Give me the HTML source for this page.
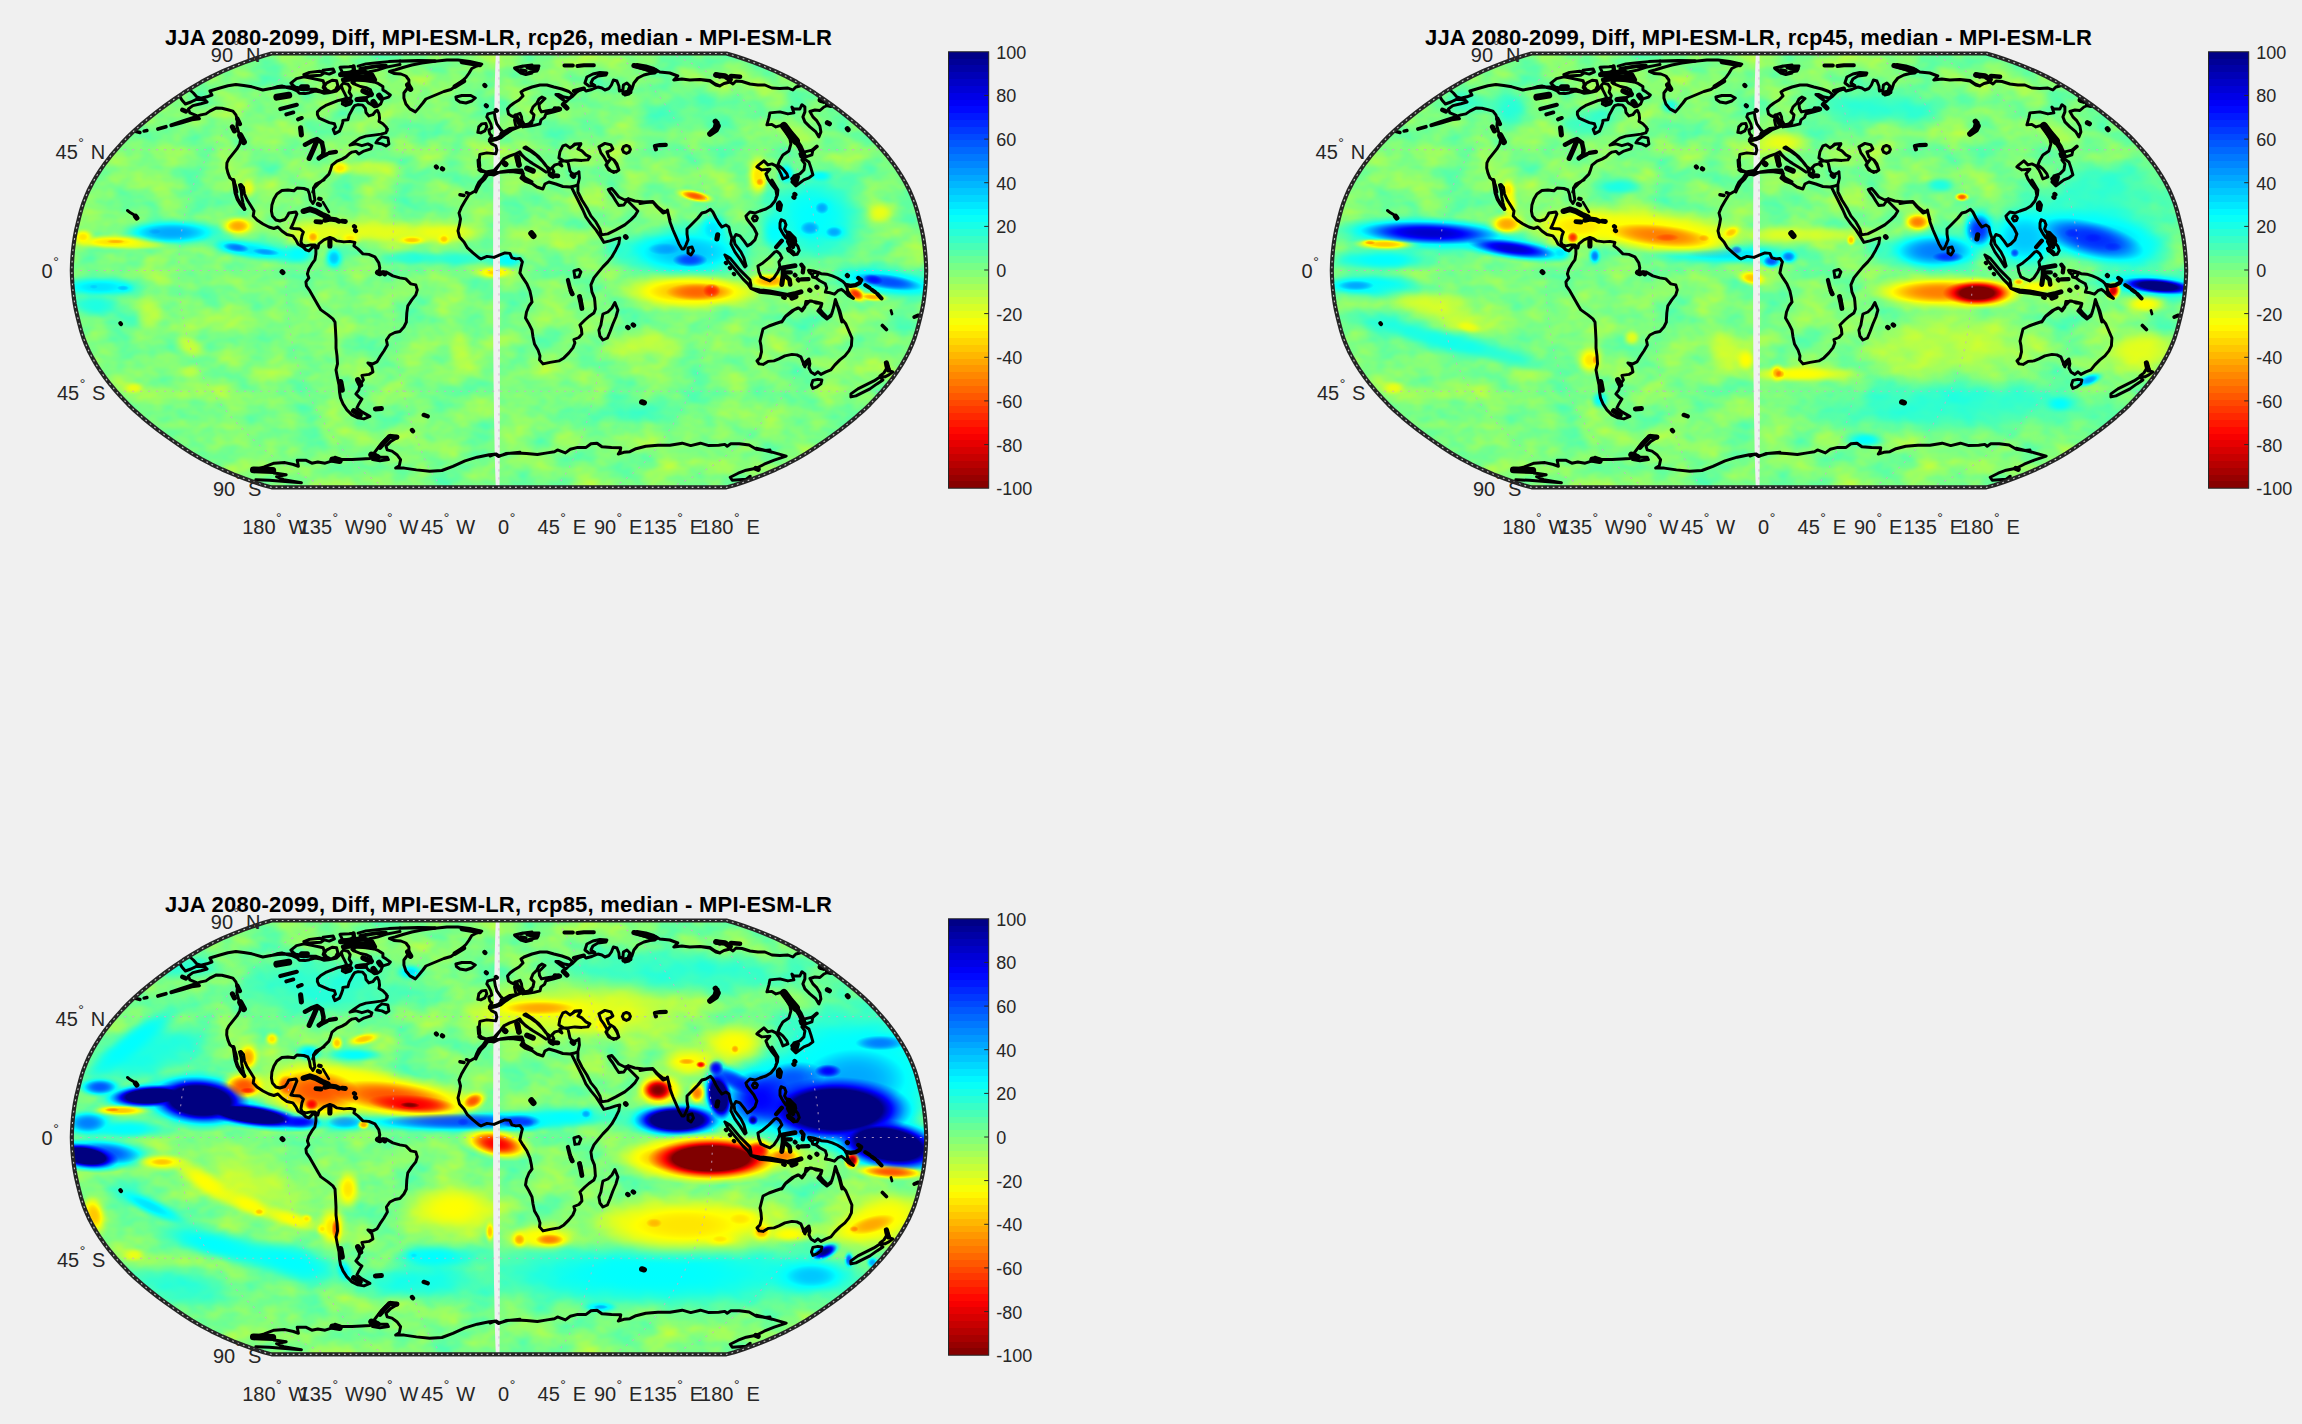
<!DOCTYPE html><html><head><meta charset="utf-8"><title>JJA 2080-2099 Diff MPI-ESM-LR</title>
<style>html,body{margin:0;padding:0;background:#f0f0f0;}body{width:2302px;height:1424px;overflow:hidden;}svg{display:block;font-family:"Liberation Sans",Arial,Helvetica,sans-serif;}.t{font-weight:bold;font-size:22px;fill:#000}.l{font-size:20px;fill:#262626}</style></head><body>
<svg width="2302" height="1424" viewBox="0 0 2302 1424">
<defs>
<clipPath id="rob"><path d="M271.6,487.4 L263.7,485.2 L254.6,482.2 L244.4,478.5 L233.6,474.3 L222.3,469.5 L211.4,464.3 L201.4,459 L192,453.4 L183.1,447.8 L174.5,441.9 L166,435.9 L157.8,429.8 L149.9,423.6 L142.3,417.3 L135,410.9 L128.2,404.4 L122,397.9 L116.1,391.3 L110.5,384.7 L105.3,378 L100.6,371.3 L96.3,364.6 L92.4,357.9 L88.9,351.2 L85.9,344.4 L83.3,337.7 L81.2,331 L79.4,324.3 L77.7,317.5 L76.1,310.8 L74.8,304.1 L73.8,297.4 L73,290.6 L72.4,283.9 L72,277.2 L71.8,270.4 L72,263.7 L72.4,257 L73,250.3 L73.8,243.5 L74.8,236.8 L76.1,230.1 L77.7,223.4 L79.4,216.6 L81.2,209.9 L83.3,203.2 L85.9,196.5 L88.9,189.7 L92.4,183 L96.3,176.3 L100.6,169.6 L105.3,162.9 L110.5,156.2 L116.1,149.6 L122,143 L128.2,136.5 L135,130 L142.3,123.6 L149.9,117.3 L157.8,111.1 L166,105 L174.5,99 L183.1,93.1 L192,87.5 L201.4,81.9 L211.4,76.6 L222.3,71.4 L233.6,66.6 L244.4,62.4 L254.6,58.7 L263.7,55.7 L271.6,53.5 L726.4,53.5 L734.3,55.7 L743.4,58.7 L753.6,62.4 L764.4,66.6 L775.7,71.4 L786.6,76.6 L796.6,81.9 L806,87.5 L814.9,93.1 L823.5,99 L832,105 L840.2,111.1 L848.1,117.3 L855.7,123.6 L863,130 L869.8,136.5 L876,143 L881.9,149.6 L887.5,156.2 L892.7,162.9 L897.4,169.6 L901.7,176.3 L905.6,183 L909.1,189.7 L912.1,196.5 L914.7,203.2 L916.8,209.9 L918.6,216.6 L920.3,223.4 L921.9,230.1 L923.2,236.8 L924.2,243.5 L925,250.3 L925.6,257 L926,263.7 L926.2,270.4 L926,277.2 L925.6,283.9 L925,290.6 L924.2,297.4 L923.2,304.1 L921.9,310.8 L920.3,317.5 L918.6,324.3 L916.8,331 L914.7,337.7 L912.1,344.4 L909.1,351.2 L905.6,357.9 L901.7,364.6 L897.4,371.3 L892.7,378 L887.5,384.7 L881.9,391.3 L876,397.9 L869.8,404.4 L863,410.9 L855.7,417.3 L848.1,423.6 L840.2,429.8 L832,435.9 L823.5,441.9 L814.9,447.8 L806,453.4 L796.6,459 L786.6,464.3 L775.7,469.5 L764.4,474.3 L753.6,478.5 L743.4,482.2 L734.3,485.2 L726.4,487.4Z"/></clipPath>
<filter id="b2" x="-50%" y="-50%" width="200%" height="200%"><feGaussianBlur stdDeviation="2"/></filter>
<filter id="b3" x="-50%" y="-50%" width="200%" height="200%"><feGaussianBlur stdDeviation="3"/></filter>
<filter id="b4" x="-50%" y="-50%" width="200%" height="200%"><feGaussianBlur stdDeviation="4"/></filter>
<filter id="b6" x="-50%" y="-50%" width="200%" height="200%"><feGaussianBlur stdDeviation="6"/></filter>
<filter id="b9" x="-50%" y="-50%" width="200%" height="200%"><feGaussianBlur stdDeviation="9"/></filter>
<filter id="b14" x="-50%" y="-50%" width="200%" height="200%"><feGaussianBlur stdDeviation="14"/></filter>
<linearGradient id="jet" x1="0" y1="0" x2="0" y2="1"><stop offset="0.000%" stop-color="#000087"/><stop offset="1.562%" stop-color="#000087"/><stop offset="1.562%" stop-color="#000097"/><stop offset="3.125%" stop-color="#000097"/><stop offset="3.125%" stop-color="#0000a7"/><stop offset="4.688%" stop-color="#0000a7"/><stop offset="4.688%" stop-color="#0000b7"/><stop offset="6.250%" stop-color="#0000b7"/><stop offset="6.250%" stop-color="#0000c7"/><stop offset="7.812%" stop-color="#0000c7"/><stop offset="7.812%" stop-color="#0000d7"/><stop offset="9.375%" stop-color="#0000d7"/><stop offset="9.375%" stop-color="#0000e7"/><stop offset="10.938%" stop-color="#0000e7"/><stop offset="10.938%" stop-color="#0000f7"/><stop offset="12.500%" stop-color="#0000f7"/><stop offset="12.500%" stop-color="#0008ff"/><stop offset="14.062%" stop-color="#0008ff"/><stop offset="14.062%" stop-color="#0018ff"/><stop offset="15.625%" stop-color="#0018ff"/><stop offset="15.625%" stop-color="#0028ff"/><stop offset="17.188%" stop-color="#0028ff"/><stop offset="17.188%" stop-color="#0038ff"/><stop offset="18.750%" stop-color="#0038ff"/><stop offset="18.750%" stop-color="#0048ff"/><stop offset="20.312%" stop-color="#0048ff"/><stop offset="20.312%" stop-color="#0058ff"/><stop offset="21.875%" stop-color="#0058ff"/><stop offset="21.875%" stop-color="#0068ff"/><stop offset="23.438%" stop-color="#0068ff"/><stop offset="23.438%" stop-color="#0078ff"/><stop offset="25.000%" stop-color="#0078ff"/><stop offset="25.000%" stop-color="#0087ff"/><stop offset="26.562%" stop-color="#0087ff"/><stop offset="26.562%" stop-color="#0097ff"/><stop offset="28.125%" stop-color="#0097ff"/><stop offset="28.125%" stop-color="#00a7ff"/><stop offset="29.688%" stop-color="#00a7ff"/><stop offset="29.688%" stop-color="#00b7ff"/><stop offset="31.250%" stop-color="#00b7ff"/><stop offset="31.250%" stop-color="#00c7ff"/><stop offset="32.812%" stop-color="#00c7ff"/><stop offset="32.812%" stop-color="#00d7ff"/><stop offset="34.375%" stop-color="#00d7ff"/><stop offset="34.375%" stop-color="#00e7ff"/><stop offset="35.938%" stop-color="#00e7ff"/><stop offset="35.938%" stop-color="#00f7ff"/><stop offset="37.500%" stop-color="#00f7ff"/><stop offset="37.500%" stop-color="#08fff7"/><stop offset="39.062%" stop-color="#08fff7"/><stop offset="39.062%" stop-color="#18ffe7"/><stop offset="40.625%" stop-color="#18ffe7"/><stop offset="40.625%" stop-color="#28ffd7"/><stop offset="42.188%" stop-color="#28ffd7"/><stop offset="42.188%" stop-color="#38ffc7"/><stop offset="43.750%" stop-color="#38ffc7"/><stop offset="43.750%" stop-color="#48ffb7"/><stop offset="45.312%" stop-color="#48ffb7"/><stop offset="45.312%" stop-color="#58ffa7"/><stop offset="46.875%" stop-color="#58ffa7"/><stop offset="46.875%" stop-color="#68ff97"/><stop offset="48.438%" stop-color="#68ff97"/><stop offset="48.438%" stop-color="#78ff87"/><stop offset="50.000%" stop-color="#78ff87"/><stop offset="50.000%" stop-color="#87ff78"/><stop offset="51.562%" stop-color="#87ff78"/><stop offset="51.562%" stop-color="#97ff68"/><stop offset="53.125%" stop-color="#97ff68"/><stop offset="53.125%" stop-color="#a7ff58"/><stop offset="54.688%" stop-color="#a7ff58"/><stop offset="54.688%" stop-color="#b7ff48"/><stop offset="56.250%" stop-color="#b7ff48"/><stop offset="56.250%" stop-color="#c7ff38"/><stop offset="57.812%" stop-color="#c7ff38"/><stop offset="57.812%" stop-color="#d7ff28"/><stop offset="59.375%" stop-color="#d7ff28"/><stop offset="59.375%" stop-color="#e7ff18"/><stop offset="60.938%" stop-color="#e7ff18"/><stop offset="60.938%" stop-color="#f7ff08"/><stop offset="62.500%" stop-color="#f7ff08"/><stop offset="62.500%" stop-color="#fff700"/><stop offset="64.062%" stop-color="#fff700"/><stop offset="64.062%" stop-color="#ffe700"/><stop offset="65.625%" stop-color="#ffe700"/><stop offset="65.625%" stop-color="#ffd700"/><stop offset="67.188%" stop-color="#ffd700"/><stop offset="67.188%" stop-color="#ffc700"/><stop offset="68.750%" stop-color="#ffc700"/><stop offset="68.750%" stop-color="#ffb700"/><stop offset="70.312%" stop-color="#ffb700"/><stop offset="70.312%" stop-color="#ffa700"/><stop offset="71.875%" stop-color="#ffa700"/><stop offset="71.875%" stop-color="#ff9700"/><stop offset="73.438%" stop-color="#ff9700"/><stop offset="73.438%" stop-color="#ff8700"/><stop offset="75.000%" stop-color="#ff8700"/><stop offset="75.000%" stop-color="#ff7800"/><stop offset="76.562%" stop-color="#ff7800"/><stop offset="76.562%" stop-color="#ff6800"/><stop offset="78.125%" stop-color="#ff6800"/><stop offset="78.125%" stop-color="#ff5800"/><stop offset="79.688%" stop-color="#ff5800"/><stop offset="79.688%" stop-color="#ff4800"/><stop offset="81.250%" stop-color="#ff4800"/><stop offset="81.250%" stop-color="#ff3800"/><stop offset="82.812%" stop-color="#ff3800"/><stop offset="82.812%" stop-color="#ff2800"/><stop offset="84.375%" stop-color="#ff2800"/><stop offset="84.375%" stop-color="#ff1800"/><stop offset="85.938%" stop-color="#ff1800"/><stop offset="85.938%" stop-color="#ff0800"/><stop offset="87.500%" stop-color="#ff0800"/><stop offset="87.500%" stop-color="#f70000"/><stop offset="89.062%" stop-color="#f70000"/><stop offset="89.062%" stop-color="#e70000"/><stop offset="90.625%" stop-color="#e70000"/><stop offset="90.625%" stop-color="#d70000"/><stop offset="92.188%" stop-color="#d70000"/><stop offset="92.188%" stop-color="#c70000"/><stop offset="93.750%" stop-color="#c70000"/><stop offset="93.750%" stop-color="#b70000"/><stop offset="95.312%" stop-color="#b70000"/><stop offset="95.312%" stop-color="#a70000"/><stop offset="96.875%" stop-color="#a70000"/><stop offset="96.875%" stop-color="#970000"/><stop offset="98.438%" stop-color="#970000"/><stop offset="98.438%" stop-color="#870000"/><stop offset="100.000%" stop-color="#870000"/></linearGradient>
<radialGradient id="n8_1"><stop offset="0" stop-color="#ffff00" stop-opacity="0.320"/><stop offset="0.12" stop-color="#ffff00" stop-opacity="0.318"/><stop offset="0.2" stop-color="#ffff00" stop-opacity="0.309"/><stop offset="0.28" stop-color="#ffff00" stop-opacity="0.292"/><stop offset="0.36" stop-color="#ffff00" stop-opacity="0.263"/><stop offset="0.44" stop-color="#ffff00" stop-opacity="0.224"/><stop offset="0.52" stop-color="#ffff00" stop-opacity="0.177"/><stop offset="0.6" stop-color="#ffff00" stop-opacity="0.129"/><stop offset="0.68" stop-color="#ffff00" stop-opacity="0.086"/><stop offset="0.76" stop-color="#ffff00" stop-opacity="0.051"/><stop offset="0.84" stop-color="#ffff00" stop-opacity="0.027"/><stop offset="0.92" stop-color="#ffff00" stop-opacity="0.012"/><stop offset="1" stop-color="#ffff00" stop-opacity="0.000"/></radialGradient>
<radialGradient id="p8_1"><stop offset="0" stop-color="#00ffff" stop-opacity="0.320"/><stop offset="0.12" stop-color="#00ffff" stop-opacity="0.318"/><stop offset="0.2" stop-color="#00ffff" stop-opacity="0.309"/><stop offset="0.28" stop-color="#00ffff" stop-opacity="0.292"/><stop offset="0.36" stop-color="#00ffff" stop-opacity="0.263"/><stop offset="0.44" stop-color="#00ffff" stop-opacity="0.224"/><stop offset="0.52" stop-color="#00ffff" stop-opacity="0.177"/><stop offset="0.6" stop-color="#00ffff" stop-opacity="0.129"/><stop offset="0.68" stop-color="#00ffff" stop-opacity="0.086"/><stop offset="0.76" stop-color="#00ffff" stop-opacity="0.051"/><stop offset="0.84" stop-color="#00ffff" stop-opacity="0.027"/><stop offset="0.92" stop-color="#00ffff" stop-opacity="0.012"/><stop offset="1" stop-color="#00ffff" stop-opacity="0.000"/></radialGradient>
<radialGradient id="n12_1"><stop offset="0" stop-color="#ffff00" stop-opacity="0.480"/><stop offset="0.12" stop-color="#ffff00" stop-opacity="0.477"/><stop offset="0.2" stop-color="#ffff00" stop-opacity="0.464"/><stop offset="0.28" stop-color="#ffff00" stop-opacity="0.438"/><stop offset="0.36" stop-color="#ffff00" stop-opacity="0.395"/><stop offset="0.44" stop-color="#ffff00" stop-opacity="0.336"/><stop offset="0.52" stop-color="#ffff00" stop-opacity="0.266"/><stop offset="0.6" stop-color="#ffff00" stop-opacity="0.194"/><stop offset="0.68" stop-color="#ffff00" stop-opacity="0.128"/><stop offset="0.76" stop-color="#ffff00" stop-opacity="0.076"/><stop offset="0.84" stop-color="#ffff00" stop-opacity="0.040"/><stop offset="0.92" stop-color="#ffff00" stop-opacity="0.018"/><stop offset="1" stop-color="#ffff00" stop-opacity="0.000"/></radialGradient>
<radialGradient id="p12_1"><stop offset="0" stop-color="#00ffff" stop-opacity="0.480"/><stop offset="0.12" stop-color="#00ffff" stop-opacity="0.477"/><stop offset="0.2" stop-color="#00ffff" stop-opacity="0.464"/><stop offset="0.28" stop-color="#00ffff" stop-opacity="0.438"/><stop offset="0.36" stop-color="#00ffff" stop-opacity="0.395"/><stop offset="0.44" stop-color="#00ffff" stop-opacity="0.336"/><stop offset="0.52" stop-color="#00ffff" stop-opacity="0.266"/><stop offset="0.6" stop-color="#00ffff" stop-opacity="0.194"/><stop offset="0.68" stop-color="#00ffff" stop-opacity="0.128"/><stop offset="0.76" stop-color="#00ffff" stop-opacity="0.076"/><stop offset="0.84" stop-color="#00ffff" stop-opacity="0.040"/><stop offset="0.92" stop-color="#00ffff" stop-opacity="0.018"/><stop offset="1" stop-color="#00ffff" stop-opacity="0.000"/></radialGradient>
<radialGradient id="n16_1"><stop offset="0" stop-color="#ffff00" stop-opacity="0.640"/><stop offset="0.12" stop-color="#ffff00" stop-opacity="0.635"/><stop offset="0.2" stop-color="#ffff00" stop-opacity="0.619"/><stop offset="0.28" stop-color="#ffff00" stop-opacity="0.584"/><stop offset="0.36" stop-color="#ffff00" stop-opacity="0.526"/><stop offset="0.44" stop-color="#ffff00" stop-opacity="0.448"/><stop offset="0.52" stop-color="#ffff00" stop-opacity="0.355"/><stop offset="0.6" stop-color="#ffff00" stop-opacity="0.259"/><stop offset="0.68" stop-color="#ffff00" stop-opacity="0.171"/><stop offset="0.76" stop-color="#ffff00" stop-opacity="0.101"/><stop offset="0.84" stop-color="#ffff00" stop-opacity="0.053"/><stop offset="0.92" stop-color="#ffff00" stop-opacity="0.024"/><stop offset="1" stop-color="#ffff00" stop-opacity="0.000"/></radialGradient>
<radialGradient id="p16_1"><stop offset="0" stop-color="#00ffff" stop-opacity="0.640"/><stop offset="0.12" stop-color="#00ffff" stop-opacity="0.635"/><stop offset="0.2" stop-color="#00ffff" stop-opacity="0.619"/><stop offset="0.28" stop-color="#00ffff" stop-opacity="0.584"/><stop offset="0.36" stop-color="#00ffff" stop-opacity="0.526"/><stop offset="0.44" stop-color="#00ffff" stop-opacity="0.448"/><stop offset="0.52" stop-color="#00ffff" stop-opacity="0.355"/><stop offset="0.6" stop-color="#00ffff" stop-opacity="0.259"/><stop offset="0.68" stop-color="#00ffff" stop-opacity="0.171"/><stop offset="0.76" stop-color="#00ffff" stop-opacity="0.101"/><stop offset="0.84" stop-color="#00ffff" stop-opacity="0.053"/><stop offset="0.92" stop-color="#00ffff" stop-opacity="0.024"/><stop offset="1" stop-color="#00ffff" stop-opacity="0.000"/></radialGradient>
<radialGradient id="n20_1"><stop offset="0" stop-color="#ffff00" stop-opacity="0.800"/><stop offset="0.12" stop-color="#ffff00" stop-opacity="0.794"/><stop offset="0.2" stop-color="#ffff00" stop-opacity="0.774"/><stop offset="0.28" stop-color="#ffff00" stop-opacity="0.730"/><stop offset="0.36" stop-color="#ffff00" stop-opacity="0.658"/><stop offset="0.44" stop-color="#ffff00" stop-opacity="0.560"/><stop offset="0.52" stop-color="#ffff00" stop-opacity="0.443"/><stop offset="0.6" stop-color="#ffff00" stop-opacity="0.323"/><stop offset="0.68" stop-color="#ffff00" stop-opacity="0.214"/><stop offset="0.76" stop-color="#ffff00" stop-opacity="0.127"/><stop offset="0.84" stop-color="#ffff00" stop-opacity="0.067"/><stop offset="0.92" stop-color="#ffff00" stop-opacity="0.030"/><stop offset="1" stop-color="#ffff00" stop-opacity="0.000"/></radialGradient>
<radialGradient id="p20_1"><stop offset="0" stop-color="#00ffff" stop-opacity="0.800"/><stop offset="0.12" stop-color="#00ffff" stop-opacity="0.794"/><stop offset="0.2" stop-color="#00ffff" stop-opacity="0.774"/><stop offset="0.28" stop-color="#00ffff" stop-opacity="0.730"/><stop offset="0.36" stop-color="#00ffff" stop-opacity="0.658"/><stop offset="0.44" stop-color="#00ffff" stop-opacity="0.560"/><stop offset="0.52" stop-color="#00ffff" stop-opacity="0.443"/><stop offset="0.6" stop-color="#00ffff" stop-opacity="0.323"/><stop offset="0.68" stop-color="#00ffff" stop-opacity="0.214"/><stop offset="0.76" stop-color="#00ffff" stop-opacity="0.127"/><stop offset="0.84" stop-color="#00ffff" stop-opacity="0.067"/><stop offset="0.92" stop-color="#00ffff" stop-opacity="0.030"/><stop offset="1" stop-color="#00ffff" stop-opacity="0.000"/></radialGradient>
<radialGradient id="n25_1"><stop offset="0" stop-color="#ffff00" stop-opacity="1.000"/><stop offset="0.12" stop-color="#ffff00" stop-opacity="0.993"/><stop offset="0.2" stop-color="#ffff00" stop-opacity="0.967"/><stop offset="0.28" stop-color="#ffff00" stop-opacity="0.912"/><stop offset="0.36" stop-color="#ffff00" stop-opacity="0.822"/><stop offset="0.44" stop-color="#ffff00" stop-opacity="0.699"/><stop offset="0.52" stop-color="#ffff00" stop-opacity="0.554"/><stop offset="0.6" stop-color="#ffff00" stop-opacity="0.404"/><stop offset="0.68" stop-color="#ffff00" stop-opacity="0.267"/><stop offset="0.76" stop-color="#ffff00" stop-opacity="0.159"/><stop offset="0.84" stop-color="#ffff00" stop-opacity="0.083"/><stop offset="0.92" stop-color="#ffff00" stop-opacity="0.038"/><stop offset="1" stop-color="#ffff00" stop-opacity="0.000"/></radialGradient>
<radialGradient id="p25_1"><stop offset="0" stop-color="#00ffff" stop-opacity="1.000"/><stop offset="0.12" stop-color="#00ffff" stop-opacity="0.993"/><stop offset="0.2" stop-color="#00ffff" stop-opacity="0.967"/><stop offset="0.28" stop-color="#00ffff" stop-opacity="0.912"/><stop offset="0.36" stop-color="#00ffff" stop-opacity="0.822"/><stop offset="0.44" stop-color="#00ffff" stop-opacity="0.699"/><stop offset="0.52" stop-color="#00ffff" stop-opacity="0.554"/><stop offset="0.6" stop-color="#00ffff" stop-opacity="0.404"/><stop offset="0.68" stop-color="#00ffff" stop-opacity="0.267"/><stop offset="0.76" stop-color="#00ffff" stop-opacity="0.159"/><stop offset="0.84" stop-color="#00ffff" stop-opacity="0.083"/><stop offset="0.92" stop-color="#00ffff" stop-opacity="0.038"/><stop offset="1" stop-color="#00ffff" stop-opacity="0.000"/></radialGradient>
<radialGradient id="n30_1"><stop offset="0" stop-color="#ffff00" stop-opacity="1.000"/><stop offset="0.12" stop-color="#ffff00" stop-opacity="1.000"/><stop offset="0.2" stop-color="#ffff00" stop-opacity="1.000"/><stop offset="0.28" stop-color="#ffff00" stop-opacity="1.000"/><stop offset="0.352" stop-color="#ffff00" stop-opacity="0.999"/><stop offset="0.36" stop-color="#ffff00" stop-opacity="0.987"/><stop offset="0.44" stop-color="#ffff00" stop-opacity="0.839"/><stop offset="0.52" stop-color="#ffff00" stop-opacity="0.665"/><stop offset="0.6" stop-color="#ffff00" stop-opacity="0.485"/><stop offset="0.68" stop-color="#ffff00" stop-opacity="0.321"/><stop offset="0.76" stop-color="#ffff00" stop-opacity="0.190"/><stop offset="0.84" stop-color="#ffff00" stop-opacity="0.100"/><stop offset="0.92" stop-color="#ffff00" stop-opacity="0.046"/><stop offset="1" stop-color="#ffff00" stop-opacity="0.000"/></radialGradient>
<radialGradient id="n30_2"><stop offset="0" stop-color="#ff0000" stop-opacity="0.100"/><stop offset="0.12" stop-color="#ff0000" stop-opacity="0.096"/><stop offset="0.2" stop-color="#ff0000" stop-opacity="0.080"/><stop offset="0.28" stop-color="#ff0000" stop-opacity="0.047"/><stop offset="0.352" stop-color="#ff0000" stop-opacity="0.000"/><stop offset="1" stop-color="#ff0000" stop-opacity="0.000"/></radialGradient>
<radialGradient id="p30_1"><stop offset="0" stop-color="#00ffff" stop-opacity="1.000"/><stop offset="0.12" stop-color="#00ffff" stop-opacity="1.000"/><stop offset="0.2" stop-color="#00ffff" stop-opacity="1.000"/><stop offset="0.28" stop-color="#00ffff" stop-opacity="1.000"/><stop offset="0.352" stop-color="#00ffff" stop-opacity="0.999"/><stop offset="0.36" stop-color="#00ffff" stop-opacity="0.987"/><stop offset="0.44" stop-color="#00ffff" stop-opacity="0.839"/><stop offset="0.52" stop-color="#00ffff" stop-opacity="0.665"/><stop offset="0.6" stop-color="#00ffff" stop-opacity="0.485"/><stop offset="0.68" stop-color="#00ffff" stop-opacity="0.321"/><stop offset="0.76" stop-color="#00ffff" stop-opacity="0.190"/><stop offset="0.84" stop-color="#00ffff" stop-opacity="0.100"/><stop offset="0.92" stop-color="#00ffff" stop-opacity="0.046"/><stop offset="1" stop-color="#00ffff" stop-opacity="0.000"/></radialGradient>
<radialGradient id="p30_2"><stop offset="0" stop-color="#0000ff" stop-opacity="0.100"/><stop offset="0.12" stop-color="#0000ff" stop-opacity="0.096"/><stop offset="0.2" stop-color="#0000ff" stop-opacity="0.080"/><stop offset="0.28" stop-color="#0000ff" stop-opacity="0.047"/><stop offset="0.352" stop-color="#0000ff" stop-opacity="0.000"/><stop offset="1" stop-color="#0000ff" stop-opacity="0.000"/></radialGradient>
<radialGradient id="n36_1"><stop offset="0" stop-color="#ffff00" stop-opacity="1.000"/><stop offset="0.12" stop-color="#ffff00" stop-opacity="1.000"/><stop offset="0.2" stop-color="#ffff00" stop-opacity="1.000"/><stop offset="0.28" stop-color="#ffff00" stop-opacity="1.000"/><stop offset="0.36" stop-color="#ffff00" stop-opacity="1.000"/><stop offset="0.44" stop-color="#ffff00" stop-opacity="1.000"/><stop offset="0.443" stop-color="#ffff00" stop-opacity="1.000"/><stop offset="0.52" stop-color="#ffff00" stop-opacity="0.798"/><stop offset="0.6" stop-color="#ffff00" stop-opacity="0.582"/><stop offset="0.68" stop-color="#ffff00" stop-opacity="0.385"/><stop offset="0.76" stop-color="#ffff00" stop-opacity="0.228"/><stop offset="0.84" stop-color="#ffff00" stop-opacity="0.120"/><stop offset="0.92" stop-color="#ffff00" stop-opacity="0.055"/><stop offset="1" stop-color="#ffff00" stop-opacity="0.000"/></radialGradient>
<radialGradient id="n36_2"><stop offset="0" stop-color="#ff0000" stop-opacity="0.220"/><stop offset="0.12" stop-color="#ff0000" stop-opacity="0.215"/><stop offset="0.2" stop-color="#ff0000" stop-opacity="0.196"/><stop offset="0.28" stop-color="#ff0000" stop-opacity="0.157"/><stop offset="0.36" stop-color="#ff0000" stop-opacity="0.092"/><stop offset="0.44" stop-color="#ff0000" stop-opacity="0.004"/><stop offset="0.443" stop-color="#ff0000" stop-opacity="0.000"/><stop offset="1" stop-color="#ff0000" stop-opacity="0.000"/></radialGradient>
<radialGradient id="p36_1"><stop offset="0" stop-color="#00ffff" stop-opacity="1.000"/><stop offset="0.12" stop-color="#00ffff" stop-opacity="1.000"/><stop offset="0.2" stop-color="#00ffff" stop-opacity="1.000"/><stop offset="0.28" stop-color="#00ffff" stop-opacity="1.000"/><stop offset="0.36" stop-color="#00ffff" stop-opacity="1.000"/><stop offset="0.44" stop-color="#00ffff" stop-opacity="1.000"/><stop offset="0.443" stop-color="#00ffff" stop-opacity="1.000"/><stop offset="0.52" stop-color="#00ffff" stop-opacity="0.798"/><stop offset="0.6" stop-color="#00ffff" stop-opacity="0.582"/><stop offset="0.68" stop-color="#00ffff" stop-opacity="0.385"/><stop offset="0.76" stop-color="#00ffff" stop-opacity="0.228"/><stop offset="0.84" stop-color="#00ffff" stop-opacity="0.120"/><stop offset="0.92" stop-color="#00ffff" stop-opacity="0.055"/><stop offset="1" stop-color="#00ffff" stop-opacity="0.000"/></radialGradient>
<radialGradient id="p36_2"><stop offset="0" stop-color="#0000ff" stop-opacity="0.220"/><stop offset="0.12" stop-color="#0000ff" stop-opacity="0.215"/><stop offset="0.2" stop-color="#0000ff" stop-opacity="0.196"/><stop offset="0.28" stop-color="#0000ff" stop-opacity="0.157"/><stop offset="0.36" stop-color="#0000ff" stop-opacity="0.092"/><stop offset="0.44" stop-color="#0000ff" stop-opacity="0.004"/><stop offset="0.443" stop-color="#0000ff" stop-opacity="0.000"/><stop offset="1" stop-color="#0000ff" stop-opacity="0.000"/></radialGradient>
<radialGradient id="n42_1"><stop offset="0" stop-color="#ffff00" stop-opacity="1.000"/><stop offset="0.12" stop-color="#ffff00" stop-opacity="1.000"/><stop offset="0.2" stop-color="#ffff00" stop-opacity="1.000"/><stop offset="0.28" stop-color="#ffff00" stop-opacity="1.000"/><stop offset="0.36" stop-color="#ffff00" stop-opacity="1.000"/><stop offset="0.44" stop-color="#ffff00" stop-opacity="1.000"/><stop offset="0.498" stop-color="#ffff00" stop-opacity="1.000"/><stop offset="0.52" stop-color="#ffff00" stop-opacity="0.931"/><stop offset="0.6" stop-color="#ffff00" stop-opacity="0.679"/><stop offset="0.68" stop-color="#ffff00" stop-opacity="0.449"/><stop offset="0.76" stop-color="#ffff00" stop-opacity="0.266"/><stop offset="0.84" stop-color="#ffff00" stop-opacity="0.140"/><stop offset="0.92" stop-color="#ffff00" stop-opacity="0.064"/><stop offset="1" stop-color="#ffff00" stop-opacity="0.000"/></radialGradient>
<radialGradient id="n42_2"><stop offset="0" stop-color="#ff0000" stop-opacity="0.340"/><stop offset="0.12" stop-color="#ff0000" stop-opacity="0.334"/><stop offset="0.2" stop-color="#ff0000" stop-opacity="0.312"/><stop offset="0.28" stop-color="#ff0000" stop-opacity="0.266"/><stop offset="0.36" stop-color="#ff0000" stop-opacity="0.191"/><stop offset="0.44" stop-color="#ff0000" stop-opacity="0.088"/><stop offset="0.498" stop-color="#ff0000" stop-opacity="0.000"/><stop offset="0.52" stop-color="#ff0000" stop-opacity="0.000"/><stop offset="1" stop-color="#ff0000" stop-opacity="0.000"/></radialGradient>
<radialGradient id="p42_1"><stop offset="0" stop-color="#00ffff" stop-opacity="1.000"/><stop offset="0.12" stop-color="#00ffff" stop-opacity="1.000"/><stop offset="0.2" stop-color="#00ffff" stop-opacity="1.000"/><stop offset="0.28" stop-color="#00ffff" stop-opacity="1.000"/><stop offset="0.36" stop-color="#00ffff" stop-opacity="1.000"/><stop offset="0.44" stop-color="#00ffff" stop-opacity="1.000"/><stop offset="0.498" stop-color="#00ffff" stop-opacity="1.000"/><stop offset="0.52" stop-color="#00ffff" stop-opacity="0.931"/><stop offset="0.6" stop-color="#00ffff" stop-opacity="0.679"/><stop offset="0.68" stop-color="#00ffff" stop-opacity="0.449"/><stop offset="0.76" stop-color="#00ffff" stop-opacity="0.266"/><stop offset="0.84" stop-color="#00ffff" stop-opacity="0.140"/><stop offset="0.92" stop-color="#00ffff" stop-opacity="0.064"/><stop offset="1" stop-color="#00ffff" stop-opacity="0.000"/></radialGradient>
<radialGradient id="p42_2"><stop offset="0" stop-color="#0000ff" stop-opacity="0.340"/><stop offset="0.12" stop-color="#0000ff" stop-opacity="0.334"/><stop offset="0.2" stop-color="#0000ff" stop-opacity="0.312"/><stop offset="0.28" stop-color="#0000ff" stop-opacity="0.266"/><stop offset="0.36" stop-color="#0000ff" stop-opacity="0.191"/><stop offset="0.44" stop-color="#0000ff" stop-opacity="0.088"/><stop offset="0.498" stop-color="#0000ff" stop-opacity="0.000"/><stop offset="0.52" stop-color="#0000ff" stop-opacity="0.000"/><stop offset="1" stop-color="#0000ff" stop-opacity="0.000"/></radialGradient>
<radialGradient id="n50_1"><stop offset="0" stop-color="#ffff00" stop-opacity="1.000"/><stop offset="0.12" stop-color="#ffff00" stop-opacity="1.000"/><stop offset="0.2" stop-color="#ffff00" stop-opacity="1.000"/><stop offset="0.28" stop-color="#ffff00" stop-opacity="1.000"/><stop offset="0.36" stop-color="#ffff00" stop-opacity="1.000"/><stop offset="0.44" stop-color="#ffff00" stop-opacity="1.000"/><stop offset="0.52" stop-color="#ffff00" stop-opacity="1.000"/><stop offset="0.549" stop-color="#ffff00" stop-opacity="0.999"/><stop offset="0.6" stop-color="#ffff00" stop-opacity="0.808"/><stop offset="0.68" stop-color="#ffff00" stop-opacity="0.535"/><stop offset="0.76" stop-color="#ffff00" stop-opacity="0.317"/><stop offset="0.84" stop-color="#ffff00" stop-opacity="0.166"/><stop offset="0.92" stop-color="#ffff00" stop-opacity="0.076"/><stop offset="1" stop-color="#ffff00" stop-opacity="0.000"/></radialGradient>
<radialGradient id="n50_2"><stop offset="0" stop-color="#ff0000" stop-opacity="0.500"/><stop offset="0.12" stop-color="#ff0000" stop-opacity="0.493"/><stop offset="0.2" stop-color="#ff0000" stop-opacity="0.467"/><stop offset="0.28" stop-color="#ff0000" stop-opacity="0.412"/><stop offset="0.36" stop-color="#ff0000" stop-opacity="0.322"/><stop offset="0.44" stop-color="#ff0000" stop-opacity="0.199"/><stop offset="0.52" stop-color="#ff0000" stop-opacity="0.054"/><stop offset="0.549" stop-color="#ff0000" stop-opacity="0.000"/><stop offset="1" stop-color="#ff0000" stop-opacity="0.000"/></radialGradient>
<radialGradient id="p50_1"><stop offset="0" stop-color="#00ffff" stop-opacity="1.000"/><stop offset="0.12" stop-color="#00ffff" stop-opacity="1.000"/><stop offset="0.2" stop-color="#00ffff" stop-opacity="1.000"/><stop offset="0.28" stop-color="#00ffff" stop-opacity="1.000"/><stop offset="0.36" stop-color="#00ffff" stop-opacity="1.000"/><stop offset="0.44" stop-color="#00ffff" stop-opacity="1.000"/><stop offset="0.52" stop-color="#00ffff" stop-opacity="1.000"/><stop offset="0.549" stop-color="#00ffff" stop-opacity="0.999"/><stop offset="0.6" stop-color="#00ffff" stop-opacity="0.808"/><stop offset="0.68" stop-color="#00ffff" stop-opacity="0.535"/><stop offset="0.76" stop-color="#00ffff" stop-opacity="0.317"/><stop offset="0.84" stop-color="#00ffff" stop-opacity="0.166"/><stop offset="0.92" stop-color="#00ffff" stop-opacity="0.076"/><stop offset="1" stop-color="#00ffff" stop-opacity="0.000"/></radialGradient>
<radialGradient id="p50_2"><stop offset="0" stop-color="#0000ff" stop-opacity="0.500"/><stop offset="0.12" stop-color="#0000ff" stop-opacity="0.493"/><stop offset="0.2" stop-color="#0000ff" stop-opacity="0.467"/><stop offset="0.28" stop-color="#0000ff" stop-opacity="0.412"/><stop offset="0.36" stop-color="#0000ff" stop-opacity="0.322"/><stop offset="0.44" stop-color="#0000ff" stop-opacity="0.199"/><stop offset="0.52" stop-color="#0000ff" stop-opacity="0.054"/><stop offset="0.549" stop-color="#0000ff" stop-opacity="0.000"/><stop offset="1" stop-color="#0000ff" stop-opacity="0.000"/></radialGradient>
<radialGradient id="n58_1"><stop offset="0" stop-color="#ffff00" stop-opacity="1.000"/><stop offset="0.12" stop-color="#ffff00" stop-opacity="1.000"/><stop offset="0.2" stop-color="#ffff00" stop-opacity="1.000"/><stop offset="0.28" stop-color="#ffff00" stop-opacity="1.000"/><stop offset="0.36" stop-color="#ffff00" stop-opacity="1.000"/><stop offset="0.44" stop-color="#ffff00" stop-opacity="1.000"/><stop offset="0.52" stop-color="#ffff00" stop-opacity="1.000"/><stop offset="0.585" stop-color="#ffff00" stop-opacity="1.000"/><stop offset="0.6" stop-color="#ffff00" stop-opacity="0.937"/><stop offset="0.68" stop-color="#ffff00" stop-opacity="0.620"/><stop offset="0.76" stop-color="#ffff00" stop-opacity="0.368"/><stop offset="0.84" stop-color="#ffff00" stop-opacity="0.193"/><stop offset="0.92" stop-color="#ffff00" stop-opacity="0.088"/><stop offset="1" stop-color="#ffff00" stop-opacity="0.000"/></radialGradient>
<radialGradient id="n58_2"><stop offset="0" stop-color="#ff0000" stop-opacity="0.660"/><stop offset="0.12" stop-color="#ff0000" stop-opacity="0.652"/><stop offset="0.2" stop-color="#ff0000" stop-opacity="0.622"/><stop offset="0.28" stop-color="#ff0000" stop-opacity="0.558"/><stop offset="0.36" stop-color="#ff0000" stop-opacity="0.454"/><stop offset="0.44" stop-color="#ff0000" stop-opacity="0.311"/><stop offset="0.52" stop-color="#ff0000" stop-opacity="0.143"/><stop offset="0.585" stop-color="#ff0000" stop-opacity="0.001"/><stop offset="0.6" stop-color="#ff0000" stop-opacity="0.000"/><stop offset="1" stop-color="#ff0000" stop-opacity="0.000"/></radialGradient>
<radialGradient id="p58_1"><stop offset="0" stop-color="#00ffff" stop-opacity="1.000"/><stop offset="0.12" stop-color="#00ffff" stop-opacity="1.000"/><stop offset="0.2" stop-color="#00ffff" stop-opacity="1.000"/><stop offset="0.28" stop-color="#00ffff" stop-opacity="1.000"/><stop offset="0.36" stop-color="#00ffff" stop-opacity="1.000"/><stop offset="0.44" stop-color="#00ffff" stop-opacity="1.000"/><stop offset="0.52" stop-color="#00ffff" stop-opacity="1.000"/><stop offset="0.585" stop-color="#00ffff" stop-opacity="1.000"/><stop offset="0.6" stop-color="#00ffff" stop-opacity="0.937"/><stop offset="0.68" stop-color="#00ffff" stop-opacity="0.620"/><stop offset="0.76" stop-color="#00ffff" stop-opacity="0.368"/><stop offset="0.84" stop-color="#00ffff" stop-opacity="0.193"/><stop offset="0.92" stop-color="#00ffff" stop-opacity="0.088"/><stop offset="1" stop-color="#00ffff" stop-opacity="0.000"/></radialGradient>
<radialGradient id="p58_2"><stop offset="0" stop-color="#0000ff" stop-opacity="0.660"/><stop offset="0.12" stop-color="#0000ff" stop-opacity="0.652"/><stop offset="0.2" stop-color="#0000ff" stop-opacity="0.622"/><stop offset="0.28" stop-color="#0000ff" stop-opacity="0.558"/><stop offset="0.36" stop-color="#0000ff" stop-opacity="0.454"/><stop offset="0.44" stop-color="#0000ff" stop-opacity="0.311"/><stop offset="0.52" stop-color="#0000ff" stop-opacity="0.143"/><stop offset="0.585" stop-color="#0000ff" stop-opacity="0.001"/><stop offset="0.6" stop-color="#0000ff" stop-opacity="0.000"/><stop offset="1" stop-color="#0000ff" stop-opacity="0.000"/></radialGradient>
<radialGradient id="n66_1"><stop offset="0" stop-color="#ffff00" stop-opacity="1.000"/><stop offset="0.12" stop-color="#ffff00" stop-opacity="1.000"/><stop offset="0.2" stop-color="#ffff00" stop-opacity="1.000"/><stop offset="0.28" stop-color="#ffff00" stop-opacity="1.000"/><stop offset="0.36" stop-color="#ffff00" stop-opacity="1.000"/><stop offset="0.44" stop-color="#ffff00" stop-opacity="1.000"/><stop offset="0.52" stop-color="#ffff00" stop-opacity="1.000"/><stop offset="0.6" stop-color="#ffff00" stop-opacity="1.000"/><stop offset="0.614" stop-color="#ffff00" stop-opacity="1.000"/><stop offset="0.68" stop-color="#ffff00" stop-opacity="0.706"/><stop offset="0.76" stop-color="#ffff00" stop-opacity="0.418"/><stop offset="0.84" stop-color="#ffff00" stop-opacity="0.220"/><stop offset="0.92" stop-color="#ffff00" stop-opacity="0.101"/><stop offset="1" stop-color="#ffff00" stop-opacity="0.000"/></radialGradient>
<radialGradient id="n66_2"><stop offset="0" stop-color="#ff0000" stop-opacity="0.820"/><stop offset="0.12" stop-color="#ff0000" stop-opacity="0.810"/><stop offset="0.2" stop-color="#ff0000" stop-opacity="0.776"/><stop offset="0.28" stop-color="#ff0000" stop-opacity="0.704"/><stop offset="0.36" stop-color="#ff0000" stop-opacity="0.585"/><stop offset="0.44" stop-color="#ff0000" stop-opacity="0.423"/><stop offset="0.52" stop-color="#ff0000" stop-opacity="0.232"/><stop offset="0.6" stop-color="#ff0000" stop-opacity="0.033"/><stop offset="0.614" stop-color="#ff0000" stop-opacity="0.000"/><stop offset="1" stop-color="#ff0000" stop-opacity="0.000"/></radialGradient>
<radialGradient id="p66_1"><stop offset="0" stop-color="#00ffff" stop-opacity="1.000"/><stop offset="0.12" stop-color="#00ffff" stop-opacity="1.000"/><stop offset="0.2" stop-color="#00ffff" stop-opacity="1.000"/><stop offset="0.28" stop-color="#00ffff" stop-opacity="1.000"/><stop offset="0.36" stop-color="#00ffff" stop-opacity="1.000"/><stop offset="0.44" stop-color="#00ffff" stop-opacity="1.000"/><stop offset="0.52" stop-color="#00ffff" stop-opacity="1.000"/><stop offset="0.6" stop-color="#00ffff" stop-opacity="1.000"/><stop offset="0.614" stop-color="#00ffff" stop-opacity="1.000"/><stop offset="0.68" stop-color="#00ffff" stop-opacity="0.706"/><stop offset="0.76" stop-color="#00ffff" stop-opacity="0.418"/><stop offset="0.84" stop-color="#00ffff" stop-opacity="0.220"/><stop offset="0.92" stop-color="#00ffff" stop-opacity="0.101"/><stop offset="1" stop-color="#00ffff" stop-opacity="0.000"/></radialGradient>
<radialGradient id="p66_2"><stop offset="0" stop-color="#0000ff" stop-opacity="0.820"/><stop offset="0.12" stop-color="#0000ff" stop-opacity="0.810"/><stop offset="0.2" stop-color="#0000ff" stop-opacity="0.776"/><stop offset="0.28" stop-color="#0000ff" stop-opacity="0.704"/><stop offset="0.36" stop-color="#0000ff" stop-opacity="0.585"/><stop offset="0.44" stop-color="#0000ff" stop-opacity="0.423"/><stop offset="0.52" stop-color="#0000ff" stop-opacity="0.232"/><stop offset="0.6" stop-color="#0000ff" stop-opacity="0.033"/><stop offset="0.614" stop-color="#0000ff" stop-opacity="0.000"/><stop offset="1" stop-color="#0000ff" stop-opacity="0.000"/></radialGradient>
<radialGradient id="n75_1"><stop offset="0" stop-color="#ffff00" stop-opacity="1.000"/><stop offset="0.12" stop-color="#ffff00" stop-opacity="1.000"/><stop offset="0.2" stop-color="#ffff00" stop-opacity="1.000"/><stop offset="0.28" stop-color="#ffff00" stop-opacity="1.000"/><stop offset="0.36" stop-color="#ffff00" stop-opacity="1.000"/><stop offset="0.44" stop-color="#ffff00" stop-opacity="1.000"/><stop offset="0.52" stop-color="#ffff00" stop-opacity="1.000"/><stop offset="0.6" stop-color="#ffff00" stop-opacity="1.000"/><stop offset="0.64" stop-color="#ffff00" stop-opacity="0.999"/><stop offset="0.68" stop-color="#ffff00" stop-opacity="0.802"/><stop offset="0.76" stop-color="#ffff00" stop-opacity="0.476"/><stop offset="0.84" stop-color="#ffff00" stop-opacity="0.249"/><stop offset="0.92" stop-color="#ffff00" stop-opacity="0.114"/><stop offset="1" stop-color="#ffff00" stop-opacity="0.000"/></radialGradient>
<radialGradient id="n75_2"><stop offset="0" stop-color="#ff0000" stop-opacity="1.000"/><stop offset="0.12" stop-color="#ff0000" stop-opacity="0.989"/><stop offset="0.2" stop-color="#ff0000" stop-opacity="0.950"/><stop offset="0.28" stop-color="#ff0000" stop-opacity="0.868"/><stop offset="0.36" stop-color="#ff0000" stop-opacity="0.733"/><stop offset="0.44" stop-color="#ff0000" stop-opacity="0.549"/><stop offset="0.52" stop-color="#ff0000" stop-opacity="0.332"/><stop offset="0.6" stop-color="#ff0000" stop-opacity="0.106"/><stop offset="0.64" stop-color="#ff0000" stop-opacity="0.000"/><stop offset="1" stop-color="#ff0000" stop-opacity="0.000"/></radialGradient>
<radialGradient id="p75_1"><stop offset="0" stop-color="#00ffff" stop-opacity="1.000"/><stop offset="0.12" stop-color="#00ffff" stop-opacity="1.000"/><stop offset="0.2" stop-color="#00ffff" stop-opacity="1.000"/><stop offset="0.28" stop-color="#00ffff" stop-opacity="1.000"/><stop offset="0.36" stop-color="#00ffff" stop-opacity="1.000"/><stop offset="0.44" stop-color="#00ffff" stop-opacity="1.000"/><stop offset="0.52" stop-color="#00ffff" stop-opacity="1.000"/><stop offset="0.6" stop-color="#00ffff" stop-opacity="1.000"/><stop offset="0.64" stop-color="#00ffff" stop-opacity="0.999"/><stop offset="0.68" stop-color="#00ffff" stop-opacity="0.802"/><stop offset="0.76" stop-color="#00ffff" stop-opacity="0.476"/><stop offset="0.84" stop-color="#00ffff" stop-opacity="0.249"/><stop offset="0.92" stop-color="#00ffff" stop-opacity="0.114"/><stop offset="1" stop-color="#00ffff" stop-opacity="0.000"/></radialGradient>
<radialGradient id="p75_2"><stop offset="0" stop-color="#0000ff" stop-opacity="1.000"/><stop offset="0.12" stop-color="#0000ff" stop-opacity="0.989"/><stop offset="0.2" stop-color="#0000ff" stop-opacity="0.950"/><stop offset="0.28" stop-color="#0000ff" stop-opacity="0.868"/><stop offset="0.36" stop-color="#0000ff" stop-opacity="0.733"/><stop offset="0.44" stop-color="#0000ff" stop-opacity="0.549"/><stop offset="0.52" stop-color="#0000ff" stop-opacity="0.332"/><stop offset="0.6" stop-color="#0000ff" stop-opacity="0.106"/><stop offset="0.64" stop-color="#0000ff" stop-opacity="0.000"/><stop offset="1" stop-color="#0000ff" stop-opacity="0.000"/></radialGradient>
<radialGradient id="n85_1"><stop offset="0" stop-color="#ffff00" stop-opacity="1.000"/><stop offset="0.12" stop-color="#ffff00" stop-opacity="1.000"/><stop offset="0.2" stop-color="#ffff00" stop-opacity="1.000"/><stop offset="0.28" stop-color="#ffff00" stop-opacity="1.000"/><stop offset="0.36" stop-color="#ffff00" stop-opacity="1.000"/><stop offset="0.44" stop-color="#ffff00" stop-opacity="1.000"/><stop offset="0.52" stop-color="#ffff00" stop-opacity="1.000"/><stop offset="0.6" stop-color="#ffff00" stop-opacity="1.000"/><stop offset="0.663" stop-color="#ffff00" stop-opacity="1.000"/><stop offset="0.68" stop-color="#ffff00" stop-opacity="0.909"/><stop offset="0.76" stop-color="#ffff00" stop-opacity="0.539"/><stop offset="0.84" stop-color="#ffff00" stop-opacity="0.283"/><stop offset="0.92" stop-color="#ffff00" stop-opacity="0.130"/><stop offset="1" stop-color="#ffff00" stop-opacity="0.000"/></radialGradient>
<radialGradient id="n85_2"><stop offset="0" stop-color="#ff0000" stop-opacity="1.000"/><stop offset="0.12" stop-color="#ff0000" stop-opacity="1.000"/><stop offset="0.2" stop-color="#ff0000" stop-opacity="1.000"/><stop offset="0.28" stop-color="#ff0000" stop-opacity="1.000"/><stop offset="0.31" stop-color="#ff0000" stop-opacity="1.000"/><stop offset="0.36" stop-color="#ff0000" stop-opacity="0.898"/><stop offset="0.44" stop-color="#ff0000" stop-opacity="0.689"/><stop offset="0.52" stop-color="#ff0000" stop-opacity="0.442"/><stop offset="0.6" stop-color="#ff0000" stop-opacity="0.187"/><stop offset="0.663" stop-color="#ff0000" stop-opacity="0.000"/><stop offset="0.68" stop-color="#ff0000" stop-opacity="0.000"/><stop offset="1" stop-color="#ff0000" stop-opacity="0.000"/></radialGradient>
<radialGradient id="n85_3"><stop offset="0" stop-color="#800000" stop-opacity="0.400"/><stop offset="0.12" stop-color="#800000" stop-opacity="0.375"/><stop offset="0.2" stop-color="#800000" stop-opacity="0.288"/><stop offset="0.28" stop-color="#800000" stop-opacity="0.101"/><stop offset="0.31" stop-color="#800000" stop-opacity="0.000"/><stop offset="0.36" stop-color="#800000" stop-opacity="0.000"/><stop offset="1" stop-color="#800000" stop-opacity="0.000"/></radialGradient>
<radialGradient id="p85_1"><stop offset="0" stop-color="#00ffff" stop-opacity="1.000"/><stop offset="0.12" stop-color="#00ffff" stop-opacity="1.000"/><stop offset="0.2" stop-color="#00ffff" stop-opacity="1.000"/><stop offset="0.28" stop-color="#00ffff" stop-opacity="1.000"/><stop offset="0.36" stop-color="#00ffff" stop-opacity="1.000"/><stop offset="0.44" stop-color="#00ffff" stop-opacity="1.000"/><stop offset="0.52" stop-color="#00ffff" stop-opacity="1.000"/><stop offset="0.6" stop-color="#00ffff" stop-opacity="1.000"/><stop offset="0.663" stop-color="#00ffff" stop-opacity="1.000"/><stop offset="0.68" stop-color="#00ffff" stop-opacity="0.909"/><stop offset="0.76" stop-color="#00ffff" stop-opacity="0.539"/><stop offset="0.84" stop-color="#00ffff" stop-opacity="0.283"/><stop offset="0.92" stop-color="#00ffff" stop-opacity="0.130"/><stop offset="1" stop-color="#00ffff" stop-opacity="0.000"/></radialGradient>
<radialGradient id="p85_2"><stop offset="0" stop-color="#0000ff" stop-opacity="1.000"/><stop offset="0.12" stop-color="#0000ff" stop-opacity="1.000"/><stop offset="0.2" stop-color="#0000ff" stop-opacity="1.000"/><stop offset="0.28" stop-color="#0000ff" stop-opacity="1.000"/><stop offset="0.31" stop-color="#0000ff" stop-opacity="1.000"/><stop offset="0.36" stop-color="#0000ff" stop-opacity="0.898"/><stop offset="0.44" stop-color="#0000ff" stop-opacity="0.689"/><stop offset="0.52" stop-color="#0000ff" stop-opacity="0.442"/><stop offset="0.6" stop-color="#0000ff" stop-opacity="0.187"/><stop offset="0.663" stop-color="#0000ff" stop-opacity="0.000"/><stop offset="0.68" stop-color="#0000ff" stop-opacity="0.000"/><stop offset="1" stop-color="#0000ff" stop-opacity="0.000"/></radialGradient>
<radialGradient id="p85_3"><stop offset="0" stop-color="#000080" stop-opacity="0.400"/><stop offset="0.12" stop-color="#000080" stop-opacity="0.375"/><stop offset="0.2" stop-color="#000080" stop-opacity="0.288"/><stop offset="0.28" stop-color="#000080" stop-opacity="0.101"/><stop offset="0.31" stop-color="#000080" stop-opacity="0.000"/><stop offset="0.36" stop-color="#000080" stop-opacity="0.000"/><stop offset="1" stop-color="#000080" stop-opacity="0.000"/></radialGradient>
<radialGradient id="n100_1"><stop offset="0" stop-color="#ffff00" stop-opacity="1.000"/><stop offset="0.12" stop-color="#ffff00" stop-opacity="1.000"/><stop offset="0.2" stop-color="#ffff00" stop-opacity="1.000"/><stop offset="0.28" stop-color="#ffff00" stop-opacity="1.000"/><stop offset="0.36" stop-color="#ffff00" stop-opacity="1.000"/><stop offset="0.44" stop-color="#ffff00" stop-opacity="1.000"/><stop offset="0.52" stop-color="#ffff00" stop-opacity="1.000"/><stop offset="0.6" stop-color="#ffff00" stop-opacity="1.000"/><stop offset="0.68" stop-color="#ffff00" stop-opacity="1.000"/><stop offset="0.691" stop-color="#ffff00" stop-opacity="1.000"/><stop offset="0.76" stop-color="#ffff00" stop-opacity="0.634"/><stop offset="0.84" stop-color="#ffff00" stop-opacity="0.333"/><stop offset="0.92" stop-color="#ffff00" stop-opacity="0.152"/><stop offset="1" stop-color="#ffff00" stop-opacity="0.000"/></radialGradient>
<radialGradient id="n100_2"><stop offset="0" stop-color="#ff0000" stop-opacity="1.000"/><stop offset="0.12" stop-color="#ff0000" stop-opacity="1.000"/><stop offset="0.2" stop-color="#ff0000" stop-opacity="1.000"/><stop offset="0.28" stop-color="#ff0000" stop-opacity="1.000"/><stop offset="0.36" stop-color="#ff0000" stop-opacity="1.000"/><stop offset="0.409" stop-color="#ff0000" stop-opacity="1.000"/><stop offset="0.44" stop-color="#ff0000" stop-opacity="0.899"/><stop offset="0.52" stop-color="#ff0000" stop-opacity="0.609"/><stop offset="0.6" stop-color="#ff0000" stop-opacity="0.308"/><stop offset="0.68" stop-color="#ff0000" stop-opacity="0.035"/><stop offset="0.691" stop-color="#ff0000" stop-opacity="0.001"/><stop offset="0.76" stop-color="#ff0000" stop-opacity="0.000"/><stop offset="1" stop-color="#ff0000" stop-opacity="0.000"/></radialGradient>
<radialGradient id="n100_3"><stop offset="0" stop-color="#800000" stop-opacity="1.000"/><stop offset="0.12" stop-color="#800000" stop-opacity="0.971"/><stop offset="0.2" stop-color="#800000" stop-opacity="0.868"/><stop offset="0.28" stop-color="#800000" stop-opacity="0.648"/><stop offset="0.36" stop-color="#800000" stop-opacity="0.289"/><stop offset="0.409" stop-color="#800000" stop-opacity="0.002"/><stop offset="0.44" stop-color="#800000" stop-opacity="0.000"/><stop offset="1" stop-color="#800000" stop-opacity="0.000"/></radialGradient>
<radialGradient id="p100_1"><stop offset="0" stop-color="#00ffff" stop-opacity="1.000"/><stop offset="0.12" stop-color="#00ffff" stop-opacity="1.000"/><stop offset="0.2" stop-color="#00ffff" stop-opacity="1.000"/><stop offset="0.28" stop-color="#00ffff" stop-opacity="1.000"/><stop offset="0.36" stop-color="#00ffff" stop-opacity="1.000"/><stop offset="0.44" stop-color="#00ffff" stop-opacity="1.000"/><stop offset="0.52" stop-color="#00ffff" stop-opacity="1.000"/><stop offset="0.6" stop-color="#00ffff" stop-opacity="1.000"/><stop offset="0.68" stop-color="#00ffff" stop-opacity="1.000"/><stop offset="0.691" stop-color="#00ffff" stop-opacity="1.000"/><stop offset="0.76" stop-color="#00ffff" stop-opacity="0.634"/><stop offset="0.84" stop-color="#00ffff" stop-opacity="0.333"/><stop offset="0.92" stop-color="#00ffff" stop-opacity="0.152"/><stop offset="1" stop-color="#00ffff" stop-opacity="0.000"/></radialGradient>
<radialGradient id="p100_2"><stop offset="0" stop-color="#0000ff" stop-opacity="1.000"/><stop offset="0.12" stop-color="#0000ff" stop-opacity="1.000"/><stop offset="0.2" stop-color="#0000ff" stop-opacity="1.000"/><stop offset="0.28" stop-color="#0000ff" stop-opacity="1.000"/><stop offset="0.36" stop-color="#0000ff" stop-opacity="1.000"/><stop offset="0.409" stop-color="#0000ff" stop-opacity="1.000"/><stop offset="0.44" stop-color="#0000ff" stop-opacity="0.899"/><stop offset="0.52" stop-color="#0000ff" stop-opacity="0.609"/><stop offset="0.6" stop-color="#0000ff" stop-opacity="0.308"/><stop offset="0.68" stop-color="#0000ff" stop-opacity="0.035"/><stop offset="0.691" stop-color="#0000ff" stop-opacity="0.001"/><stop offset="0.76" stop-color="#0000ff" stop-opacity="0.000"/><stop offset="1" stop-color="#0000ff" stop-opacity="0.000"/></radialGradient>
<radialGradient id="p100_3"><stop offset="0" stop-color="#000080" stop-opacity="1.000"/><stop offset="0.12" stop-color="#000080" stop-opacity="0.971"/><stop offset="0.2" stop-color="#000080" stop-opacity="0.868"/><stop offset="0.28" stop-color="#000080" stop-opacity="0.648"/><stop offset="0.36" stop-color="#000080" stop-opacity="0.289"/><stop offset="0.409" stop-color="#000080" stop-opacity="0.002"/><stop offset="0.44" stop-color="#000080" stop-opacity="0.000"/><stop offset="1" stop-color="#000080" stop-opacity="0.000"/></radialGradient>
<radialGradient id="n120_1"><stop offset="0" stop-color="#ffff00" stop-opacity="1.000"/><stop offset="0.12" stop-color="#ffff00" stop-opacity="1.000"/><stop offset="0.2" stop-color="#ffff00" stop-opacity="1.000"/><stop offset="0.28" stop-color="#ffff00" stop-opacity="1.000"/><stop offset="0.36" stop-color="#ffff00" stop-opacity="1.000"/><stop offset="0.44" stop-color="#ffff00" stop-opacity="1.000"/><stop offset="0.52" stop-color="#ffff00" stop-opacity="1.000"/><stop offset="0.6" stop-color="#ffff00" stop-opacity="1.000"/><stop offset="0.68" stop-color="#ffff00" stop-opacity="1.000"/><stop offset="0.72" stop-color="#ffff00" stop-opacity="1.000"/><stop offset="0.76" stop-color="#ffff00" stop-opacity="0.761"/><stop offset="0.84" stop-color="#ffff00" stop-opacity="0.399"/><stop offset="0.92" stop-color="#ffff00" stop-opacity="0.183"/><stop offset="1" stop-color="#ffff00" stop-opacity="0.000"/></radialGradient>
<radialGradient id="n120_2"><stop offset="0" stop-color="#ff0000" stop-opacity="1.000"/><stop offset="0.12" stop-color="#ff0000" stop-opacity="1.000"/><stop offset="0.2" stop-color="#ff0000" stop-opacity="1.000"/><stop offset="0.28" stop-color="#ff0000" stop-opacity="1.000"/><stop offset="0.36" stop-color="#ff0000" stop-opacity="1.000"/><stop offset="0.44" stop-color="#ff0000" stop-opacity="1.000"/><stop offset="0.482" stop-color="#ff0000" stop-opacity="1.000"/><stop offset="0.52" stop-color="#ff0000" stop-opacity="0.830"/><stop offset="0.6" stop-color="#ff0000" stop-opacity="0.470"/><stop offset="0.68" stop-color="#ff0000" stop-opacity="0.142"/><stop offset="0.72" stop-color="#ff0000" stop-opacity="0.001"/><stop offset="0.76" stop-color="#ff0000" stop-opacity="0.000"/><stop offset="1" stop-color="#ff0000" stop-opacity="0.000"/></radialGradient>
<radialGradient id="n120_3"><stop offset="0" stop-color="#800000" stop-opacity="1.000"/><stop offset="0.12" stop-color="#800000" stop-opacity="1.000"/><stop offset="0.2" stop-color="#800000" stop-opacity="1.000"/><stop offset="0.28" stop-color="#800000" stop-opacity="1.000"/><stop offset="0.352" stop-color="#800000" stop-opacity="0.997"/><stop offset="0.36" stop-color="#800000" stop-opacity="0.947"/><stop offset="0.44" stop-color="#800000" stop-opacity="0.357"/><stop offset="0.482" stop-color="#800000" stop-opacity="0.000"/><stop offset="0.52" stop-color="#800000" stop-opacity="0.000"/><stop offset="1" stop-color="#800000" stop-opacity="0.000"/></radialGradient>
<radialGradient id="p120_1"><stop offset="0" stop-color="#00ffff" stop-opacity="1.000"/><stop offset="0.12" stop-color="#00ffff" stop-opacity="1.000"/><stop offset="0.2" stop-color="#00ffff" stop-opacity="1.000"/><stop offset="0.28" stop-color="#00ffff" stop-opacity="1.000"/><stop offset="0.36" stop-color="#00ffff" stop-opacity="1.000"/><stop offset="0.44" stop-color="#00ffff" stop-opacity="1.000"/><stop offset="0.52" stop-color="#00ffff" stop-opacity="1.000"/><stop offset="0.6" stop-color="#00ffff" stop-opacity="1.000"/><stop offset="0.68" stop-color="#00ffff" stop-opacity="1.000"/><stop offset="0.72" stop-color="#00ffff" stop-opacity="1.000"/><stop offset="0.76" stop-color="#00ffff" stop-opacity="0.761"/><stop offset="0.84" stop-color="#00ffff" stop-opacity="0.399"/><stop offset="0.92" stop-color="#00ffff" stop-opacity="0.183"/><stop offset="1" stop-color="#00ffff" stop-opacity="0.000"/></radialGradient>
<radialGradient id="p120_2"><stop offset="0" stop-color="#0000ff" stop-opacity="1.000"/><stop offset="0.12" stop-color="#0000ff" stop-opacity="1.000"/><stop offset="0.2" stop-color="#0000ff" stop-opacity="1.000"/><stop offset="0.28" stop-color="#0000ff" stop-opacity="1.000"/><stop offset="0.36" stop-color="#0000ff" stop-opacity="1.000"/><stop offset="0.44" stop-color="#0000ff" stop-opacity="1.000"/><stop offset="0.482" stop-color="#0000ff" stop-opacity="1.000"/><stop offset="0.52" stop-color="#0000ff" stop-opacity="0.830"/><stop offset="0.6" stop-color="#0000ff" stop-opacity="0.470"/><stop offset="0.68" stop-color="#0000ff" stop-opacity="0.142"/><stop offset="0.72" stop-color="#0000ff" stop-opacity="0.001"/><stop offset="0.76" stop-color="#0000ff" stop-opacity="0.000"/><stop offset="1" stop-color="#0000ff" stop-opacity="0.000"/></radialGradient>
<radialGradient id="p120_3"><stop offset="0" stop-color="#000080" stop-opacity="1.000"/><stop offset="0.12" stop-color="#000080" stop-opacity="1.000"/><stop offset="0.2" stop-color="#000080" stop-opacity="1.000"/><stop offset="0.28" stop-color="#000080" stop-opacity="1.000"/><stop offset="0.352" stop-color="#000080" stop-opacity="0.997"/><stop offset="0.36" stop-color="#000080" stop-opacity="0.947"/><stop offset="0.44" stop-color="#000080" stop-opacity="0.357"/><stop offset="0.482" stop-color="#000080" stop-opacity="0.000"/><stop offset="0.52" stop-color="#000080" stop-opacity="0.000"/><stop offset="1" stop-color="#000080" stop-opacity="0.000"/></radialGradient>
<radialGradient id="n150_1"><stop offset="0" stop-color="#ffff00" stop-opacity="1.000"/><stop offset="0.12" stop-color="#ffff00" stop-opacity="1.000"/><stop offset="0.2" stop-color="#ffff00" stop-opacity="1.000"/><stop offset="0.28" stop-color="#ffff00" stop-opacity="1.000"/><stop offset="0.36" stop-color="#ffff00" stop-opacity="1.000"/><stop offset="0.44" stop-color="#ffff00" stop-opacity="1.000"/><stop offset="0.52" stop-color="#ffff00" stop-opacity="1.000"/><stop offset="0.6" stop-color="#ffff00" stop-opacity="1.000"/><stop offset="0.68" stop-color="#ffff00" stop-opacity="1.000"/><stop offset="0.753" stop-color="#ffff00" stop-opacity="1.000"/><stop offset="0.76" stop-color="#ffff00" stop-opacity="0.951"/><stop offset="0.84" stop-color="#ffff00" stop-opacity="0.499"/><stop offset="0.92" stop-color="#ffff00" stop-opacity="0.229"/><stop offset="1" stop-color="#ffff00" stop-opacity="0.000"/></radialGradient>
<radialGradient id="n150_2"><stop offset="0" stop-color="#ff0000" stop-opacity="1.000"/><stop offset="0.12" stop-color="#ff0000" stop-opacity="1.000"/><stop offset="0.2" stop-color="#ff0000" stop-opacity="1.000"/><stop offset="0.28" stop-color="#ff0000" stop-opacity="1.000"/><stop offset="0.36" stop-color="#ff0000" stop-opacity="1.000"/><stop offset="0.44" stop-color="#ff0000" stop-opacity="1.000"/><stop offset="0.52" stop-color="#ff0000" stop-opacity="1.000"/><stop offset="0.549" stop-color="#ff0000" stop-opacity="0.998"/><stop offset="0.6" stop-color="#ff0000" stop-opacity="0.712"/><stop offset="0.68" stop-color="#ff0000" stop-opacity="0.302"/><stop offset="0.753" stop-color="#ff0000" stop-opacity="0.000"/><stop offset="0.76" stop-color="#ff0000" stop-opacity="0.000"/><stop offset="1" stop-color="#ff0000" stop-opacity="0.000"/></radialGradient>
<radialGradient id="n150_3"><stop offset="0" stop-color="#800000" stop-opacity="1.000"/><stop offset="0.12" stop-color="#800000" stop-opacity="1.000"/><stop offset="0.2" stop-color="#800000" stop-opacity="1.000"/><stop offset="0.28" stop-color="#800000" stop-opacity="1.000"/><stop offset="0.36" stop-color="#800000" stop-opacity="1.000"/><stop offset="0.44" stop-color="#800000" stop-opacity="1.000"/><stop offset="0.459" stop-color="#800000" stop-opacity="0.999"/><stop offset="0.52" stop-color="#800000" stop-opacity="0.326"/><stop offset="0.549" stop-color="#800000" stop-opacity="0.000"/><stop offset="1" stop-color="#800000" stop-opacity="0.000"/></radialGradient>
<radialGradient id="p150_1"><stop offset="0" stop-color="#00ffff" stop-opacity="1.000"/><stop offset="0.12" stop-color="#00ffff" stop-opacity="1.000"/><stop offset="0.2" stop-color="#00ffff" stop-opacity="1.000"/><stop offset="0.28" stop-color="#00ffff" stop-opacity="1.000"/><stop offset="0.36" stop-color="#00ffff" stop-opacity="1.000"/><stop offset="0.44" stop-color="#00ffff" stop-opacity="1.000"/><stop offset="0.52" stop-color="#00ffff" stop-opacity="1.000"/><stop offset="0.6" stop-color="#00ffff" stop-opacity="1.000"/><stop offset="0.68" stop-color="#00ffff" stop-opacity="1.000"/><stop offset="0.753" stop-color="#00ffff" stop-opacity="1.000"/><stop offset="0.76" stop-color="#00ffff" stop-opacity="0.951"/><stop offset="0.84" stop-color="#00ffff" stop-opacity="0.499"/><stop offset="0.92" stop-color="#00ffff" stop-opacity="0.229"/><stop offset="1" stop-color="#00ffff" stop-opacity="0.000"/></radialGradient>
<radialGradient id="p150_2"><stop offset="0" stop-color="#0000ff" stop-opacity="1.000"/><stop offset="0.12" stop-color="#0000ff" stop-opacity="1.000"/><stop offset="0.2" stop-color="#0000ff" stop-opacity="1.000"/><stop offset="0.28" stop-color="#0000ff" stop-opacity="1.000"/><stop offset="0.36" stop-color="#0000ff" stop-opacity="1.000"/><stop offset="0.44" stop-color="#0000ff" stop-opacity="1.000"/><stop offset="0.52" stop-color="#0000ff" stop-opacity="1.000"/><stop offset="0.549" stop-color="#0000ff" stop-opacity="0.998"/><stop offset="0.6" stop-color="#0000ff" stop-opacity="0.712"/><stop offset="0.68" stop-color="#0000ff" stop-opacity="0.302"/><stop offset="0.753" stop-color="#0000ff" stop-opacity="0.000"/><stop offset="0.76" stop-color="#0000ff" stop-opacity="0.000"/><stop offset="1" stop-color="#0000ff" stop-opacity="0.000"/></radialGradient>
<radialGradient id="p150_3"><stop offset="0" stop-color="#000080" stop-opacity="1.000"/><stop offset="0.12" stop-color="#000080" stop-opacity="1.000"/><stop offset="0.2" stop-color="#000080" stop-opacity="1.000"/><stop offset="0.28" stop-color="#000080" stop-opacity="1.000"/><stop offset="0.36" stop-color="#000080" stop-opacity="1.000"/><stop offset="0.44" stop-color="#000080" stop-opacity="1.000"/><stop offset="0.459" stop-color="#000080" stop-opacity="0.999"/><stop offset="0.52" stop-color="#000080" stop-opacity="0.326"/><stop offset="0.549" stop-color="#000080" stop-opacity="0.000"/><stop offset="1" stop-color="#000080" stop-opacity="0.000"/></radialGradient>
<filter id="tex" x="0" y="0" width="100%" height="100%" color-interpolation-filters="sRGB"><feTurbulence type="fractalNoise" baseFrequency="0.028 0.042" numOctaves="3" seed="7"/><feColorMatrix type="matrix" values="-0.600 0 0 0 0.800  0 0 0 0 1  0.600 0 0 0 0.200  0 0 0 0 1"/></filter>
</defs>
<g transform="translate(0,0)">
<g clip-path="url(#rob)">
<rect x="60" y="40" width="880" height="460" fill="#80ff80" filter="url(#tex)"/>
<ellipse cx="172" cy="232.5" rx="69" ry="17.2" fill="url(#p42_1)"/>
<ellipse cx="154.7" cy="231.4" rx="18" ry="7.5" fill="url(#p30_1)"/>
<ellipse cx="186" cy="234.5" rx="15" ry="7.5" fill="url(#p20_1)"/>
<ellipse cx="201" cy="232.5" rx="12" ry="9" fill="url(#p25_1)"/>
<ellipse cx="252" cy="250" rx="63" ry="13.5" fill="url(#p30_1)" transform="rotate(8 252 250)"/>
<ellipse cx="236" cy="247.5" rx="24" ry="8.2" fill="url(#p50_1)" transform="rotate(8 236 247.5)"/>
<ellipse cx="266" cy="252" rx="27" ry="6.8" fill="url(#p42_1)" transform="rotate(6 266 252)"/>
<ellipse cx="298" cy="254" rx="27" ry="15" fill="url(#p25_1)"/>
<ellipse cx="100" cy="287" rx="60" ry="14.2" fill="url(#p30_1)"/>
<ellipse cx="93.7" cy="286.7" rx="12" ry="6" fill="url(#p30_1)"/>
<ellipse cx="123" cy="288" rx="13.5" ry="6" fill="url(#p36_1)"/>
<ellipse cx="95" cy="305" rx="42" ry="16.5" fill="url(#p20_1)"/>
<ellipse cx="334" cy="258" rx="12" ry="15" fill="url(#p36_1)"/>
<ellipse cx="410" cy="258" rx="48" ry="10.5" fill="url(#p16_1)"/>
<ellipse cx="460" cy="259" rx="51" ry="10.5" fill="url(#p16_1)"/>
<ellipse cx="508" cy="260" rx="27" ry="12" fill="url(#p25_1)"/>
<ellipse cx="686" cy="252" rx="96" ry="34.5" fill="url(#p36_1)"/>
<ellipse cx="664" cy="249" rx="36" ry="13.5" fill="url(#p36_1)"/>
<ellipse cx="690" cy="260" rx="30" ry="12" fill="url(#p58_1)"/>
<ellipse cx="712" cy="230" rx="22.5" ry="24" fill="url(#p30_1)"/>
<ellipse cx="815" cy="216" rx="75" ry="63" fill="url(#p25_1)"/>
<ellipse cx="822" cy="208" rx="13.5" ry="12" fill="url(#p42_1)"/>
<ellipse cx="810" cy="228" rx="19.5" ry="13.5" fill="url(#p42_1)"/>
<ellipse cx="834" cy="232" rx="16.5" ry="10.5" fill="url(#p42_1)"/>
<ellipse cx="786" cy="174" rx="12" ry="15" fill="url(#p30_1)"/>
<ellipse cx="820" cy="176" rx="16.5" ry="7.5" fill="url(#p25_1)"/>
<ellipse cx="775" cy="232" rx="21" ry="27" fill="url(#p25_1)"/>
<ellipse cx="890" cy="282" rx="69" ry="21" fill="url(#p30_1)" transform="rotate(8 890 282)"/>
<ellipse cx="888" cy="282" rx="60" ry="12.8" fill="url(#p58_1)" transform="rotate(8 888 282)"/>
<ellipse cx="873" cy="279.5" rx="16.5" ry="8.2" fill="url(#p66_1)" transform="rotate(10 873 279.5)"/>
<ellipse cx="690" cy="115" rx="90" ry="37.5" fill="url(#p8_1)"/>
<ellipse cx="640" cy="410" rx="90" ry="21" fill="url(#p8_1)"/>
<ellipse cx="112" cy="242" rx="54" ry="9" fill="url(#n30_1)"/>
<ellipse cx="115.7" cy="241.5" rx="21" ry="4.5" fill="url(#n36_1)"/>
<ellipse cx="83" cy="237" rx="13.5" ry="10.5" fill="url(#n30_1)"/>
<ellipse cx="140" cy="245" rx="42" ry="6" fill="url(#n16_1)"/>
<ellipse cx="238" cy="226" rx="21" ry="12" fill="url(#n42_1)"/>
<ellipse cx="248" cy="188" rx="10.5" ry="13.5" fill="url(#n20_1)"/>
<ellipse cx="320" cy="232" rx="54" ry="18" fill="url(#n20_1)"/>
<ellipse cx="380" cy="232" rx="60" ry="18" fill="url(#n20_1)"/>
<ellipse cx="440" cy="234" rx="60" ry="15" fill="url(#n20_1)"/>
<ellipse cx="313" cy="237" rx="9" ry="9" fill="url(#n42_1)"/>
<ellipse cx="350" cy="238" rx="13.5" ry="7.5" fill="url(#n30_1)"/>
<ellipse cx="412" cy="240" rx="19.5" ry="6" fill="url(#n36_1)"/>
<ellipse cx="444" cy="239" rx="9" ry="7.5" fill="url(#n36_1)"/>
<ellipse cx="340" cy="168" rx="13.5" ry="9" fill="url(#n30_1)"/>
<ellipse cx="372" cy="168" rx="45" ry="10.5" fill="url(#n12_1)"/>
<ellipse cx="494" cy="272.5" rx="25.5" ry="8.2" fill="url(#n30_1)"/>
<ellipse cx="491" cy="272.5" rx="9" ry="4.5" fill="url(#n30_1)"/>
<ellipse cx="686" cy="291.5" rx="84" ry="22.5" fill="url(#n36_1)"/>
<ellipse cx="700" cy="292" rx="63" ry="16.5" fill="url(#n50_1)"/>
<ellipse cx="711.7" cy="290.6" rx="15" ry="12" fill="url(#n58_1)"/>
<ellipse cx="695" cy="196" rx="22.5" ry="6.8" fill="url(#n58_1)" transform="rotate(12 695 196)"/>
<ellipse cx="758" cy="176" rx="13.5" ry="27" fill="url(#n30_1)"/>
<ellipse cx="760" cy="182" rx="7.5" ry="7.5" fill="url(#n42_1)"/>
<ellipse cx="770" cy="281" rx="30" ry="10.5" fill="url(#n42_1)"/>
<ellipse cx="856" cy="294" rx="13.5" ry="8.2" fill="url(#n66_1)" transform="rotate(30 856 294)"/>
<ellipse cx="872" cy="297" rx="19.5" ry="5.2" fill="url(#n42_1)" transform="rotate(5 872 297)"/>
<ellipse cx="880" cy="213" rx="19.5" ry="15" fill="url(#n20_1)"/>
<ellipse cx="150" cy="315" rx="19.5" ry="28.5" fill="url(#n12_1)"/>
<ellipse cx="190" cy="346" rx="22.5" ry="13.5" fill="url(#n16_1)" transform="rotate(30 190 346)"/>
<ellipse cx="190" cy="372" rx="16.5" ry="10.5" fill="url(#n12_1)"/>
<ellipse cx="134" cy="388" rx="13.5" ry="7.5" fill="url(#n20_1)"/>
<ellipse cx="460" cy="352" rx="19.5" ry="25.5" fill="url(#n12_1)"/>
<ellipse cx="650" cy="345" rx="63" ry="19.5" fill="url(#n12_1)"/>
<ellipse cx="560" cy="238" rx="63" ry="13.5" fill="url(#n8_1)"/>
<ellipse cx="172" cy="232.5" rx="69" ry="17.2" fill="url(#p42_2)"/>
<ellipse cx="154.7" cy="231.4" rx="18" ry="7.5" fill="url(#p30_2)"/>
<ellipse cx="252" cy="250" rx="63" ry="13.5" fill="url(#p30_2)" transform="rotate(8 252 250)"/>
<ellipse cx="236" cy="247.5" rx="24" ry="8.2" fill="url(#p50_2)" transform="rotate(8 236 247.5)"/>
<ellipse cx="266" cy="252" rx="27" ry="6.8" fill="url(#p42_2)" transform="rotate(6 266 252)"/>
<ellipse cx="100" cy="287" rx="60" ry="14.2" fill="url(#p30_2)"/>
<ellipse cx="93.7" cy="286.7" rx="12" ry="6" fill="url(#p30_2)"/>
<ellipse cx="123" cy="288" rx="13.5" ry="6" fill="url(#p36_2)"/>
<ellipse cx="334" cy="258" rx="12" ry="15" fill="url(#p36_2)"/>
<ellipse cx="686" cy="252" rx="96" ry="34.5" fill="url(#p36_2)"/>
<ellipse cx="664" cy="249" rx="36" ry="13.5" fill="url(#p36_2)"/>
<ellipse cx="690" cy="260" rx="30" ry="12" fill="url(#p58_2)"/>
<ellipse cx="712" cy="230" rx="22.5" ry="24" fill="url(#p30_2)"/>
<ellipse cx="822" cy="208" rx="13.5" ry="12" fill="url(#p42_2)"/>
<ellipse cx="810" cy="228" rx="19.5" ry="13.5" fill="url(#p42_2)"/>
<ellipse cx="834" cy="232" rx="16.5" ry="10.5" fill="url(#p42_2)"/>
<ellipse cx="786" cy="174" rx="12" ry="15" fill="url(#p30_2)"/>
<ellipse cx="890" cy="282" rx="69" ry="21" fill="url(#p30_2)" transform="rotate(8 890 282)"/>
<ellipse cx="888" cy="282" rx="60" ry="12.8" fill="url(#p58_2)" transform="rotate(8 888 282)"/>
<ellipse cx="873" cy="279.5" rx="16.5" ry="8.2" fill="url(#p66_2)" transform="rotate(10 873 279.5)"/>
<ellipse cx="112" cy="242" rx="54" ry="9" fill="url(#n30_2)"/>
<ellipse cx="115.7" cy="241.5" rx="21" ry="4.5" fill="url(#n36_2)"/>
<ellipse cx="83" cy="237" rx="13.5" ry="10.5" fill="url(#n30_2)"/>
<ellipse cx="238" cy="226" rx="21" ry="12" fill="url(#n42_2)"/>
<ellipse cx="313" cy="237" rx="9" ry="9" fill="url(#n42_2)"/>
<ellipse cx="350" cy="238" rx="13.5" ry="7.5" fill="url(#n30_2)"/>
<ellipse cx="412" cy="240" rx="19.5" ry="6" fill="url(#n36_2)"/>
<ellipse cx="444" cy="239" rx="9" ry="7.5" fill="url(#n36_2)"/>
<ellipse cx="340" cy="168" rx="13.5" ry="9" fill="url(#n30_2)"/>
<ellipse cx="494" cy="272.5" rx="25.5" ry="8.2" fill="url(#n30_2)"/>
<ellipse cx="491" cy="272.5" rx="9" ry="4.5" fill="url(#n30_2)"/>
<ellipse cx="686" cy="291.5" rx="84" ry="22.5" fill="url(#n36_2)"/>
<ellipse cx="700" cy="292" rx="63" ry="16.5" fill="url(#n50_2)"/>
<ellipse cx="711.7" cy="290.6" rx="15" ry="12" fill="url(#n58_2)"/>
<ellipse cx="695" cy="196" rx="22.5" ry="6.8" fill="url(#n58_2)" transform="rotate(12 695 196)"/>
<ellipse cx="758" cy="176" rx="13.5" ry="27" fill="url(#n30_2)"/>
<ellipse cx="760" cy="182" rx="7.5" ry="7.5" fill="url(#n42_2)"/>
<ellipse cx="770" cy="281" rx="30" ry="10.5" fill="url(#n42_2)"/>
<ellipse cx="856" cy="294" rx="13.5" ry="8.2" fill="url(#n66_2)" transform="rotate(30 856 294)"/>
<ellipse cx="872" cy="297" rx="19.5" ry="5.2" fill="url(#n42_2)" transform="rotate(5 872 297)"/>
<path d="M495.8,487.4 L495.6,482.2 L495.3,474.3 L495,464.3 L494.7,453.4 L494.5,441.9 L494.3,429.8 L494,417.3 L493.9,404.4 L493.7,391.3 L493.5,378 L493.4,364.6 L493.3,351.2 L493.2,337.7 L493.2,324.3 L493.1,310.8 L493.1,297.4 L493.1,283.9 L493.1,270.4 L493.1,257 L493.1,243.5 L493.1,230.1 L493.2,216.6 L493.2,203.2 L493.3,189.7 L493.4,176.3 L493.5,162.9 L493.7,149.6 L493.9,136.5 L494,123.6 L494.3,111.1 L494.5,99 L494.7,87.5 L495,76.6 L495.3,66.6 L495.6,58.7 L495.8,53.5 L499.5,53.5 L499.6,58.7 L499.6,66.6 L499.7,76.6 L499.7,87.5 L499.8,99 L499.8,111.1 L499.8,123.6 L499.9,136.5 L499.9,149.6 L499.9,162.9 L499.9,176.3 L500,189.7 L500,203.2 L500,216.6 L500,230.1 L500,243.5 L500,257 L500,270.4 L500,283.9 L500,297.4 L500,310.8 L500,324.3 L500,337.7 L500,351.2 L499.9,364.6 L499.9,378 L499.9,391.3 L499.9,404.4 L499.8,417.3 L499.8,429.8 L499.8,441.9 L499.7,453.4 L499.7,464.3 L499.6,474.3 L499.6,482.2 L499.5,487.4Z" fill="#f0f0f0"/>
<path d="M116.1,391.3 L881.9,391.3 M71.8,270.4 L926.2,270.4 M116.1,149.6 L881.9,149.6 M328.5,487.4 L315.7,482.2 L299.9,474.3 L283.3,464.3 L268.8,453.4 L255.6,441.9 L243.1,429.8 L231.5,417.3 L220.9,404.4 L211.9,391.3 L203.7,378 L197,364.6 L191.4,351.2 L187.3,337.7 L184.3,324.3 L181.8,310.8 L180.1,297.4 L179,283.9 L178.6,270.4 L179,257 L180.1,243.5 L181.8,230.1 L184.3,216.6 L187.3,203.2 L191.4,189.7 L197,176.3 L203.7,162.9 L211.9,149.6 L220.9,136.5 L231.5,123.6 L243.1,111.1 L255.6,99 L268.8,87.5 L283.3,76.6 L299.9,66.6 L315.7,58.7 L328.5,53.5 M385.3,487.4 L376.8,482.2 L366.3,474.3 L355.2,464.3 L345.5,453.4 L336.7,441.9 L328.4,429.8 L320.6,417.3 L313.6,404.4 L307.6,391.3 L302.1,378 L297.6,364.6 L293.9,351.2 L291.2,337.7 L289.2,324.3 L287.5,310.8 L286.4,297.4 L285.7,283.9 L285.4,270.4 L285.7,257 L286.4,243.5 L287.5,230.1 L289.2,216.6 L291.2,203.2 L293.9,189.7 L297.6,176.3 L302.1,162.9 L307.6,149.6 L313.6,136.5 L320.6,123.6 L328.4,111.1 L336.7,99 L345.5,87.5 L355.2,76.6 L366.3,66.6 L376.8,58.7 L385.3,53.5 M442.2,487.4 L437.9,482.2 L432.6,474.3 L427.1,464.3 L422.3,453.4 L417.9,441.9 L413.7,429.8 L409.8,417.3 L406.3,404.4 L403.3,391.3 L400.6,378 L398.3,364.6 L396.5,351.2 L395.1,337.7 L394.1,324.3 L393.3,310.8 L392.7,297.4 L392.3,283.9 L392.2,270.4 L392.3,257 L392.7,243.5 L393.3,230.1 L394.1,216.6 L395.1,203.2 L396.5,189.7 L398.3,176.3 L400.6,162.9 L403.3,149.6 L406.3,136.5 L409.8,123.6 L413.7,111.1 L417.9,99 L422.3,87.5 L427.1,76.6 L432.6,66.6 L437.9,58.7 L442.2,53.5 M499,487.4 L499,482.2 L499,474.3 L499,464.3 L499,453.4 L499,441.9 L499,429.8 L499,417.3 L499,404.4 L499,391.3 L499,378 L499,364.6 L499,351.2 L499,337.7 L499,324.3 L499,310.8 L499,297.4 L499,283.9 L499,270.4 L499,257 L499,243.5 L499,230.1 L499,216.6 L499,203.2 L499,189.7 L499,176.3 L499,162.9 L499,149.6 L499,136.5 L499,123.6 L499,111.1 L499,99 L499,87.5 L499,76.6 L499,66.6 L499,58.7 L499,53.5 M555.8,487.4 L560.1,482.2 L565.4,474.3 L570.9,464.3 L575.7,453.4 L580.1,441.9 L584.3,429.8 L588.2,417.3 L591.7,404.4 L594.7,391.3 L597.4,378 L599.7,364.6 L601.5,351.2 L602.9,337.7 L603.9,324.3 L604.7,310.8 L605.3,297.4 L605.7,283.9 L605.8,270.4 L605.7,257 L605.3,243.5 L604.7,230.1 L603.9,216.6 L602.9,203.2 L601.5,189.7 L599.7,176.3 L597.4,162.9 L594.7,149.6 L591.7,136.5 L588.2,123.6 L584.3,111.1 L580.1,99 L575.7,87.5 L570.9,76.6 L565.4,66.6 L560.1,58.7 L555.8,53.5 M612.7,487.4 L621.2,482.2 L631.7,474.3 L642.8,464.3 L652.5,453.4 L661.3,441.9 L669.6,429.8 L677.4,417.3 L684.4,404.4 L690.4,391.3 L695.9,378 L700.4,364.6 L704.1,351.2 L706.8,337.7 L708.8,324.3 L710.5,310.8 L711.6,297.4 L712.3,283.9 L712.6,270.4 L712.3,257 L711.6,243.5 L710.5,230.1 L708.8,216.6 L706.8,203.2 L704.1,189.7 L700.4,176.3 L695.9,162.9 L690.4,149.6 L684.4,136.5 L677.4,123.6 L669.6,111.1 L661.3,99 L652.5,87.5 L642.8,76.6 L631.7,66.6 L621.2,58.7 L612.7,53.5 M669.5,487.4 L682.3,482.2 L698.1,474.3 L714.7,464.3 L729.2,453.4 L742.4,441.9 L754.9,429.8 L766.5,417.3 L777.1,404.4 L786.1,391.3 L794.3,378 L801,364.6 L806.6,351.2 L810.7,337.7 L813.7,324.3 L816.2,310.8 L817.9,297.4 L819,283.9 L819.4,270.4 L819,257 L817.9,243.5 L816.2,230.1 L813.7,216.6 L810.7,203.2 L806.6,189.7 L801,176.3 L794.3,162.9 L786.1,149.6 L777.1,136.5 L766.5,123.6 L754.9,111.1 L742.4,99 L729.2,87.5 L714.7,76.6 L698.1,66.6 L682.3,58.7 L669.5,53.5" fill="none" stroke="#c8aecb" stroke-width="1.05" stroke-dasharray="2.1 5.9" opacity="0.8"/>
<path d="M322.9,202 325.9,207 328.9,212 M572.9,145.9 576.9,143.9 580.9,143.4 579.9,145.9 M812,274.5 814.8,272.4 818.3,274.2 816.2,277.3 812.7,277Z" fill="none" stroke="#000" stroke-width="2.51" stroke-linejoin="round" stroke-linecap="round"/>
<path d="M891,310.5 892,314" fill="none" stroke="#000" stroke-width="2.74" stroke-linejoin="round" stroke-linecap="round"/>
<path d="M209.9,91 219.9,88 227.9,85.8 235.9,84.5 243.8,85.5 251.8,86.8 262.8,90 270.8,88.5 277.8,87.5 285.8,87 291.8,86.8 300.8,88 M209.9,91 211.9,95 206.9,96.8 200.9,98.2 196.9,97 193.4,93 189.9,90 M179.7,96.2 181.9,100 185.4,104 190.9,102 196.9,99.2 204.9,99.8 207.1,102 200.9,103.7 192.9,105.6 188.4,108.9 189.9,112.9 195.4,115.1 199.4,118.7 191.9,119.9 181.9,122.7 170.9,125.7 M170.9,124.9 181.9,121.1 191.9,117.9 200.9,114.9 205.9,113.9 209.9,111.1 215.9,108.1 221.9,108.3 227.9,109.7 232.9,111.1 235.9,114.9 237.4,119.9 236.9,125.9 238.8,132.9 240.8,137.9 239.8,143.9 236.9,148.9 232.9,153.9 228.9,158.9 226.9,162.9 226.7,167.9 227.9,172.9 229.9,177.9 233.9,180.9 235.9,186.9 236.9,192 M389.4,71.5 394.9,70 402.9,67.5 411.9,65 421.9,63 434.9,61.2 446.9,60 457.9,60 469.8,61.5 481.8,64.2 476.8,66 471.8,68.5 468.8,73.5 465.9,77.5 460.9,82 455.9,86 450.9,89.5 443.9,91.5 437.9,94 431.9,96.5 425.9,99 422.9,103 418.9,107.9 415.4,111.9 409.9,108.9 405.9,104 403.9,98 403.9,93 406.9,89 408.9,85 408.9,80 405.9,76 400.9,74 393.9,73.5 389.4,71.5Z M455.9,97 461.9,95.5 470.8,95.5 475.3,98 471.8,101 465.9,103 459.9,102 456.4,99.5Z M487.8,113.9 494.3,112.4 495.3,118.9 496.8,123.9 500.3,128.9 502.3,131.1 500.8,133.9 501.8,136.1 495.8,138.1 489.3,139.7 491.8,135.9 489.8,133.9 488.8,129.9 491.8,127.9 490.8,123.9 488.8,119.9 486.8,116.9Z M478.8,126.9 481.8,123.9 485.8,123.4 486.8,126.9 484.8,130.9 480.8,132.9 477.8,132.4Z M532,122.9 521.8,125.9 511.8,129.9 505.8,133.9 500.8,137.9 495.8,139.9 489.3,141.1 491.8,143.9 495.8,145.9 496.8,149.9 495.8,153.9 486.8,152.9 479.8,154.4 479.3,159.9 479.8,165.9 478.8,169.9 480.8,171.4 484.8,171.9 487,174.1 491.8,173.4 494.8,171.4 497.8,166.9 500.8,162.9 503.8,158.9 509.8,155.9 515.8,153.9 519.8,151.9 521.8,154.9 525.8,158.9 532,162.9 M532,181.9 524.8,177.9 521.8,173.1 511.8,171.5 497.8,172.5 487.3,175.1 484.8,178.9 480.8,182.9 477.8,187.9 475.8,192 M387.4,128.9 385.9,132.9 380.9,134.1 373.9,135.1 365.9,136.1 359.9,138.1 354,142.1 350,145.1 M377.9,139.9 381.9,136.9 387.9,137.9 388.9,143.9 385.9,145.9 381.9,143.9 375.9,142.9Z M350,145.1 356,143.9 361.9,145.7 367.9,143.9 371.9,145.9 370.9,148.9 363.9,151.1 358.9,154.1 356,151.4 352,152.1 349,154.1 346,156.9 342,159.1 337,161.1 332,165.1 330.5,169.9 329,174.1 324,179.1 318,184.1 314,188.1 312.8,192 M514.8,68.2 523.8,66 532,65 M514.8,68.5 520.8,73 525.8,74.5 532,73 M270,88.8 276.8,86.8 281.9,85.9 286.9,87.6 292.6,88.8 297.1,91 299.4,93.3 305,93.6 309.5,92.7 315.2,91 320.8,92.1 324.2,93.3 328.7,92.7 332.1,92.1 336.6,91 339.5,88.2 341.2,85.9 342.8,89.9 345.1,94.4 346.8,97.8 342.8,99.5 337.8,100.6 332.1,102.9 326.5,105.1 320.8,108.5 317.4,111.9 317.4,114.7 319.1,118.1 324.2,120.4 329.3,122.6 334.4,123.8 335.5,127.2 333.2,129.4 334.9,133.6 339.5,131.1 341.2,127.2 342.8,122.6 342.8,120.4 347.9,119.8 349.1,115.3 351.3,111.3 353,108 354.7,105.7 358.1,104.6 362.6,105.1 365.4,108.5 366,112.5 368.8,115.9 372.8,114.7 375.6,111.3 377.3,110.2 379,113.6 379.6,118.1 379,121.5 382.9,123.8 386.3,127.2 387.2,130.5 M365.4,80.3 371.6,80.8 377.3,83.1 382.9,86.5 382.9,89.9 386.3,92.1 390.3,95 388.6,97.2 382.9,98.9 381.8,101.2 380.7,104 377.3,106.3 374.5,106.8 371.6,104.6 368.3,102.9 366,100 360.4,100.6 357,100 358.1,98.4 366,97.8 370.5,95.5 371.6,92.7 370.5,89.9 366,87.6 360.4,86.5 354.7,84.2 351.9,82.5 354.7,80.3 360.4,79.7Z M290.9,83.1 296.5,78.6 303.9,76.9 312.9,78.6 318.6,79.7 323.1,80.8 324.2,84.2 323.1,87.6 325.3,89.9 322.5,91.6 316.3,89.3 309.5,89.3 303.9,89.9 299.4,89.3 293.7,85.9Z M303.9,74.6 309.5,72.4 319.7,71.2 324.2,72.9 320.8,75.2 312.9,75.8 305,76.3Z M326.5,83.1 332.1,80.3 336.6,80.8 337.8,85.4 335.5,89.9 331,92.1 326.5,89.9 324.2,86.5Z M323.1,70.1 333.2,69 334.4,71.8 329.3,74.1 324.2,72.9Z M340,67.3 349.1,66.7 353.6,66.2 354.7,70.1 349.1,72.9 342.3,72.4Z M358.1,66.2 366,63.9 377.3,62.8 388.6,61.6 400,61.1 M369.4,71.8 377.3,70.1 385.8,67.3 394.2,65.6 400,64.5 M341.2,85.4 342.8,89.9 345.1,94.4 346.8,97.8 350.2,98.9 351.3,95.5 349.1,92.1 350.2,87.6 347.9,84.2 343.4,83.1Z M343.4,100.6 349.1,98.9 351.9,101.2 350.2,104 345.7,105.7 342.3,104Z M244.5,209 243,203 241.8,197 241.2,191 239.5,185 241,184.5 243.5,187.5 244.5,194 247.2,200 251,206 254,211 253.2,216 257,220 263,224 268.9,227 273.9,228.5 277.9,227 281.9,231 286.9,234.5 292.9,235.9 295.9,239.9 297.9,243.9 302.9,246.9 305.9,249.9 308.9,250.9 310.9,248.9 313.9,245.9 315.9,248.9 315.9,253.9 314.9,259.9 311.9,263.9 308.9,268.9 307.4,273.9 308.9,277.9 305.9,281.9 306.4,285.9 309.9,290.9 313.9,297.9 317.9,304.9 320.9,309.9 327.9,314.9 332.9,318.9 334.9,322 M323.9,180 315.9,184 313.4,188 313.9,194 314.9,200 312.9,203.5 310.4,200 309.4,194 307.9,190 303.9,188.5 296.9,188 293.9,190.8 287.9,190 281.9,190.5 276.9,194 273.9,199 271.9,205 271.4,211 272.4,216 275.9,220 279.9,221 284.9,219.5 287.4,216 288.9,213 295.9,212 296.9,214 294.9,219 292.9,224 290.9,228 293.9,228.5 299.9,229 303.4,232 301.9,235.9 300.9,241.9 302.4,244.9 305.9,245.9 310.9,244.9 314.9,244.9 317.9,247.9 318.9,243.9 323.9,239.9 329.9,237.4 333.9,238.9 336.9,240.9 343.9,241.9 349.9,241.4 354.9,242.4 353.9,245.9 357.9,248.9 362.9,253.9 368.9,254.4 374.9,256.9 378.8,262.9 379.8,267.9 378.8,271.9 385.8,271.9 392.8,275.9 399.8,277.9 405.8,278.9 410.8,283.9 415.8,284.9 417.3,289.9 415.8,294.9 411.8,299.9 407.8,305.9 406.8,312.9 406.3,322 M406.4,322 403.9,327 399.9,331.5 394.9,332.5 389.9,335 386.4,340 387.4,345 383.9,351 379.9,356.9 376.9,361.9 372.9,363.9 367.9,362.9 371.9,366.9 372.9,371.9 368.9,374.4 361.9,375.4 363.4,379.9 359.9,384.9 358.9,389.9 355.9,393.9 358.9,396.9 361.9,398.9 358.9,403.9 356.9,407.9 361.9,411.9 369.9,416.4 363.9,418.9 357.9,417.9 351.9,414.9 346.9,409.9 343,403.9 340.5,397.9 339.5,391.9 339,384.9 337.5,377.9 336,369.9 337.5,363.9 337,355.9 336,348 336,340 335.5,330 335,322 M486,173.5 494,175 499.9,172 507.9,170.8 515.9,170 521.9,170 523.4,174 520.9,178 524.9,181 531.9,183.5 536.9,187 542.9,189 544.9,184 548.9,182 555.9,184 562.9,186.5 569.9,187 574.9,186 577.9,184.5 579.4,178 578.9,171.8 M571.9,188 574.9,194 578.9,202 582.9,210 585.9,216.9 590.9,223.9 595.9,229.9 599.9,235.9 603.9,242.4 609.8,240.9 615.8,238.9 619.8,237.9 618.8,243.9 615.8,249.9 611.8,256.9 607.8,261.9 602.9,266.9 597.9,272.9 593.9,277.9 590.9,284.9 591.9,291.9 594.4,297.9 594.9,302 M577.9,185 577.9,192 581.9,200 586.9,208 590.9,215.9 595.9,221.9 599.9,228.9 601.4,234.9 607.8,233.9 615.8,229.9 624.8,224.9 630.8,219.9 634.8,215.9 637.8,211 633.8,207 629.8,203 626.8,200 628.3,198.5 623.8,205 618.8,205.5 615.8,201 612.8,196 609.8,192 608.3,189.5 611.8,188.5 614.8,192 618.8,197 624.8,200 628.8,199 634.8,201 643.8,202 652.8,201.5 657.8,207 662.8,211 667.8,212 670,219.9 M486,173.5 483,178 479,182 476.5,187 475,191 469,194.5 465,201 461.5,207 459,213 460.5,218.9 459.5,224.9 458,230.9 459.5,236.9 464,241.9 467.5,247.9 473,252.9 479,257.9 481,258.9 487,256.4 494,257.4 499.9,254.9 504.9,252.9 509.9,253.4 511.9,257.9 515.9,258.9 519.9,258.4 522.4,261.9 520.9,267.9 519.9,272.9 522.9,277.9 526.9,283.9 529.9,290.9 531.4,297.9 531.9,302 M478,160 478.5,167 482,170.5 486,172 494,170.5 499.9,164 503.9,160 M573.9,270.9 578.9,269.4 580.9,271.9 578.9,276.9 574.9,277.4Z M609.8,160 605.9,165 608.8,170 613.8,172.5 618.8,170 616.8,165 613.8,160 M532,302 529,306 526.5,312 525.5,318 529,324 532,330 533,337 534.5,344 538,349.9 540,355.9 539.5,359.9 543,363.9 550,362.4 558.9,360.9 563.9,357.9 568.9,352.9 572.9,347.9 574.9,343 573.9,339.5 578.9,337.5 581.9,334 581.4,329 579.9,325 584.9,320 588.9,316.5 593.9,313 595.4,309 594.9,302 M614.9,302.5 617.9,310 615.9,317 612.9,324 609.9,332 607.4,338 602.9,340 599.9,336 598.9,330 600.9,325 601.9,319 602.9,314 607.9,312 611.9,308Z M521,92 524,90 532,87 540,85 546.9,85 553.9,87 561.9,89 568.9,91.5 572.4,94.5 569.9,98 563.9,97 558.9,94.5 555.9,94.5 561.9,99 565.9,102 568.9,99 572.9,96 576.9,92 579.9,90 583.9,89 585.9,91 591.9,89.5 597.9,87 601.9,88 604.9,90 608.9,88.5 611.4,85 613.4,80 616.9,81 618.9,86 619.4,91 622.9,90 623.4,85 626.9,83 629.9,86 627.9,91 624.9,95 628.9,94 631.9,89 633.9,83 637.9,78 643.9,75 649.9,73.5 654.9,73 649.9,71 641.9,68.5 633.9,66 636.9,64.5 645.9,66 653.9,68.5 659.8,72 669.8,73 677.8,76 673.8,80 681.8,79 689.8,80 699.8,79.5 709.8,81 715.8,85 720,86 M584.9,83 586.9,77 592.9,74 599.9,72.5 606.9,73 605.9,75 597.9,76 592.9,79 590.9,83 594.9,85.5 588.9,86Z M514.5,68 523,66 539,66 537,71 530,72 525,74 520,71.5Z M521,92 523,96 519,100 514,103 510,106 507.5,109 508.5,113.9 511.5,115.9 515,117.4 517.5,114.4 520,113.4 521.5,116.9 522,120.9 524.5,124.9 529,123.9 533,119.9 534,114.9 531,111.9 533,107 537,103 539,99 542,97 545,98.5 542,101.5 539,104.5 539.5,108.5 541.5,111.9 545.9,111 551.9,110 558.9,108 559.9,110 553.9,111.9 545.9,113.9 544.5,117.4 541,119.9 540,123.9 534,125.4 528,126.4 523,126.9 520,124.9 519,119.9 516,115.9 514.5,119.9 515.5,124.9 517,127.4 510,128.4 504,131.9 500,135.9 496,138.9 490,140.9 M522,154.9 520,153.9 525,157.9 530,161.9 535,164.9 540,167.9 545.9,171.9 548.9,171.9 549.9,168.9 545.9,165.9 542,160.9 537,155.9 530,150.9 524,147.9 526,146.9 533,151.9 539,156.9 544,162.9 546.9,166.9 548.9,170.9 549.9,174.9 553.9,171.9 551.9,167.9 554.9,164.9 558.9,163.9 561.9,165.9 559.9,161.9 563.9,160.9 567.9,161.9 568.9,165.9 569.9,170.9 572.9,174.9 577.9,172.9 578.9,171.9 M558.9,157.9 559.9,151.9 562.9,145.9 565.9,144.9 569.9,147.9 572.9,145.9 574.9,143.9 580.9,143.9 577.9,148.9 581.9,150.9 585.9,154.9 589.9,156.9 587.9,159.9 581.9,160.4 574.9,159.9 567.9,160.9 563.9,160.9Z M598.9,146.9 604.9,143.4 610.9,144.9 612.9,148.9 609.9,150.9 606.9,151.9 608.9,156.9 613.9,159.9 616.9,163.9 618.9,169.9 615.9,171.9 610.9,170.9 606.9,166.9 606.9,161.9 603.9,156.9 600.9,152.9Z M622.4,149.4 623.6,146.6 626.4,145.4 629.2,146.6 630.4,149.4 629.2,152.2 626.4,153.4 623.6,152.2Z M700,79.5 710,80.5 715,84 720,85.8 724,83.5 730,82 733,84 736,81 742,81.5 750,84 757.9,85 764.9,85 771.9,88 779.9,88.5 787.9,88 792.9,90 795.9,87 799.9,86 M828.9,105 823.9,107 819.9,110.5 814.9,110 809.9,111.5 812.9,116.9 816.9,120.9 819.9,125.9 820.9,131.9 818.9,136.9 815.9,131.9 809.9,126.9 804.9,121.9 802.9,116.9 804.9,111.9 804.9,107 801.9,104.7 799.9,109 793.9,109 791.9,107 793.9,112.9 787.9,113.9 779.9,111.9 769.9,112.9 768.9,117.9 766.9,124.9 771.9,124.4 775.9,126.9 782.9,124.9 785.9,131.9 789.9,138.9 790.9,143.9 788.9,150.9 782.9,154.9 779.9,159.9 777.9,164.9 782.9,168.9 786.9,173.9 787.9,176.9 782.9,178.9 780.9,173.9 778.9,169.9 775.9,165.9 771.9,163.9 767.9,164.9 763.9,160.9 758.9,164.9 756.9,166.9 761.9,169.9 769.9,169.2 765.9,173.9 767.9,178.9 771.9,184.9 775.9,189.9 776.9,195.9 775.9,198 M799.9,153.9 804.9,151.9 812.9,149.9 811.9,154.9 805.9,156.9 800.9,156.9Z M802.9,157.9 808.9,161.9 810.9,167.9 812.9,174.9 808.9,177.9 803.9,179.9 799.9,182.9 795.9,185.9 791.9,181.9 793.9,175.9 799.9,173.9 803.9,169.9 804.9,163.9 801.9,159.9Z M640,203.5 646,202.5 653,202 657,207 660,210 663,213 666,212 667.5,210 668.5,215 670,222 673,230 676,236.9 679,243.9 682,248.9 684,248.9 686,244.9 688,239.9 687,234 687,229 692,224 697.9,218 701.9,213 705.9,212 710.4,209.2 712.9,212 715.9,218 718.9,223 721.9,227 725.9,225 728.9,227 729.9,232 731.9,237.9 730.9,243.9 734.9,251.9 739.9,258.9 744.9,266.9 746.1,265.9 743.9,257.9 740.9,251.9 737.9,247.9 734.9,243.9 733.9,237.9 735.9,234.5 739.9,235.9 743.9,240.9 747.4,245.9 750.9,243.9 754.9,239.9 756.9,234 753.9,228 749.9,223 746.9,219 745.9,216 749.9,212 754.9,213 759.9,211 765.9,209 770.9,206 774.9,201 777.4,195 777.9,190 774.9,185 771.9,180 M752.4,218.5 753.6,216.3 755.9,216 757.4,218 756.4,220.5 753.9,221Z M688,247.9 692,246.9 693.5,250.9 691,254.9 688,252.9Z M724.9,254.9 729.9,257.9 734.9,263.9 739.9,269.9 744.9,274.9 749.9,279.9 750.9,284.9 750.9,288.4 747.9,283.9 742.9,278.9 737.9,272.9 732.9,266.9 727.9,260.9Z M750.9,288.4 759.9,289.9 769.9,290.9 779.9,292.9 787.9,294.4 779.9,294.9 769.9,293.4 759.9,292.4Z M757.9,265.9 762.9,262.9 768.9,257.9 774.9,251.9 777.1,251.4 779.9,253.9 781.9,257.9 778.9,261.9 779.9,266.9 777.9,271.9 773.9,277.9 769.9,280.9 764.9,278.9 760.9,276.9 758.9,271.9Z M781.1,219.7 784.6,221.2 786,224.7 784.6,228.9 786,231.7 789.5,232.4 792.3,235.2 795.1,238 795.8,241.5 793.7,240.1 790.9,238 788.1,236.6 786,238 783.9,235.2 781.8,231.7 780,228.2 780,223.3Z M788.1,238 791.6,240.1 795.1,242.9 797.9,246.4 799.3,250.6 797.2,254.2 793.7,254.9 790.9,252.1 788.1,250.6 787.4,248.5 790.2,247.1 788.8,244.3 787.4,241.5Z M808.5,270.3 813.4,271 818.3,272.4 821.1,273.7 826.7,274.2 832.3,275.9 837.2,278 842.9,281.5 846.4,285.1 847.8,291.4 850.6,295.6 853.4,298.4 848.5,295.6 845,292.1 841.5,289.3 837.9,290.7 834.4,294.2 830.2,292.8 825.3,292.1 826.7,287.9 825.3,283.7 819.7,280.8 816.2,278 812.7,277 812,274.5 809.2,272.4Z M781.9,322 785.9,315.9 791.9,310.9 797.9,307.9 801.9,309.9 805.9,304.9 809.8,300.9 815.8,301.9 821.8,303.4 819.8,308.9 822.8,312.9 827.8,317.9 831.8,313.9 833.8,306.9 835.3,299.9 837.8,306.9 839.8,313.9 841.8,322 M763,329 769,326 775.9,323.5 781.9,321.5 784.9,317 788.9,314 793.9,310 798.9,308 801.9,311 804.9,307 805.9,301.5 811.9,301 815.9,303 821.9,303.5 820.9,307 817.9,311 821.9,315 826.9,319 830.9,316 832.9,310 834.4,304 835.4,299.5 837.4,305 839.9,311 841.9,319 845.9,324 848.9,331 851.9,338 851.4,345.9 848.9,350.9 844.9,355.9 839.9,359.9 834.9,364.9 830.9,369.9 825.9,371.9 820.9,374.4 817.9,371.9 814.9,374.4 810.9,371.9 808.9,367.9 809.9,363.9 808.9,358.9 805.9,361.9 804.9,366.9 802.9,361.9 800.9,356.9 796.9,354.9 791.9,354.4 784.9,355.9 778.9,358.9 774,360.9 768,361.4 763,364.4 759,363.9 757,360.9 760,357.9 761.5,351.9 761,345.9 760,341 761.5,335Z M812.9,380.4 817.9,379.4 821.9,379.9 820.9,383.9 816.9,386.9 812.9,388.4 811.4,384.9Z M886.4,362.4 887.8,365.9 889.8,370.9 892.8,371.9 888.8,374.9 884.9,376.9 879.9,375.9 883.9,372.9 886.4,368.9 885.9,363.9Z M879.9,376.9 873.9,380.9 865.9,384.9 857.9,388.9 850.9,393.9 850.9,396.9 855.9,395.9 861.9,392.9 869.9,388.9 876.9,383.9 882.9,379.9Z M252.2,470.5 264.3,466.9 274.1,463.2 285,462.6 293.5,464.5 298.4,466.3 297.2,460.2 305.7,460.2 311.8,463.2 317.8,462 325.1,463.2 332.4,460.8 334.9,457.2 342.2,459.6 351.9,459.6 361.6,459 370.1,458.4 373.8,453.5 377.4,448.7 381.1,443.8 386,438.9 390.8,435.3 396.9,437.7 390.8,441.4 386,446.2 387.2,449.9 392,451.1 396.9,454.7 400.6,459.6 399.3,465.7 395.7,468.1 404.2,468.1 416.4,469.9 429.7,471.2 441.9,470.5 452.9,466.3 465,460.8 477.2,457.2 489.3,454.7 496.6,454.1 499.1,456 507.6,453.5 520,452.3 M274.1,473 286.2,474.8 276.5,476.6 283.8,479.7 301.4,482.7 269.2,480.3 255.8,479.7 M373.8,453.5 379.9,457.2 387.2,457.2 388.4,459.6 379.9,460.8 372.6,459.6Z M490,456 494.9,454.1 498.5,456.6 505.8,453.5 516.8,452.9 526.5,453.5 537.4,454.5 547.2,452.9 554.5,451.7 557.5,449.9 565.4,452.9 570.3,449.3 577.6,447.4 586.1,447.4 591,443.8 597,443.2 601.9,446.8 611.6,447.4 620.8,447.7 620.1,451.1 618.3,454.1 623.8,452.3 629.9,451.7 636,448.7 645.7,446.2 657.9,445.2 670,445.2 682.2,443.2 690.7,445.6 700.4,443.2 708.9,445.6 718.7,445.2 724.8,444.4 727.2,446.2 730.8,443.8 739.3,443.8 749.1,445 756.4,449.3 764.9,450.5 770,450.1 M756.2,448.2 772.2,452.2 786.2,456.2 774.2,460.2 764.2,464.2 756.2,468.2 746.2,470.2 738.2,473.2 730.2,477.2 732.2,480.2 746.2,479.2 750.2,476.2 M127.5,210.5 130.5,212.8 133.5,214.6" fill="none" stroke="#000" stroke-width="2.96" stroke-linejoin="round" stroke-linecap="round"/>
<path d="M144.1,131.1 146.9,130.5 M136.4,131.7 139.9,132.5 M520.8,70 525.8,71 M460,194.7 464,195.5 M466.5,192.7 468.5,193.5 M92,387.5 92.6,388.3 M400,61.1 418,60.6 435,61" fill="none" stroke="#000" stroke-width="3.42" stroke-linejoin="round" stroke-linecap="round"/>
<path d="M157.9,129.1 165.9,126.7 M812.9,149.9 816.9,146.4 M882.4,325.5 886.4,329.5" fill="none" stroke="#000" stroke-width="3.65" stroke-linejoin="round" stroke-linecap="round"/>
<path d="M286.3,114.4 293.3,112.4 M298,119.4 301.8,117.9 M360.4,69 368.8,67.3 377.3,66.2 385.8,65.6 M233.5,180 234.5,186 235.5,193 237.5,199 240.5,204 244.5,209 M564.4,65.5 572.9,65.5 M577.4,66 583.9,65.2 593.9,65.2 M725.7,262.7 726.3,263.3 M729.7,267.7 730.3,268.3 M733.7,273.7 734.3,274.3 M914.3,317 918.3,315.4" fill="none" stroke="#000" stroke-width="3.88" stroke-linejoin="round" stroke-linecap="round"/>
<path d="M280.3,109.1 296.8,104.8 M319,158.1 327,154.1 M329.5,152.9 336,151.9 M353.6,66.2 353.6,83.1 M319.1,198.7 320.7,199.1 M567.9,279.9 569.9,287.9 571.9,293.9 M579.9,296.4 580.9,302 M573.9,91 583.9,88.5 M655.9,149.4 654.9,145.9 659.8,145.1 665.8,144.9 M779.4,202.5 780.9,205 779.9,210 778.1,209 777.9,204Z M790.9,241.5 793,247.1 M784.6,272.4 790.9,272.4 M801.4,279.4 808.5,279.1 M865.3,285.1 869.6,287.9 M871.7,289.6 875.2,292.1 M877.3,293.8 881.5,298.4 M120.4,323.2 121,324" fill="none" stroke="#000" stroke-width="4.10" stroke-linejoin="round" stroke-linecap="round"/>
<path d="M423.7,414.9 427.7,416.3 M776.2,247.1 781.8,240.8 M801.4,264.7 803.5,267.5 802.8,272.4 M846.4,285.1 850.6,285.8 855.5,285.1 859.7,282.9 861.1,280.1 858.3,278" fill="none" stroke="#000" stroke-width="4.33" stroke-linejoin="round" stroke-linecap="round"/>
<path d="M182.4,109.9 185.9,111.4 M237.4,118.9 239.8,123.9 M461.9,62 479.8,65 M454.9,86.5 463.9,81 M484.6,85.2 485.2,85.8 M486,105.5 486.6,106 M496,110.1 496.6,110.7 M436.1,166.7 436.7,167.3 M442.1,168.5 442.9,169.1 M305,144.7 311,141.4 317,139.1 322,142.7 M322,142.9 323.5,149.9 323.2,154.9 318.8,158.4 M343.4,101.2 350.2,102.9 M318.1,204.2 319.9,205 M354.2,226.3 354.8,226.9 M355.2,230.3 355.8,230.9 M412.1,430.1 412.9,431.1 M442.2,168.8 442.8,169.2 M570.9,291 572.4,294 M554.9,108.5 559.9,109 M731,76 740,76.7 M794.6,194.1 795.2,194.7 M793.6,197.1 794.2,197.7 M785.3,275.9 789.5,279.4 790.2,284.4 M794.9,275 795.3,275.4" fill="none" stroke="#000" stroke-width="4.56" stroke-linejoin="round" stroke-linecap="round"/>
<path d="M315.9,221.6 320.9,222 M342.1,221.1 345.4,221.5 M579.4,296.5 580.9,303 581.9,308.5 M627.5,327.2 628.3,327.8 M633,324.7 633.8,325.3 M550.9,175.4 557.9,175.9 M783.5,297.1 784.5,297.5 M788.1,234.5 793,240.1 794.4,244.3 M789.5,249.9 793,252.8 M781.8,268.2 788.1,266.8 795.1,265.7 M798.1,279.6 798.6,280.1 M809.6,290.1 810.1,290.5 M816.7,287 817.1,287.4 M847.2,275.4 847.6,275.8" fill="none" stroke="#000" stroke-width="4.79" stroke-linejoin="round" stroke-linecap="round"/>
<path d="M375.4,408.9 381.4,408.5 M783.2,268.2 783.2,275.2 781.8,284.4" fill="none" stroke="#000" stroke-width="5.02" stroke-linejoin="round" stroke-linecap="round"/>
<path d="M232.4,126.9 234.4,130.9 M300.6,127.9 301.4,134.9 M505,163.6 505.8,164.2 M517.8,157.4 518.8,164.9 M317,140.4 313,149.9 309.2,158.4 M357,99.5 365.4,98.9 M301.6,86.8 307.3,86.8 M340.6,74.6 351.9,72.9 363.2,71.8 371.6,74.6 374.5,79.7 M343.4,79.7 354.7,78.6 366,79.7 372.8,80.8 M329.9,239.9 329.9,245.9 M383.3,272.9 384.8,273.9 M324.9,220.2 329.9,219 335.9,219.8 338.9,221.2 M282.1,271.7 282.9,272.5 M625.5,236.6 626.1,237.2 M633.9,65.5 655.9,71 M623.9,93 629.9,92 M528,67 537,69 M716,74.7 719.8,76 M563.4,104.5 566.9,108 M515.5,115.9 520,123.9 M792.9,178.9 797.4,176.9 795.9,182.4Z M827.4,122.7 829.4,123.7 M847.3,128.7 848.1,129.7 M717.7,234.8 716.9,238.9 M788.9,294.9 795.9,293.4 800.9,291.9 M791.9,298.1 795.9,296.5 M886.4,362.9 888.3,369.9 M379.9,447.4 389.6,436.5 396.9,437.1 M755.8,468.4 758.2,469.3" fill="none" stroke="#000" stroke-width="5.13" stroke-linejoin="round" stroke-linecap="round"/>
<path d="M135.5,216.2 136.8,218" fill="none" stroke="#000" stroke-width="5.24" stroke-linejoin="round" stroke-linecap="round"/>
<path d="M407.9,85 410.4,89 M379,95.5 380.7,97.8 M373.3,101.7 375,104 M363.2,91 371.1,94.4 M346.2,75.8 368.8,77.5 M377.8,272.4 379.8,273.4 M303.4,211.2 309.9,209.2 315.9,211.2 321.9,214.5 327.9,217.2 M340.5,381.9 342,389.9 M357.9,379.9 360.4,384.9 M353.9,410.9 359.9,414.9 M641.9,402.1 644.1,402.7 M710.8,132.9 715.3,128.4 716.8,122.9 M517,156.9 519,164.9 M527,168.4 533,170.9 M504.8,163.7 505.4,164.3 M572.5,175.1 573.5,175.9 M550.5,174.4 552.9,175.9 M716,75 725,76 730,79.5 M795.9,140.9 799.9,146.9 803.9,155.9 M820.4,100 823.9,101 M827.9,104.5 830.9,105.2 M710,133.9 716,129.9 718,125.9 715.5,121.4 M804.9,363.9 807.9,361.9" fill="none" stroke="#000" stroke-width="5.70" stroke-linejoin="round" stroke-linecap="round"/>
<path d="M240.3,135.4 243.8,141.9 M531.4,233.4 533.4,235.9 M332.4,459.6 339.7,460.8 M371.4,454.7 377.4,457.2" fill="none" stroke="#000" stroke-width="6.27" stroke-linejoin="round" stroke-linecap="round"/>
<path d="M276.8,97.2 288.8,95.2 M253.4,469.9 272.8,470.5" fill="none" stroke="#000" stroke-width="6.84" stroke-linejoin="round" stroke-linecap="round"/>
<path d="M783.9,125.9 789.9,133.9 795.9,140.9" fill="none" stroke="#000" stroke-width="7.98" stroke-linejoin="round" stroke-linecap="round"/>
</g>
<path d="M271.6,487.4 L263.7,485.2 L254.6,482.2 L244.4,478.5 L233.6,474.3 L222.3,469.5 L211.4,464.3 L201.4,459 L192,453.4 L183.1,447.8 L174.5,441.9 L166,435.9 L157.8,429.8 L149.9,423.6 L142.3,417.3 L135,410.9 L128.2,404.4 L122,397.9 L116.1,391.3 L110.5,384.7 L105.3,378 L100.6,371.3 L96.3,364.6 L92.4,357.9 L88.9,351.2 L85.9,344.4 L83.3,337.7 L81.2,331 L79.4,324.3 L77.7,317.5 L76.1,310.8 L74.8,304.1 L73.8,297.4 L73,290.6 L72.4,283.9 L72,277.2 L71.8,270.4 L72,263.7 L72.4,257 L73,250.3 L73.8,243.5 L74.8,236.8 L76.1,230.1 L77.7,223.4 L79.4,216.6 L81.2,209.9 L83.3,203.2 L85.9,196.5 L88.9,189.7 L92.4,183 L96.3,176.3 L100.6,169.6 L105.3,162.9 L110.5,156.2 L116.1,149.6 L122,143 L128.2,136.5 L135,130 L142.3,123.6 L149.9,117.3 L157.8,111.1 L166,105 L174.5,99 L183.1,93.1 L192,87.5 L201.4,81.9 L211.4,76.6 L222.3,71.4 L233.6,66.6 L244.4,62.4 L254.6,58.7 L263.7,55.7 L271.6,53.5 L726.4,53.5 L734.3,55.7 L743.4,58.7 L753.6,62.4 L764.4,66.6 L775.7,71.4 L786.6,76.6 L796.6,81.9 L806,87.5 L814.9,93.1 L823.5,99 L832,105 L840.2,111.1 L848.1,117.3 L855.7,123.6 L863,130 L869.8,136.5 L876,143 L881.9,149.6 L887.5,156.2 L892.7,162.9 L897.4,169.6 L901.7,176.3 L905.6,183 L909.1,189.7 L912.1,196.5 L914.7,203.2 L916.8,209.9 L918.6,216.6 L920.3,223.4 L921.9,230.1 L923.2,236.8 L924.2,243.5 L925,250.3 L925.6,257 L926,263.7 L926.2,270.4 L926,277.2 L925.6,283.9 L925,290.6 L924.2,297.4 L923.2,304.1 L921.9,310.8 L920.3,317.5 L918.6,324.3 L916.8,331 L914.7,337.7 L912.1,344.4 L909.1,351.2 L905.6,357.9 L901.7,364.6 L897.4,371.3 L892.7,378 L887.5,384.7 L881.9,391.3 L876,397.9 L869.8,404.4 L863,410.9 L855.7,417.3 L848.1,423.6 L840.2,429.8 L832,435.9 L823.5,441.9 L814.9,447.8 L806,453.4 L796.6,459 L786.6,464.3 L775.7,469.5 L764.4,474.3 L753.6,478.5 L743.4,482.2 L734.3,485.2 L726.4,487.4Z" fill="none" stroke="#242424" stroke-width="4.1" stroke-linejoin="round"/>
<path d="M271.6,487.4 L263.7,485.2 L254.6,482.2 L244.4,478.5 L233.6,474.3 L222.3,469.5 L211.4,464.3 L201.4,459 L192,453.4 L183.1,447.8 L174.5,441.9 L166,435.9 L157.8,429.8 L149.9,423.6 L142.3,417.3 L135,410.9 L128.2,404.4 L122,397.9 L116.1,391.3 L110.5,384.7 L105.3,378 L100.6,371.3 L96.3,364.6 L92.4,357.9 L88.9,351.2 L85.9,344.4 L83.3,337.7 L81.2,331 L79.4,324.3 L77.7,317.5 L76.1,310.8 L74.8,304.1 L73.8,297.4 L73,290.6 L72.4,283.9 L72,277.2 L71.8,270.4 L72,263.7 L72.4,257 L73,250.3 L73.8,243.5 L74.8,236.8 L76.1,230.1 L77.7,223.4 L79.4,216.6 L81.2,209.9 L83.3,203.2 L85.9,196.5 L88.9,189.7 L92.4,183 L96.3,176.3 L100.6,169.6 L105.3,162.9 L110.5,156.2 L116.1,149.6 L122,143 L128.2,136.5 L135,130 L142.3,123.6 L149.9,117.3 L157.8,111.1 L166,105 L174.5,99 L183.1,93.1 L192,87.5 L201.4,81.9 L211.4,76.6 L222.3,71.4 L233.6,66.6 L244.4,62.4 L254.6,58.7 L263.7,55.7 L271.6,53.5 L726.4,53.5 L734.3,55.7 L743.4,58.7 L753.6,62.4 L764.4,66.6 L775.7,71.4 L786.6,76.6 L796.6,81.9 L806,87.5 L814.9,93.1 L823.5,99 L832,105 L840.2,111.1 L848.1,117.3 L855.7,123.6 L863,130 L869.8,136.5 L876,143 L881.9,149.6 L887.5,156.2 L892.7,162.9 L897.4,169.6 L901.7,176.3 L905.6,183 L909.1,189.7 L912.1,196.5 L914.7,203.2 L916.8,209.9 L918.6,216.6 L920.3,223.4 L921.9,230.1 L923.2,236.8 L924.2,243.5 L925,250.3 L925.6,257 L926,263.7 L926.2,270.4 L926,277.2 L925.6,283.9 L925,290.6 L924.2,297.4 L923.2,304.1 L921.9,310.8 L920.3,317.5 L918.6,324.3 L916.8,331 L914.7,337.7 L912.1,344.4 L909.1,351.2 L905.6,357.9 L901.7,364.6 L897.4,371.3 L892.7,378 L887.5,384.7 L881.9,391.3 L876,397.9 L869.8,404.4 L863,410.9 L855.7,417.3 L848.1,423.6 L840.2,429.8 L832,435.9 L823.5,441.9 L814.9,447.8 L806,453.4 L796.6,459 L786.6,464.3 L775.7,469.5 L764.4,474.3 L753.6,478.5 L743.4,482.2 L734.3,485.2 L726.4,487.4Z" fill="none" stroke="#c4c4c4" stroke-width="1.1" stroke-dasharray="1.8 3.9"/>
<text class="t" x="164.9" y="44.5" textLength="667" lengthAdjust="spacing">JJA 2080-2099, Diff, MPI-ESM-LR, rcp26, median - MPI-ESM-LR</text>
<g class="l">
<text x="210.8" y="62.2">90<tspan dy="-11" dx="0.4" font-size="14">°</tspan><tspan x="245.9" y="62.2">N</tspan></text>
<text x="55.6" y="158.6">45<tspan dy="-11" dx="0.4" font-size="14">°</tspan><tspan x="90.7" y="158.6">N</tspan></text>
<text x="41.6" y="278.2">0<tspan dy="-11" dx="0.4" font-size="14">°</tspan></text>
<text x="57" y="400">45<tspan dy="-11" dx="0.4" font-size="14">°</tspan><tspan x="92.1" y="400">S</tspan></text>
<text x="212.9" y="496.2">90<tspan dy="-11" dx="0.4" font-size="14">°</tspan><tspan x="248" y="496.2">S</tspan></text>
<text x="242.2" y="534">180<tspan dy="-11" dx="0.4" font-size="14">°</tspan><tspan x="288.5" y="534">W</tspan></text>
<text x="298.7" y="534">135<tspan dy="-11" dx="0.4" font-size="14">°</tspan><tspan x="345" y="534">W</tspan></text>
<text x="364.3" y="534">90<tspan dy="-11" dx="0.4" font-size="14">°</tspan><tspan x="399.4" y="534">W</tspan></text>
<text x="421.1" y="534">45<tspan dy="-11" dx="0.4" font-size="14">°</tspan><tspan x="456.2" y="534">W</tspan></text>
<text x="498.1" y="534">0<tspan dy="-11" dx="0.4" font-size="14">°</tspan></text>
<text x="537.6" y="534">45<tspan dy="-11" dx="0.4" font-size="14">°</tspan><tspan x="572.7" y="534">E</tspan></text>
<text x="593.9" y="534">90<tspan dy="-11" dx="0.4" font-size="14">°</tspan><tspan x="629" y="534">E</tspan></text>
<text x="643.5" y="534">135<tspan dy="-11" dx="0.4" font-size="14">°</tspan><tspan x="689.8" y="534">E</tspan></text>
<text x="700.1" y="534">180<tspan dy="-11" dx="0.4" font-size="14">°</tspan><tspan x="746.4" y="534">E</tspan></text>
<rect x="948.5" y="51.8" width="40.2" height="436.4" fill="url(#jet)" stroke="#262626" stroke-width="1"/>
<text x="996.3" y="58.7" font-size="18">100</text>
<path d="M984.2,95.4 H988.7" stroke="#262626" stroke-width="1"/>
<text x="996.3" y="102.3" font-size="18">80</text>
<path d="M984.2,139.1 H988.7" stroke="#262626" stroke-width="1"/>
<text x="996.3" y="146" font-size="18">60</text>
<path d="M984.2,182.7 H988.7" stroke="#262626" stroke-width="1"/>
<text x="996.3" y="189.6" font-size="18">40</text>
<path d="M984.2,226.4 H988.7" stroke="#262626" stroke-width="1"/>
<text x="996.3" y="233.3" font-size="18">20</text>
<path d="M984.2,270 H988.7" stroke="#262626" stroke-width="1"/>
<text x="996.3" y="276.9" font-size="18">0</text>
<path d="M984.2,313.6 H988.7" stroke="#262626" stroke-width="1"/>
<text x="996.3" y="320.5" font-size="18">-20</text>
<path d="M984.2,357.3 H988.7" stroke="#262626" stroke-width="1"/>
<text x="996.3" y="364.2" font-size="18">-40</text>
<path d="M984.2,400.9 H988.7" stroke="#262626" stroke-width="1"/>
<text x="996.3" y="407.8" font-size="18">-60</text>
<path d="M984.2,444.6 H988.7" stroke="#262626" stroke-width="1"/>
<text x="996.3" y="451.5" font-size="18">-80</text>
<text x="996.3" y="495.1" font-size="18">-100</text>
</g>
</g>
<g transform="translate(1260,0)">
<g clip-path="url(#rob)">
<rect x="60" y="40" width="880" height="460" fill="#80ff80" filter="url(#tex)"/>
<ellipse cx="170" cy="233" rx="105" ry="17.2" fill="url(#p85_1)" transform="rotate(2 170 233)"/>
<ellipse cx="175" cy="233" rx="45" ry="9" fill="url(#p58_1)" transform="rotate(2 175 233)"/>
<ellipse cx="252" cy="248.5" rx="67.5" ry="12.8" fill="url(#p85_1)" transform="rotate(8 252 248.5)"/>
<ellipse cx="175" cy="236" rx="120" ry="25.5" fill="url(#p25_1)" transform="rotate(4 175 236)"/>
<ellipse cx="123" cy="260" rx="75" ry="15" fill="url(#p25_1)"/>
<ellipse cx="96" cy="285.5" rx="36" ry="9.8" fill="url(#p42_1)"/>
<ellipse cx="115" cy="286" rx="72" ry="18" fill="url(#p25_1)"/>
<ellipse cx="334.8" cy="256" rx="7.5" ry="10.5" fill="url(#p50_1)"/>
<ellipse cx="300" cy="253" rx="15" ry="10.5" fill="url(#p30_1)"/>
<ellipse cx="466" cy="254" rx="112.5" ry="14.2" fill="url(#p30_1)"/>
<ellipse cx="476.5" cy="250" rx="10.5" ry="7.5" fill="url(#p50_1)"/>
<ellipse cx="511.5" cy="261" rx="13.5" ry="9" fill="url(#p58_1)"/>
<ellipse cx="528.5" cy="256.6" rx="12" ry="9" fill="url(#p50_1)"/>
<ellipse cx="362" cy="187" rx="33" ry="12" fill="url(#p20_1)"/>
<ellipse cx="410" cy="106" rx="13.5" ry="10.5" fill="url(#p20_1)"/>
<ellipse cx="250" cy="110" rx="27" ry="30" fill="url(#p16_1)"/>
<ellipse cx="215" cy="105" rx="60" ry="21" fill="url(#p12_1)"/>
<ellipse cx="330" cy="120" rx="45" ry="21" fill="url(#p12_1)"/>
<ellipse cx="675" cy="251" rx="66" ry="25.5" fill="url(#p50_1)"/>
<ellipse cx="688" cy="257" rx="27" ry="9" fill="url(#p58_1)"/>
<ellipse cx="719" cy="230" rx="21" ry="25.5" fill="url(#p66_1)"/>
<ellipse cx="765" cy="238" rx="54" ry="45" fill="url(#p36_1)"/>
<ellipse cx="754.7" cy="253" rx="7.5" ry="7.5" fill="url(#p58_1)"/>
<ellipse cx="832" cy="239" rx="87" ry="28.5" fill="url(#p66_1)" transform="rotate(14 832 239)"/>
<ellipse cx="812" cy="233" rx="15" ry="9" fill="url(#p42_1)"/>
<ellipse cx="833" cy="238" rx="18" ry="9" fill="url(#p42_1)"/>
<ellipse cx="853" cy="247" rx="18" ry="9" fill="url(#p42_1)"/>
<ellipse cx="850" cy="236" rx="93" ry="36" fill="url(#p30_1)" transform="rotate(10 850 236)"/>
<ellipse cx="842" cy="200" rx="99" ry="60" fill="url(#p16_1)"/>
<ellipse cx="898" cy="286" rx="54" ry="11.2" fill="url(#p120_1)" transform="rotate(5 898 286)"/>
<ellipse cx="890" cy="285" rx="75" ry="21" fill="url(#p30_1)" transform="rotate(5 890 285)"/>
<ellipse cx="620" cy="108" rx="112.5" ry="25.5" fill="url(#p16_1)"/>
<ellipse cx="680" cy="185" rx="21" ry="10.5" fill="url(#p20_1)"/>
<ellipse cx="829" cy="380" rx="18" ry="7.5" fill="url(#p42_1)" transform="rotate(-20 829 380)"/>
<ellipse cx="700" cy="405" rx="210" ry="39" fill="url(#p16_1)"/>
<ellipse cx="605" cy="440" rx="27" ry="10.5" fill="url(#p25_1)"/>
<ellipse cx="800" cy="404" rx="18" ry="10.5" fill="url(#p25_1)"/>
<ellipse cx="190" cy="342" rx="165" ry="16.5" fill="url(#p20_1)" transform="rotate(14 190 342)"/>
<ellipse cx="340" cy="400" rx="12" ry="12" fill="url(#p25_1)"/>
<ellipse cx="124.5" cy="244.3" rx="39" ry="6.8" fill="url(#n36_1)" transform="rotate(1 124.5 244.3)"/>
<ellipse cx="110" cy="242.7" rx="10.5" ry="3.8" fill="url(#n42_1)"/>
<ellipse cx="247" cy="224" rx="22.5" ry="13.5" fill="url(#n42_1)"/>
<ellipse cx="250" cy="205" rx="10.5" ry="21" fill="url(#n25_1)"/>
<ellipse cx="248" cy="190" rx="10.5" ry="15" fill="url(#n30_1)"/>
<ellipse cx="320" cy="226" rx="67.5" ry="25.5" fill="url(#n30_1)"/>
<ellipse cx="312.8" cy="237.4" rx="9" ry="9" fill="url(#n66_1)"/>
<ellipse cx="400" cy="235.5" rx="93" ry="19.5" fill="url(#n50_1)" transform="rotate(6 400 235.5)"/>
<ellipse cx="395" cy="230" rx="112.5" ry="30" fill="url(#n25_1)" transform="rotate(6 395 230)"/>
<ellipse cx="407" cy="237.5" rx="24" ry="7.5" fill="url(#n42_1)"/>
<ellipse cx="444" cy="238" rx="12" ry="7.5" fill="url(#n36_1)"/>
<ellipse cx="471" cy="232.5" rx="13.5" ry="8.2" fill="url(#n36_1)" transform="rotate(-25 471 232.5)"/>
<ellipse cx="492" cy="278" rx="19.5" ry="9.8" fill="url(#n36_1)" transform="rotate(10 492 278)"/>
<ellipse cx="180" cy="302" rx="63" ry="16.5" fill="url(#n12_1)"/>
<ellipse cx="180" cy="312" rx="78" ry="15" fill="url(#n12_1)" transform="rotate(20 180 312)"/>
<ellipse cx="208" cy="327" rx="18" ry="7.5" fill="url(#n20_1)" transform="rotate(10 208 327)"/>
<ellipse cx="330" cy="360" rx="16.5" ry="18" fill="url(#n30_1)"/>
<ellipse cx="335" cy="360" rx="5.2" ry="9" fill="url(#n42_1)"/>
<ellipse cx="372" cy="338" rx="10.5" ry="10.5" fill="url(#n20_1)"/>
<ellipse cx="465" cy="350" rx="28.5" ry="28.5" fill="url(#n16_1)"/>
<ellipse cx="517" cy="373" rx="9" ry="10.5" fill="url(#n42_1)"/>
<ellipse cx="520" cy="142" rx="42" ry="15" fill="url(#n20_1)"/>
<ellipse cx="540" cy="235" rx="105" ry="12" fill="url(#n16_1)"/>
<ellipse cx="591" cy="240" rx="6" ry="7.5" fill="url(#n36_1)"/>
<ellipse cx="657.7" cy="222" rx="18" ry="12" fill="url(#n50_1)"/>
<ellipse cx="702" cy="197" rx="9" ry="5.2" fill="url(#n58_1)"/>
<ellipse cx="717" cy="293" rx="48" ry="17.2" fill="url(#n120_1)"/>
<ellipse cx="680" cy="292" rx="87" ry="19.5" fill="url(#n50_1)"/>
<ellipse cx="853" cy="291" rx="9" ry="11.2" fill="url(#n85_1)" transform="rotate(20 853 291)"/>
<ellipse cx="758.7" cy="282" rx="7.5" ry="4.5" fill="url(#n42_1)"/>
<ellipse cx="775" cy="287" rx="36" ry="10.5" fill="url(#n25_1)"/>
<ellipse cx="885" cy="304" rx="28.5" ry="12" fill="url(#n25_1)"/>
<ellipse cx="540" cy="374" rx="72" ry="10.5" fill="url(#n25_1)"/>
<ellipse cx="520" cy="374" rx="9" ry="7.5" fill="url(#n42_1)"/>
<ellipse cx="486" cy="360" rx="13.5" ry="16.5" fill="url(#n25_1)"/>
<ellipse cx="690" cy="346" rx="123" ry="48" fill="url(#n12_1)"/>
<ellipse cx="880" cy="350" rx="54" ry="27" fill="url(#n20_1)"/>
<ellipse cx="134" cy="388" rx="15" ry="9" fill="url(#n20_1)"/>
<ellipse cx="170" cy="233" rx="105" ry="17.2" fill="url(#p85_2)" transform="rotate(2 170 233)"/>
<ellipse cx="175" cy="233" rx="45" ry="9" fill="url(#p58_2)" transform="rotate(2 175 233)"/>
<ellipse cx="252" cy="248.5" rx="67.5" ry="12.8" fill="url(#p85_2)" transform="rotate(8 252 248.5)"/>
<ellipse cx="96" cy="285.5" rx="36" ry="9.8" fill="url(#p42_2)"/>
<ellipse cx="334.8" cy="256" rx="7.5" ry="10.5" fill="url(#p50_2)"/>
<ellipse cx="300" cy="253" rx="15" ry="10.5" fill="url(#p30_2)"/>
<ellipse cx="466" cy="254" rx="112.5" ry="14.2" fill="url(#p30_2)"/>
<ellipse cx="476.5" cy="250" rx="10.5" ry="7.5" fill="url(#p50_2)"/>
<ellipse cx="511.5" cy="261" rx="13.5" ry="9" fill="url(#p58_2)"/>
<ellipse cx="528.5" cy="256.6" rx="12" ry="9" fill="url(#p50_2)"/>
<ellipse cx="675" cy="251" rx="66" ry="25.5" fill="url(#p50_2)"/>
<ellipse cx="688" cy="257" rx="27" ry="9" fill="url(#p58_2)"/>
<ellipse cx="719" cy="230" rx="21" ry="25.5" fill="url(#p66_2)"/>
<ellipse cx="765" cy="238" rx="54" ry="45" fill="url(#p36_2)"/>
<ellipse cx="754.7" cy="253" rx="7.5" ry="7.5" fill="url(#p58_2)"/>
<ellipse cx="832" cy="239" rx="87" ry="28.5" fill="url(#p66_2)" transform="rotate(14 832 239)"/>
<ellipse cx="812" cy="233" rx="15" ry="9" fill="url(#p42_2)"/>
<ellipse cx="833" cy="238" rx="18" ry="9" fill="url(#p42_2)"/>
<ellipse cx="853" cy="247" rx="18" ry="9" fill="url(#p42_2)"/>
<ellipse cx="850" cy="236" rx="93" ry="36" fill="url(#p30_2)" transform="rotate(10 850 236)"/>
<ellipse cx="898" cy="286" rx="54" ry="11.2" fill="url(#p120_2)" transform="rotate(5 898 286)"/>
<ellipse cx="890" cy="285" rx="75" ry="21" fill="url(#p30_2)" transform="rotate(5 890 285)"/>
<ellipse cx="829" cy="380" rx="18" ry="7.5" fill="url(#p42_2)" transform="rotate(-20 829 380)"/>
<ellipse cx="124.5" cy="244.3" rx="39" ry="6.8" fill="url(#n36_2)" transform="rotate(1 124.5 244.3)"/>
<ellipse cx="110" cy="242.7" rx="10.5" ry="3.8" fill="url(#n42_2)"/>
<ellipse cx="247" cy="224" rx="22.5" ry="13.5" fill="url(#n42_2)"/>
<ellipse cx="248" cy="190" rx="10.5" ry="15" fill="url(#n30_2)"/>
<ellipse cx="320" cy="226" rx="67.5" ry="25.5" fill="url(#n30_2)"/>
<ellipse cx="312.8" cy="237.4" rx="9" ry="9" fill="url(#n66_2)"/>
<ellipse cx="400" cy="235.5" rx="93" ry="19.5" fill="url(#n50_2)" transform="rotate(6 400 235.5)"/>
<ellipse cx="407" cy="237.5" rx="24" ry="7.5" fill="url(#n42_2)"/>
<ellipse cx="444" cy="238" rx="12" ry="7.5" fill="url(#n36_2)"/>
<ellipse cx="471" cy="232.5" rx="13.5" ry="8.2" fill="url(#n36_2)" transform="rotate(-25 471 232.5)"/>
<ellipse cx="492" cy="278" rx="19.5" ry="9.8" fill="url(#n36_2)" transform="rotate(10 492 278)"/>
<ellipse cx="330" cy="360" rx="16.5" ry="18" fill="url(#n30_2)"/>
<ellipse cx="335" cy="360" rx="5.2" ry="9" fill="url(#n42_2)"/>
<ellipse cx="517" cy="373" rx="9" ry="10.5" fill="url(#n42_2)"/>
<ellipse cx="591" cy="240" rx="6" ry="7.5" fill="url(#n36_2)"/>
<ellipse cx="657.7" cy="222" rx="18" ry="12" fill="url(#n50_2)"/>
<ellipse cx="702" cy="197" rx="9" ry="5.2" fill="url(#n58_2)"/>
<ellipse cx="717" cy="293" rx="48" ry="17.2" fill="url(#n120_2)"/>
<ellipse cx="680" cy="292" rx="87" ry="19.5" fill="url(#n50_2)"/>
<ellipse cx="853" cy="291" rx="9" ry="11.2" fill="url(#n85_2)" transform="rotate(20 853 291)"/>
<ellipse cx="758.7" cy="282" rx="7.5" ry="4.5" fill="url(#n42_2)"/>
<ellipse cx="520" cy="374" rx="9" ry="7.5" fill="url(#n42_2)"/>
<ellipse cx="170" cy="233" rx="105" ry="17.2" fill="url(#p85_3)" transform="rotate(2 170 233)"/>
<ellipse cx="252" cy="248.5" rx="67.5" ry="12.8" fill="url(#p85_3)" transform="rotate(8 252 248.5)"/>
<ellipse cx="898" cy="286" rx="54" ry="11.2" fill="url(#p120_3)" transform="rotate(5 898 286)"/>
<ellipse cx="717" cy="293" rx="48" ry="17.2" fill="url(#n120_3)"/>
<ellipse cx="853" cy="291" rx="9" ry="11.2" fill="url(#n85_3)" transform="rotate(20 853 291)"/>
<path d="M495.8,487.4 L495.6,482.2 L495.3,474.3 L495,464.3 L494.7,453.4 L494.5,441.9 L494.3,429.8 L494,417.3 L493.9,404.4 L493.7,391.3 L493.5,378 L493.4,364.6 L493.3,351.2 L493.2,337.7 L493.2,324.3 L493.1,310.8 L493.1,297.4 L493.1,283.9 L493.1,270.4 L493.1,257 L493.1,243.5 L493.1,230.1 L493.2,216.6 L493.2,203.2 L493.3,189.7 L493.4,176.3 L493.5,162.9 L493.7,149.6 L493.9,136.5 L494,123.6 L494.3,111.1 L494.5,99 L494.7,87.5 L495,76.6 L495.3,66.6 L495.6,58.7 L495.8,53.5 L499.5,53.5 L499.6,58.7 L499.6,66.6 L499.7,76.6 L499.7,87.5 L499.8,99 L499.8,111.1 L499.8,123.6 L499.9,136.5 L499.9,149.6 L499.9,162.9 L499.9,176.3 L500,189.7 L500,203.2 L500,216.6 L500,230.1 L500,243.5 L500,257 L500,270.4 L500,283.9 L500,297.4 L500,310.8 L500,324.3 L500,337.7 L500,351.2 L499.9,364.6 L499.9,378 L499.9,391.3 L499.9,404.4 L499.8,417.3 L499.8,429.8 L499.8,441.9 L499.7,453.4 L499.7,464.3 L499.6,474.3 L499.6,482.2 L499.5,487.4Z" fill="#f0f0f0"/>
<path d="M116.1,391.3 L881.9,391.3 M71.8,270.4 L926.2,270.4 M116.1,149.6 L881.9,149.6 M328.5,487.4 L315.7,482.2 L299.9,474.3 L283.3,464.3 L268.8,453.4 L255.6,441.9 L243.1,429.8 L231.5,417.3 L220.9,404.4 L211.9,391.3 L203.7,378 L197,364.6 L191.4,351.2 L187.3,337.7 L184.3,324.3 L181.8,310.8 L180.1,297.4 L179,283.9 L178.6,270.4 L179,257 L180.1,243.5 L181.8,230.1 L184.3,216.6 L187.3,203.2 L191.4,189.7 L197,176.3 L203.7,162.9 L211.9,149.6 L220.9,136.5 L231.5,123.6 L243.1,111.1 L255.6,99 L268.8,87.5 L283.3,76.6 L299.9,66.6 L315.7,58.7 L328.5,53.5 M385.3,487.4 L376.8,482.2 L366.3,474.3 L355.2,464.3 L345.5,453.4 L336.7,441.9 L328.4,429.8 L320.6,417.3 L313.6,404.4 L307.6,391.3 L302.1,378 L297.6,364.6 L293.9,351.2 L291.2,337.7 L289.2,324.3 L287.5,310.8 L286.4,297.4 L285.7,283.9 L285.4,270.4 L285.7,257 L286.4,243.5 L287.5,230.1 L289.2,216.6 L291.2,203.2 L293.9,189.7 L297.6,176.3 L302.1,162.9 L307.6,149.6 L313.6,136.5 L320.6,123.6 L328.4,111.1 L336.7,99 L345.5,87.5 L355.2,76.6 L366.3,66.6 L376.8,58.7 L385.3,53.5 M442.2,487.4 L437.9,482.2 L432.6,474.3 L427.1,464.3 L422.3,453.4 L417.9,441.9 L413.7,429.8 L409.8,417.3 L406.3,404.4 L403.3,391.3 L400.6,378 L398.3,364.6 L396.5,351.2 L395.1,337.7 L394.1,324.3 L393.3,310.8 L392.7,297.4 L392.3,283.9 L392.2,270.4 L392.3,257 L392.7,243.5 L393.3,230.1 L394.1,216.6 L395.1,203.2 L396.5,189.7 L398.3,176.3 L400.6,162.9 L403.3,149.6 L406.3,136.5 L409.8,123.6 L413.7,111.1 L417.9,99 L422.3,87.5 L427.1,76.6 L432.6,66.6 L437.9,58.7 L442.2,53.5 M499,487.4 L499,482.2 L499,474.3 L499,464.3 L499,453.4 L499,441.9 L499,429.8 L499,417.3 L499,404.4 L499,391.3 L499,378 L499,364.6 L499,351.2 L499,337.7 L499,324.3 L499,310.8 L499,297.4 L499,283.9 L499,270.4 L499,257 L499,243.5 L499,230.1 L499,216.6 L499,203.2 L499,189.7 L499,176.3 L499,162.9 L499,149.6 L499,136.5 L499,123.6 L499,111.1 L499,99 L499,87.5 L499,76.6 L499,66.6 L499,58.7 L499,53.5 M555.8,487.4 L560.1,482.2 L565.4,474.3 L570.9,464.3 L575.7,453.4 L580.1,441.9 L584.3,429.8 L588.2,417.3 L591.7,404.4 L594.7,391.3 L597.4,378 L599.7,364.6 L601.5,351.2 L602.9,337.7 L603.9,324.3 L604.7,310.8 L605.3,297.4 L605.7,283.9 L605.8,270.4 L605.7,257 L605.3,243.5 L604.7,230.1 L603.9,216.6 L602.9,203.2 L601.5,189.7 L599.7,176.3 L597.4,162.9 L594.7,149.6 L591.7,136.5 L588.2,123.6 L584.3,111.1 L580.1,99 L575.7,87.5 L570.9,76.6 L565.4,66.6 L560.1,58.7 L555.8,53.5 M612.7,487.4 L621.2,482.2 L631.7,474.3 L642.8,464.3 L652.5,453.4 L661.3,441.9 L669.6,429.8 L677.4,417.3 L684.4,404.4 L690.4,391.3 L695.9,378 L700.4,364.6 L704.1,351.2 L706.8,337.7 L708.8,324.3 L710.5,310.8 L711.6,297.4 L712.3,283.9 L712.6,270.4 L712.3,257 L711.6,243.5 L710.5,230.1 L708.8,216.6 L706.8,203.2 L704.1,189.7 L700.4,176.3 L695.9,162.9 L690.4,149.6 L684.4,136.5 L677.4,123.6 L669.6,111.1 L661.3,99 L652.5,87.5 L642.8,76.6 L631.7,66.6 L621.2,58.7 L612.7,53.5 M669.5,487.4 L682.3,482.2 L698.1,474.3 L714.7,464.3 L729.2,453.4 L742.4,441.9 L754.9,429.8 L766.5,417.3 L777.1,404.4 L786.1,391.3 L794.3,378 L801,364.6 L806.6,351.2 L810.7,337.7 L813.7,324.3 L816.2,310.8 L817.9,297.4 L819,283.9 L819.4,270.4 L819,257 L817.9,243.5 L816.2,230.1 L813.7,216.6 L810.7,203.2 L806.6,189.7 L801,176.3 L794.3,162.9 L786.1,149.6 L777.1,136.5 L766.5,123.6 L754.9,111.1 L742.4,99 L729.2,87.5 L714.7,76.6 L698.1,66.6 L682.3,58.7 L669.5,53.5" fill="none" stroke="#c8aecb" stroke-width="1.05" stroke-dasharray="2.1 5.9" opacity="0.8"/>
<path d="M322.9,202 325.9,207 328.9,212 M572.9,145.9 576.9,143.9 580.9,143.4 579.9,145.9 M812,274.5 814.8,272.4 818.3,274.2 816.2,277.3 812.7,277Z" fill="none" stroke="#000" stroke-width="2.51" stroke-linejoin="round" stroke-linecap="round"/>
<path d="M891,310.5 892,314" fill="none" stroke="#000" stroke-width="2.74" stroke-linejoin="round" stroke-linecap="round"/>
<path d="M209.9,91 219.9,88 227.9,85.8 235.9,84.5 243.8,85.5 251.8,86.8 262.8,90 270.8,88.5 277.8,87.5 285.8,87 291.8,86.8 300.8,88 M209.9,91 211.9,95 206.9,96.8 200.9,98.2 196.9,97 193.4,93 189.9,90 M179.7,96.2 181.9,100 185.4,104 190.9,102 196.9,99.2 204.9,99.8 207.1,102 200.9,103.7 192.9,105.6 188.4,108.9 189.9,112.9 195.4,115.1 199.4,118.7 191.9,119.9 181.9,122.7 170.9,125.7 M170.9,124.9 181.9,121.1 191.9,117.9 200.9,114.9 205.9,113.9 209.9,111.1 215.9,108.1 221.9,108.3 227.9,109.7 232.9,111.1 235.9,114.9 237.4,119.9 236.9,125.9 238.8,132.9 240.8,137.9 239.8,143.9 236.9,148.9 232.9,153.9 228.9,158.9 226.9,162.9 226.7,167.9 227.9,172.9 229.9,177.9 233.9,180.9 235.9,186.9 236.9,192 M389.4,71.5 394.9,70 402.9,67.5 411.9,65 421.9,63 434.9,61.2 446.9,60 457.9,60 469.8,61.5 481.8,64.2 476.8,66 471.8,68.5 468.8,73.5 465.9,77.5 460.9,82 455.9,86 450.9,89.5 443.9,91.5 437.9,94 431.9,96.5 425.9,99 422.9,103 418.9,107.9 415.4,111.9 409.9,108.9 405.9,104 403.9,98 403.9,93 406.9,89 408.9,85 408.9,80 405.9,76 400.9,74 393.9,73.5 389.4,71.5Z M455.9,97 461.9,95.5 470.8,95.5 475.3,98 471.8,101 465.9,103 459.9,102 456.4,99.5Z M487.8,113.9 494.3,112.4 495.3,118.9 496.8,123.9 500.3,128.9 502.3,131.1 500.8,133.9 501.8,136.1 495.8,138.1 489.3,139.7 491.8,135.9 489.8,133.9 488.8,129.9 491.8,127.9 490.8,123.9 488.8,119.9 486.8,116.9Z M478.8,126.9 481.8,123.9 485.8,123.4 486.8,126.9 484.8,130.9 480.8,132.9 477.8,132.4Z M532,122.9 521.8,125.9 511.8,129.9 505.8,133.9 500.8,137.9 495.8,139.9 489.3,141.1 491.8,143.9 495.8,145.9 496.8,149.9 495.8,153.9 486.8,152.9 479.8,154.4 479.3,159.9 479.8,165.9 478.8,169.9 480.8,171.4 484.8,171.9 487,174.1 491.8,173.4 494.8,171.4 497.8,166.9 500.8,162.9 503.8,158.9 509.8,155.9 515.8,153.9 519.8,151.9 521.8,154.9 525.8,158.9 532,162.9 M532,181.9 524.8,177.9 521.8,173.1 511.8,171.5 497.8,172.5 487.3,175.1 484.8,178.9 480.8,182.9 477.8,187.9 475.8,192 M387.4,128.9 385.9,132.9 380.9,134.1 373.9,135.1 365.9,136.1 359.9,138.1 354,142.1 350,145.1 M377.9,139.9 381.9,136.9 387.9,137.9 388.9,143.9 385.9,145.9 381.9,143.9 375.9,142.9Z M350,145.1 356,143.9 361.9,145.7 367.9,143.9 371.9,145.9 370.9,148.9 363.9,151.1 358.9,154.1 356,151.4 352,152.1 349,154.1 346,156.9 342,159.1 337,161.1 332,165.1 330.5,169.9 329,174.1 324,179.1 318,184.1 314,188.1 312.8,192 M514.8,68.2 523.8,66 532,65 M514.8,68.5 520.8,73 525.8,74.5 532,73 M270,88.8 276.8,86.8 281.9,85.9 286.9,87.6 292.6,88.8 297.1,91 299.4,93.3 305,93.6 309.5,92.7 315.2,91 320.8,92.1 324.2,93.3 328.7,92.7 332.1,92.1 336.6,91 339.5,88.2 341.2,85.9 342.8,89.9 345.1,94.4 346.8,97.8 342.8,99.5 337.8,100.6 332.1,102.9 326.5,105.1 320.8,108.5 317.4,111.9 317.4,114.7 319.1,118.1 324.2,120.4 329.3,122.6 334.4,123.8 335.5,127.2 333.2,129.4 334.9,133.6 339.5,131.1 341.2,127.2 342.8,122.6 342.8,120.4 347.9,119.8 349.1,115.3 351.3,111.3 353,108 354.7,105.7 358.1,104.6 362.6,105.1 365.4,108.5 366,112.5 368.8,115.9 372.8,114.7 375.6,111.3 377.3,110.2 379,113.6 379.6,118.1 379,121.5 382.9,123.8 386.3,127.2 387.2,130.5 M365.4,80.3 371.6,80.8 377.3,83.1 382.9,86.5 382.9,89.9 386.3,92.1 390.3,95 388.6,97.2 382.9,98.9 381.8,101.2 380.7,104 377.3,106.3 374.5,106.8 371.6,104.6 368.3,102.9 366,100 360.4,100.6 357,100 358.1,98.4 366,97.8 370.5,95.5 371.6,92.7 370.5,89.9 366,87.6 360.4,86.5 354.7,84.2 351.9,82.5 354.7,80.3 360.4,79.7Z M290.9,83.1 296.5,78.6 303.9,76.9 312.9,78.6 318.6,79.7 323.1,80.8 324.2,84.2 323.1,87.6 325.3,89.9 322.5,91.6 316.3,89.3 309.5,89.3 303.9,89.9 299.4,89.3 293.7,85.9Z M303.9,74.6 309.5,72.4 319.7,71.2 324.2,72.9 320.8,75.2 312.9,75.8 305,76.3Z M326.5,83.1 332.1,80.3 336.6,80.8 337.8,85.4 335.5,89.9 331,92.1 326.5,89.9 324.2,86.5Z M323.1,70.1 333.2,69 334.4,71.8 329.3,74.1 324.2,72.9Z M340,67.3 349.1,66.7 353.6,66.2 354.7,70.1 349.1,72.9 342.3,72.4Z M358.1,66.2 366,63.9 377.3,62.8 388.6,61.6 400,61.1 M369.4,71.8 377.3,70.1 385.8,67.3 394.2,65.6 400,64.5 M341.2,85.4 342.8,89.9 345.1,94.4 346.8,97.8 350.2,98.9 351.3,95.5 349.1,92.1 350.2,87.6 347.9,84.2 343.4,83.1Z M343.4,100.6 349.1,98.9 351.9,101.2 350.2,104 345.7,105.7 342.3,104Z M244.5,209 243,203 241.8,197 241.2,191 239.5,185 241,184.5 243.5,187.5 244.5,194 247.2,200 251,206 254,211 253.2,216 257,220 263,224 268.9,227 273.9,228.5 277.9,227 281.9,231 286.9,234.5 292.9,235.9 295.9,239.9 297.9,243.9 302.9,246.9 305.9,249.9 308.9,250.9 310.9,248.9 313.9,245.9 315.9,248.9 315.9,253.9 314.9,259.9 311.9,263.9 308.9,268.9 307.4,273.9 308.9,277.9 305.9,281.9 306.4,285.9 309.9,290.9 313.9,297.9 317.9,304.9 320.9,309.9 327.9,314.9 332.9,318.9 334.9,322 M323.9,180 315.9,184 313.4,188 313.9,194 314.9,200 312.9,203.5 310.4,200 309.4,194 307.9,190 303.9,188.5 296.9,188 293.9,190.8 287.9,190 281.9,190.5 276.9,194 273.9,199 271.9,205 271.4,211 272.4,216 275.9,220 279.9,221 284.9,219.5 287.4,216 288.9,213 295.9,212 296.9,214 294.9,219 292.9,224 290.9,228 293.9,228.5 299.9,229 303.4,232 301.9,235.9 300.9,241.9 302.4,244.9 305.9,245.9 310.9,244.9 314.9,244.9 317.9,247.9 318.9,243.9 323.9,239.9 329.9,237.4 333.9,238.9 336.9,240.9 343.9,241.9 349.9,241.4 354.9,242.4 353.9,245.9 357.9,248.9 362.9,253.9 368.9,254.4 374.9,256.9 378.8,262.9 379.8,267.9 378.8,271.9 385.8,271.9 392.8,275.9 399.8,277.9 405.8,278.9 410.8,283.9 415.8,284.9 417.3,289.9 415.8,294.9 411.8,299.9 407.8,305.9 406.8,312.9 406.3,322 M406.4,322 403.9,327 399.9,331.5 394.9,332.5 389.9,335 386.4,340 387.4,345 383.9,351 379.9,356.9 376.9,361.9 372.9,363.9 367.9,362.9 371.9,366.9 372.9,371.9 368.9,374.4 361.9,375.4 363.4,379.9 359.9,384.9 358.9,389.9 355.9,393.9 358.9,396.9 361.9,398.9 358.9,403.9 356.9,407.9 361.9,411.9 369.9,416.4 363.9,418.9 357.9,417.9 351.9,414.9 346.9,409.9 343,403.9 340.5,397.9 339.5,391.9 339,384.9 337.5,377.9 336,369.9 337.5,363.9 337,355.9 336,348 336,340 335.5,330 335,322 M486,173.5 494,175 499.9,172 507.9,170.8 515.9,170 521.9,170 523.4,174 520.9,178 524.9,181 531.9,183.5 536.9,187 542.9,189 544.9,184 548.9,182 555.9,184 562.9,186.5 569.9,187 574.9,186 577.9,184.5 579.4,178 578.9,171.8 M571.9,188 574.9,194 578.9,202 582.9,210 585.9,216.9 590.9,223.9 595.9,229.9 599.9,235.9 603.9,242.4 609.8,240.9 615.8,238.9 619.8,237.9 618.8,243.9 615.8,249.9 611.8,256.9 607.8,261.9 602.9,266.9 597.9,272.9 593.9,277.9 590.9,284.9 591.9,291.9 594.4,297.9 594.9,302 M577.9,185 577.9,192 581.9,200 586.9,208 590.9,215.9 595.9,221.9 599.9,228.9 601.4,234.9 607.8,233.9 615.8,229.9 624.8,224.9 630.8,219.9 634.8,215.9 637.8,211 633.8,207 629.8,203 626.8,200 628.3,198.5 623.8,205 618.8,205.5 615.8,201 612.8,196 609.8,192 608.3,189.5 611.8,188.5 614.8,192 618.8,197 624.8,200 628.8,199 634.8,201 643.8,202 652.8,201.5 657.8,207 662.8,211 667.8,212 670,219.9 M486,173.5 483,178 479,182 476.5,187 475,191 469,194.5 465,201 461.5,207 459,213 460.5,218.9 459.5,224.9 458,230.9 459.5,236.9 464,241.9 467.5,247.9 473,252.9 479,257.9 481,258.9 487,256.4 494,257.4 499.9,254.9 504.9,252.9 509.9,253.4 511.9,257.9 515.9,258.9 519.9,258.4 522.4,261.9 520.9,267.9 519.9,272.9 522.9,277.9 526.9,283.9 529.9,290.9 531.4,297.9 531.9,302 M478,160 478.5,167 482,170.5 486,172 494,170.5 499.9,164 503.9,160 M573.9,270.9 578.9,269.4 580.9,271.9 578.9,276.9 574.9,277.4Z M609.8,160 605.9,165 608.8,170 613.8,172.5 618.8,170 616.8,165 613.8,160 M532,302 529,306 526.5,312 525.5,318 529,324 532,330 533,337 534.5,344 538,349.9 540,355.9 539.5,359.9 543,363.9 550,362.4 558.9,360.9 563.9,357.9 568.9,352.9 572.9,347.9 574.9,343 573.9,339.5 578.9,337.5 581.9,334 581.4,329 579.9,325 584.9,320 588.9,316.5 593.9,313 595.4,309 594.9,302 M614.9,302.5 617.9,310 615.9,317 612.9,324 609.9,332 607.4,338 602.9,340 599.9,336 598.9,330 600.9,325 601.9,319 602.9,314 607.9,312 611.9,308Z M521,92 524,90 532,87 540,85 546.9,85 553.9,87 561.9,89 568.9,91.5 572.4,94.5 569.9,98 563.9,97 558.9,94.5 555.9,94.5 561.9,99 565.9,102 568.9,99 572.9,96 576.9,92 579.9,90 583.9,89 585.9,91 591.9,89.5 597.9,87 601.9,88 604.9,90 608.9,88.5 611.4,85 613.4,80 616.9,81 618.9,86 619.4,91 622.9,90 623.4,85 626.9,83 629.9,86 627.9,91 624.9,95 628.9,94 631.9,89 633.9,83 637.9,78 643.9,75 649.9,73.5 654.9,73 649.9,71 641.9,68.5 633.9,66 636.9,64.5 645.9,66 653.9,68.5 659.8,72 669.8,73 677.8,76 673.8,80 681.8,79 689.8,80 699.8,79.5 709.8,81 715.8,85 720,86 M584.9,83 586.9,77 592.9,74 599.9,72.5 606.9,73 605.9,75 597.9,76 592.9,79 590.9,83 594.9,85.5 588.9,86Z M514.5,68 523,66 539,66 537,71 530,72 525,74 520,71.5Z M521,92 523,96 519,100 514,103 510,106 507.5,109 508.5,113.9 511.5,115.9 515,117.4 517.5,114.4 520,113.4 521.5,116.9 522,120.9 524.5,124.9 529,123.9 533,119.9 534,114.9 531,111.9 533,107 537,103 539,99 542,97 545,98.5 542,101.5 539,104.5 539.5,108.5 541.5,111.9 545.9,111 551.9,110 558.9,108 559.9,110 553.9,111.9 545.9,113.9 544.5,117.4 541,119.9 540,123.9 534,125.4 528,126.4 523,126.9 520,124.9 519,119.9 516,115.9 514.5,119.9 515.5,124.9 517,127.4 510,128.4 504,131.9 500,135.9 496,138.9 490,140.9 M522,154.9 520,153.9 525,157.9 530,161.9 535,164.9 540,167.9 545.9,171.9 548.9,171.9 549.9,168.9 545.9,165.9 542,160.9 537,155.9 530,150.9 524,147.9 526,146.9 533,151.9 539,156.9 544,162.9 546.9,166.9 548.9,170.9 549.9,174.9 553.9,171.9 551.9,167.9 554.9,164.9 558.9,163.9 561.9,165.9 559.9,161.9 563.9,160.9 567.9,161.9 568.9,165.9 569.9,170.9 572.9,174.9 577.9,172.9 578.9,171.9 M558.9,157.9 559.9,151.9 562.9,145.9 565.9,144.9 569.9,147.9 572.9,145.9 574.9,143.9 580.9,143.9 577.9,148.9 581.9,150.9 585.9,154.9 589.9,156.9 587.9,159.9 581.9,160.4 574.9,159.9 567.9,160.9 563.9,160.9Z M598.9,146.9 604.9,143.4 610.9,144.9 612.9,148.9 609.9,150.9 606.9,151.9 608.9,156.9 613.9,159.9 616.9,163.9 618.9,169.9 615.9,171.9 610.9,170.9 606.9,166.9 606.9,161.9 603.9,156.9 600.9,152.9Z M622.4,149.4 623.6,146.6 626.4,145.4 629.2,146.6 630.4,149.4 629.2,152.2 626.4,153.4 623.6,152.2Z M700,79.5 710,80.5 715,84 720,85.8 724,83.5 730,82 733,84 736,81 742,81.5 750,84 757.9,85 764.9,85 771.9,88 779.9,88.5 787.9,88 792.9,90 795.9,87 799.9,86 M828.9,105 823.9,107 819.9,110.5 814.9,110 809.9,111.5 812.9,116.9 816.9,120.9 819.9,125.9 820.9,131.9 818.9,136.9 815.9,131.9 809.9,126.9 804.9,121.9 802.9,116.9 804.9,111.9 804.9,107 801.9,104.7 799.9,109 793.9,109 791.9,107 793.9,112.9 787.9,113.9 779.9,111.9 769.9,112.9 768.9,117.9 766.9,124.9 771.9,124.4 775.9,126.9 782.9,124.9 785.9,131.9 789.9,138.9 790.9,143.9 788.9,150.9 782.9,154.9 779.9,159.9 777.9,164.9 782.9,168.9 786.9,173.9 787.9,176.9 782.9,178.9 780.9,173.9 778.9,169.9 775.9,165.9 771.9,163.9 767.9,164.9 763.9,160.9 758.9,164.9 756.9,166.9 761.9,169.9 769.9,169.2 765.9,173.9 767.9,178.9 771.9,184.9 775.9,189.9 776.9,195.9 775.9,198 M799.9,153.9 804.9,151.9 812.9,149.9 811.9,154.9 805.9,156.9 800.9,156.9Z M802.9,157.9 808.9,161.9 810.9,167.9 812.9,174.9 808.9,177.9 803.9,179.9 799.9,182.9 795.9,185.9 791.9,181.9 793.9,175.9 799.9,173.9 803.9,169.9 804.9,163.9 801.9,159.9Z M640,203.5 646,202.5 653,202 657,207 660,210 663,213 666,212 667.5,210 668.5,215 670,222 673,230 676,236.9 679,243.9 682,248.9 684,248.9 686,244.9 688,239.9 687,234 687,229 692,224 697.9,218 701.9,213 705.9,212 710.4,209.2 712.9,212 715.9,218 718.9,223 721.9,227 725.9,225 728.9,227 729.9,232 731.9,237.9 730.9,243.9 734.9,251.9 739.9,258.9 744.9,266.9 746.1,265.9 743.9,257.9 740.9,251.9 737.9,247.9 734.9,243.9 733.9,237.9 735.9,234.5 739.9,235.9 743.9,240.9 747.4,245.9 750.9,243.9 754.9,239.9 756.9,234 753.9,228 749.9,223 746.9,219 745.9,216 749.9,212 754.9,213 759.9,211 765.9,209 770.9,206 774.9,201 777.4,195 777.9,190 774.9,185 771.9,180 M752.4,218.5 753.6,216.3 755.9,216 757.4,218 756.4,220.5 753.9,221Z M688,247.9 692,246.9 693.5,250.9 691,254.9 688,252.9Z M724.9,254.9 729.9,257.9 734.9,263.9 739.9,269.9 744.9,274.9 749.9,279.9 750.9,284.9 750.9,288.4 747.9,283.9 742.9,278.9 737.9,272.9 732.9,266.9 727.9,260.9Z M750.9,288.4 759.9,289.9 769.9,290.9 779.9,292.9 787.9,294.4 779.9,294.9 769.9,293.4 759.9,292.4Z M757.9,265.9 762.9,262.9 768.9,257.9 774.9,251.9 777.1,251.4 779.9,253.9 781.9,257.9 778.9,261.9 779.9,266.9 777.9,271.9 773.9,277.9 769.9,280.9 764.9,278.9 760.9,276.9 758.9,271.9Z M781.1,219.7 784.6,221.2 786,224.7 784.6,228.9 786,231.7 789.5,232.4 792.3,235.2 795.1,238 795.8,241.5 793.7,240.1 790.9,238 788.1,236.6 786,238 783.9,235.2 781.8,231.7 780,228.2 780,223.3Z M788.1,238 791.6,240.1 795.1,242.9 797.9,246.4 799.3,250.6 797.2,254.2 793.7,254.9 790.9,252.1 788.1,250.6 787.4,248.5 790.2,247.1 788.8,244.3 787.4,241.5Z M808.5,270.3 813.4,271 818.3,272.4 821.1,273.7 826.7,274.2 832.3,275.9 837.2,278 842.9,281.5 846.4,285.1 847.8,291.4 850.6,295.6 853.4,298.4 848.5,295.6 845,292.1 841.5,289.3 837.9,290.7 834.4,294.2 830.2,292.8 825.3,292.1 826.7,287.9 825.3,283.7 819.7,280.8 816.2,278 812.7,277 812,274.5 809.2,272.4Z M781.9,322 785.9,315.9 791.9,310.9 797.9,307.9 801.9,309.9 805.9,304.9 809.8,300.9 815.8,301.9 821.8,303.4 819.8,308.9 822.8,312.9 827.8,317.9 831.8,313.9 833.8,306.9 835.3,299.9 837.8,306.9 839.8,313.9 841.8,322 M763,329 769,326 775.9,323.5 781.9,321.5 784.9,317 788.9,314 793.9,310 798.9,308 801.9,311 804.9,307 805.9,301.5 811.9,301 815.9,303 821.9,303.5 820.9,307 817.9,311 821.9,315 826.9,319 830.9,316 832.9,310 834.4,304 835.4,299.5 837.4,305 839.9,311 841.9,319 845.9,324 848.9,331 851.9,338 851.4,345.9 848.9,350.9 844.9,355.9 839.9,359.9 834.9,364.9 830.9,369.9 825.9,371.9 820.9,374.4 817.9,371.9 814.9,374.4 810.9,371.9 808.9,367.9 809.9,363.9 808.9,358.9 805.9,361.9 804.9,366.9 802.9,361.9 800.9,356.9 796.9,354.9 791.9,354.4 784.9,355.9 778.9,358.9 774,360.9 768,361.4 763,364.4 759,363.9 757,360.9 760,357.9 761.5,351.9 761,345.9 760,341 761.5,335Z M812.9,380.4 817.9,379.4 821.9,379.9 820.9,383.9 816.9,386.9 812.9,388.4 811.4,384.9Z M886.4,362.4 887.8,365.9 889.8,370.9 892.8,371.9 888.8,374.9 884.9,376.9 879.9,375.9 883.9,372.9 886.4,368.9 885.9,363.9Z M879.9,376.9 873.9,380.9 865.9,384.9 857.9,388.9 850.9,393.9 850.9,396.9 855.9,395.9 861.9,392.9 869.9,388.9 876.9,383.9 882.9,379.9Z M252.2,470.5 264.3,466.9 274.1,463.2 285,462.6 293.5,464.5 298.4,466.3 297.2,460.2 305.7,460.2 311.8,463.2 317.8,462 325.1,463.2 332.4,460.8 334.9,457.2 342.2,459.6 351.9,459.6 361.6,459 370.1,458.4 373.8,453.5 377.4,448.7 381.1,443.8 386,438.9 390.8,435.3 396.9,437.7 390.8,441.4 386,446.2 387.2,449.9 392,451.1 396.9,454.7 400.6,459.6 399.3,465.7 395.7,468.1 404.2,468.1 416.4,469.9 429.7,471.2 441.9,470.5 452.9,466.3 465,460.8 477.2,457.2 489.3,454.7 496.6,454.1 499.1,456 507.6,453.5 520,452.3 M274.1,473 286.2,474.8 276.5,476.6 283.8,479.7 301.4,482.7 269.2,480.3 255.8,479.7 M373.8,453.5 379.9,457.2 387.2,457.2 388.4,459.6 379.9,460.8 372.6,459.6Z M490,456 494.9,454.1 498.5,456.6 505.8,453.5 516.8,452.9 526.5,453.5 537.4,454.5 547.2,452.9 554.5,451.7 557.5,449.9 565.4,452.9 570.3,449.3 577.6,447.4 586.1,447.4 591,443.8 597,443.2 601.9,446.8 611.6,447.4 620.8,447.7 620.1,451.1 618.3,454.1 623.8,452.3 629.9,451.7 636,448.7 645.7,446.2 657.9,445.2 670,445.2 682.2,443.2 690.7,445.6 700.4,443.2 708.9,445.6 718.7,445.2 724.8,444.4 727.2,446.2 730.8,443.8 739.3,443.8 749.1,445 756.4,449.3 764.9,450.5 770,450.1 M756.2,448.2 772.2,452.2 786.2,456.2 774.2,460.2 764.2,464.2 756.2,468.2 746.2,470.2 738.2,473.2 730.2,477.2 732.2,480.2 746.2,479.2 750.2,476.2 M127.5,210.5 130.5,212.8 133.5,214.6" fill="none" stroke="#000" stroke-width="2.96" stroke-linejoin="round" stroke-linecap="round"/>
<path d="M144.1,131.1 146.9,130.5 M136.4,131.7 139.9,132.5 M520.8,70 525.8,71 M460,194.7 464,195.5 M466.5,192.7 468.5,193.5 M92,387.5 92.6,388.3 M400,61.1 418,60.6 435,61" fill="none" stroke="#000" stroke-width="3.42" stroke-linejoin="round" stroke-linecap="round"/>
<path d="M157.9,129.1 165.9,126.7 M812.9,149.9 816.9,146.4 M882.4,325.5 886.4,329.5" fill="none" stroke="#000" stroke-width="3.65" stroke-linejoin="round" stroke-linecap="round"/>
<path d="M286.3,114.4 293.3,112.4 M298,119.4 301.8,117.9 M360.4,69 368.8,67.3 377.3,66.2 385.8,65.6 M233.5,180 234.5,186 235.5,193 237.5,199 240.5,204 244.5,209 M564.4,65.5 572.9,65.5 M577.4,66 583.9,65.2 593.9,65.2 M725.7,262.7 726.3,263.3 M729.7,267.7 730.3,268.3 M733.7,273.7 734.3,274.3 M914.3,317 918.3,315.4" fill="none" stroke="#000" stroke-width="3.88" stroke-linejoin="round" stroke-linecap="round"/>
<path d="M280.3,109.1 296.8,104.8 M319,158.1 327,154.1 M329.5,152.9 336,151.9 M353.6,66.2 353.6,83.1 M319.1,198.7 320.7,199.1 M567.9,279.9 569.9,287.9 571.9,293.9 M579.9,296.4 580.9,302 M573.9,91 583.9,88.5 M655.9,149.4 654.9,145.9 659.8,145.1 665.8,144.9 M779.4,202.5 780.9,205 779.9,210 778.1,209 777.9,204Z M790.9,241.5 793,247.1 M784.6,272.4 790.9,272.4 M801.4,279.4 808.5,279.1 M865.3,285.1 869.6,287.9 M871.7,289.6 875.2,292.1 M877.3,293.8 881.5,298.4 M120.4,323.2 121,324" fill="none" stroke="#000" stroke-width="4.10" stroke-linejoin="round" stroke-linecap="round"/>
<path d="M423.7,414.9 427.7,416.3 M776.2,247.1 781.8,240.8 M801.4,264.7 803.5,267.5 802.8,272.4 M846.4,285.1 850.6,285.8 855.5,285.1 859.7,282.9 861.1,280.1 858.3,278" fill="none" stroke="#000" stroke-width="4.33" stroke-linejoin="round" stroke-linecap="round"/>
<path d="M182.4,109.9 185.9,111.4 M237.4,118.9 239.8,123.9 M461.9,62 479.8,65 M454.9,86.5 463.9,81 M484.6,85.2 485.2,85.8 M486,105.5 486.6,106 M496,110.1 496.6,110.7 M436.1,166.7 436.7,167.3 M442.1,168.5 442.9,169.1 M305,144.7 311,141.4 317,139.1 322,142.7 M322,142.9 323.5,149.9 323.2,154.9 318.8,158.4 M343.4,101.2 350.2,102.9 M318.1,204.2 319.9,205 M354.2,226.3 354.8,226.9 M355.2,230.3 355.8,230.9 M412.1,430.1 412.9,431.1 M442.2,168.8 442.8,169.2 M570.9,291 572.4,294 M554.9,108.5 559.9,109 M731,76 740,76.7 M794.6,194.1 795.2,194.7 M793.6,197.1 794.2,197.7 M785.3,275.9 789.5,279.4 790.2,284.4 M794.9,275 795.3,275.4" fill="none" stroke="#000" stroke-width="4.56" stroke-linejoin="round" stroke-linecap="round"/>
<path d="M315.9,221.6 320.9,222 M342.1,221.1 345.4,221.5 M579.4,296.5 580.9,303 581.9,308.5 M627.5,327.2 628.3,327.8 M633,324.7 633.8,325.3 M550.9,175.4 557.9,175.9 M783.5,297.1 784.5,297.5 M788.1,234.5 793,240.1 794.4,244.3 M789.5,249.9 793,252.8 M781.8,268.2 788.1,266.8 795.1,265.7 M798.1,279.6 798.6,280.1 M809.6,290.1 810.1,290.5 M816.7,287 817.1,287.4 M847.2,275.4 847.6,275.8" fill="none" stroke="#000" stroke-width="4.79" stroke-linejoin="round" stroke-linecap="round"/>
<path d="M375.4,408.9 381.4,408.5 M783.2,268.2 783.2,275.2 781.8,284.4" fill="none" stroke="#000" stroke-width="5.02" stroke-linejoin="round" stroke-linecap="round"/>
<path d="M232.4,126.9 234.4,130.9 M300.6,127.9 301.4,134.9 M505,163.6 505.8,164.2 M517.8,157.4 518.8,164.9 M317,140.4 313,149.9 309.2,158.4 M357,99.5 365.4,98.9 M301.6,86.8 307.3,86.8 M340.6,74.6 351.9,72.9 363.2,71.8 371.6,74.6 374.5,79.7 M343.4,79.7 354.7,78.6 366,79.7 372.8,80.8 M329.9,239.9 329.9,245.9 M383.3,272.9 384.8,273.9 M324.9,220.2 329.9,219 335.9,219.8 338.9,221.2 M282.1,271.7 282.9,272.5 M625.5,236.6 626.1,237.2 M633.9,65.5 655.9,71 M623.9,93 629.9,92 M528,67 537,69 M716,74.7 719.8,76 M563.4,104.5 566.9,108 M515.5,115.9 520,123.9 M792.9,178.9 797.4,176.9 795.9,182.4Z M827.4,122.7 829.4,123.7 M847.3,128.7 848.1,129.7 M717.7,234.8 716.9,238.9 M788.9,294.9 795.9,293.4 800.9,291.9 M791.9,298.1 795.9,296.5 M886.4,362.9 888.3,369.9 M379.9,447.4 389.6,436.5 396.9,437.1 M755.8,468.4 758.2,469.3" fill="none" stroke="#000" stroke-width="5.13" stroke-linejoin="round" stroke-linecap="round"/>
<path d="M135.5,216.2 136.8,218" fill="none" stroke="#000" stroke-width="5.24" stroke-linejoin="round" stroke-linecap="round"/>
<path d="M407.9,85 410.4,89 M379,95.5 380.7,97.8 M373.3,101.7 375,104 M363.2,91 371.1,94.4 M346.2,75.8 368.8,77.5 M377.8,272.4 379.8,273.4 M303.4,211.2 309.9,209.2 315.9,211.2 321.9,214.5 327.9,217.2 M340.5,381.9 342,389.9 M357.9,379.9 360.4,384.9 M353.9,410.9 359.9,414.9 M641.9,402.1 644.1,402.7 M710.8,132.9 715.3,128.4 716.8,122.9 M517,156.9 519,164.9 M527,168.4 533,170.9 M504.8,163.7 505.4,164.3 M572.5,175.1 573.5,175.9 M550.5,174.4 552.9,175.9 M716,75 725,76 730,79.5 M795.9,140.9 799.9,146.9 803.9,155.9 M820.4,100 823.9,101 M827.9,104.5 830.9,105.2 M710,133.9 716,129.9 718,125.9 715.5,121.4 M804.9,363.9 807.9,361.9" fill="none" stroke="#000" stroke-width="5.70" stroke-linejoin="round" stroke-linecap="round"/>
<path d="M240.3,135.4 243.8,141.9 M531.4,233.4 533.4,235.9 M332.4,459.6 339.7,460.8 M371.4,454.7 377.4,457.2" fill="none" stroke="#000" stroke-width="6.27" stroke-linejoin="round" stroke-linecap="round"/>
<path d="M276.8,97.2 288.8,95.2 M253.4,469.9 272.8,470.5" fill="none" stroke="#000" stroke-width="6.84" stroke-linejoin="round" stroke-linecap="round"/>
<path d="M783.9,125.9 789.9,133.9 795.9,140.9" fill="none" stroke="#000" stroke-width="7.98" stroke-linejoin="round" stroke-linecap="round"/>
</g>
<path d="M271.6,487.4 L263.7,485.2 L254.6,482.2 L244.4,478.5 L233.6,474.3 L222.3,469.5 L211.4,464.3 L201.4,459 L192,453.4 L183.1,447.8 L174.5,441.9 L166,435.9 L157.8,429.8 L149.9,423.6 L142.3,417.3 L135,410.9 L128.2,404.4 L122,397.9 L116.1,391.3 L110.5,384.7 L105.3,378 L100.6,371.3 L96.3,364.6 L92.4,357.9 L88.9,351.2 L85.9,344.4 L83.3,337.7 L81.2,331 L79.4,324.3 L77.7,317.5 L76.1,310.8 L74.8,304.1 L73.8,297.4 L73,290.6 L72.4,283.9 L72,277.2 L71.8,270.4 L72,263.7 L72.4,257 L73,250.3 L73.8,243.5 L74.8,236.8 L76.1,230.1 L77.7,223.4 L79.4,216.6 L81.2,209.9 L83.3,203.2 L85.9,196.5 L88.9,189.7 L92.4,183 L96.3,176.3 L100.6,169.6 L105.3,162.9 L110.5,156.2 L116.1,149.6 L122,143 L128.2,136.5 L135,130 L142.3,123.6 L149.9,117.3 L157.8,111.1 L166,105 L174.5,99 L183.1,93.1 L192,87.5 L201.4,81.9 L211.4,76.6 L222.3,71.4 L233.6,66.6 L244.4,62.4 L254.6,58.7 L263.7,55.7 L271.6,53.5 L726.4,53.5 L734.3,55.7 L743.4,58.7 L753.6,62.4 L764.4,66.6 L775.7,71.4 L786.6,76.6 L796.6,81.9 L806,87.5 L814.9,93.1 L823.5,99 L832,105 L840.2,111.1 L848.1,117.3 L855.7,123.6 L863,130 L869.8,136.5 L876,143 L881.9,149.6 L887.5,156.2 L892.7,162.9 L897.4,169.6 L901.7,176.3 L905.6,183 L909.1,189.7 L912.1,196.5 L914.7,203.2 L916.8,209.9 L918.6,216.6 L920.3,223.4 L921.9,230.1 L923.2,236.8 L924.2,243.5 L925,250.3 L925.6,257 L926,263.7 L926.2,270.4 L926,277.2 L925.6,283.9 L925,290.6 L924.2,297.4 L923.2,304.1 L921.9,310.8 L920.3,317.5 L918.6,324.3 L916.8,331 L914.7,337.7 L912.1,344.4 L909.1,351.2 L905.6,357.9 L901.7,364.6 L897.4,371.3 L892.7,378 L887.5,384.7 L881.9,391.3 L876,397.9 L869.8,404.4 L863,410.9 L855.7,417.3 L848.1,423.6 L840.2,429.8 L832,435.9 L823.5,441.9 L814.9,447.8 L806,453.4 L796.6,459 L786.6,464.3 L775.7,469.5 L764.4,474.3 L753.6,478.5 L743.4,482.2 L734.3,485.2 L726.4,487.4Z" fill="none" stroke="#242424" stroke-width="4.1" stroke-linejoin="round"/>
<path d="M271.6,487.4 L263.7,485.2 L254.6,482.2 L244.4,478.5 L233.6,474.3 L222.3,469.5 L211.4,464.3 L201.4,459 L192,453.4 L183.1,447.8 L174.5,441.9 L166,435.9 L157.8,429.8 L149.9,423.6 L142.3,417.3 L135,410.9 L128.2,404.4 L122,397.9 L116.1,391.3 L110.5,384.7 L105.3,378 L100.6,371.3 L96.3,364.6 L92.4,357.9 L88.9,351.2 L85.9,344.4 L83.3,337.7 L81.2,331 L79.4,324.3 L77.7,317.5 L76.1,310.8 L74.8,304.1 L73.8,297.4 L73,290.6 L72.4,283.9 L72,277.2 L71.8,270.4 L72,263.7 L72.4,257 L73,250.3 L73.8,243.5 L74.8,236.8 L76.1,230.1 L77.7,223.4 L79.4,216.6 L81.2,209.9 L83.3,203.2 L85.9,196.5 L88.9,189.7 L92.4,183 L96.3,176.3 L100.6,169.6 L105.3,162.9 L110.5,156.2 L116.1,149.6 L122,143 L128.2,136.5 L135,130 L142.3,123.6 L149.9,117.3 L157.8,111.1 L166,105 L174.5,99 L183.1,93.1 L192,87.5 L201.4,81.9 L211.4,76.6 L222.3,71.4 L233.6,66.6 L244.4,62.4 L254.6,58.7 L263.7,55.7 L271.6,53.5 L726.4,53.5 L734.3,55.7 L743.4,58.7 L753.6,62.4 L764.4,66.6 L775.7,71.4 L786.6,76.6 L796.6,81.9 L806,87.5 L814.9,93.1 L823.5,99 L832,105 L840.2,111.1 L848.1,117.3 L855.7,123.6 L863,130 L869.8,136.5 L876,143 L881.9,149.6 L887.5,156.2 L892.7,162.9 L897.4,169.6 L901.7,176.3 L905.6,183 L909.1,189.7 L912.1,196.5 L914.7,203.2 L916.8,209.9 L918.6,216.6 L920.3,223.4 L921.9,230.1 L923.2,236.8 L924.2,243.5 L925,250.3 L925.6,257 L926,263.7 L926.2,270.4 L926,277.2 L925.6,283.9 L925,290.6 L924.2,297.4 L923.2,304.1 L921.9,310.8 L920.3,317.5 L918.6,324.3 L916.8,331 L914.7,337.7 L912.1,344.4 L909.1,351.2 L905.6,357.9 L901.7,364.6 L897.4,371.3 L892.7,378 L887.5,384.7 L881.9,391.3 L876,397.9 L869.8,404.4 L863,410.9 L855.7,417.3 L848.1,423.6 L840.2,429.8 L832,435.9 L823.5,441.9 L814.9,447.8 L806,453.4 L796.6,459 L786.6,464.3 L775.7,469.5 L764.4,474.3 L753.6,478.5 L743.4,482.2 L734.3,485.2 L726.4,487.4Z" fill="none" stroke="#c4c4c4" stroke-width="1.1" stroke-dasharray="1.8 3.9"/>
<text class="t" x="164.9" y="44.5" textLength="667" lengthAdjust="spacing">JJA 2080-2099, Diff, MPI-ESM-LR, rcp45, median - MPI-ESM-LR</text>
<g class="l">
<text x="210.8" y="62.2">90<tspan dy="-11" dx="0.4" font-size="14">°</tspan><tspan x="245.9" y="62.2">N</tspan></text>
<text x="55.6" y="158.6">45<tspan dy="-11" dx="0.4" font-size="14">°</tspan><tspan x="90.7" y="158.6">N</tspan></text>
<text x="41.6" y="278.2">0<tspan dy="-11" dx="0.4" font-size="14">°</tspan></text>
<text x="57" y="400">45<tspan dy="-11" dx="0.4" font-size="14">°</tspan><tspan x="92.1" y="400">S</tspan></text>
<text x="212.9" y="496.2">90<tspan dy="-11" dx="0.4" font-size="14">°</tspan><tspan x="248" y="496.2">S</tspan></text>
<text x="242.2" y="534">180<tspan dy="-11" dx="0.4" font-size="14">°</tspan><tspan x="288.5" y="534">W</tspan></text>
<text x="298.7" y="534">135<tspan dy="-11" dx="0.4" font-size="14">°</tspan><tspan x="345" y="534">W</tspan></text>
<text x="364.3" y="534">90<tspan dy="-11" dx="0.4" font-size="14">°</tspan><tspan x="399.4" y="534">W</tspan></text>
<text x="421.1" y="534">45<tspan dy="-11" dx="0.4" font-size="14">°</tspan><tspan x="456.2" y="534">W</tspan></text>
<text x="498.1" y="534">0<tspan dy="-11" dx="0.4" font-size="14">°</tspan></text>
<text x="537.6" y="534">45<tspan dy="-11" dx="0.4" font-size="14">°</tspan><tspan x="572.7" y="534">E</tspan></text>
<text x="593.9" y="534">90<tspan dy="-11" dx="0.4" font-size="14">°</tspan><tspan x="629" y="534">E</tspan></text>
<text x="643.5" y="534">135<tspan dy="-11" dx="0.4" font-size="14">°</tspan><tspan x="689.8" y="534">E</tspan></text>
<text x="700.1" y="534">180<tspan dy="-11" dx="0.4" font-size="14">°</tspan><tspan x="746.4" y="534">E</tspan></text>
<rect x="948.5" y="51.8" width="40.2" height="436.4" fill="url(#jet)" stroke="#262626" stroke-width="1"/>
<text x="996.3" y="58.7" font-size="18">100</text>
<path d="M984.2,95.4 H988.7" stroke="#262626" stroke-width="1"/>
<text x="996.3" y="102.3" font-size="18">80</text>
<path d="M984.2,139.1 H988.7" stroke="#262626" stroke-width="1"/>
<text x="996.3" y="146" font-size="18">60</text>
<path d="M984.2,182.7 H988.7" stroke="#262626" stroke-width="1"/>
<text x="996.3" y="189.6" font-size="18">40</text>
<path d="M984.2,226.4 H988.7" stroke="#262626" stroke-width="1"/>
<text x="996.3" y="233.3" font-size="18">20</text>
<path d="M984.2,270 H988.7" stroke="#262626" stroke-width="1"/>
<text x="996.3" y="276.9" font-size="18">0</text>
<path d="M984.2,313.6 H988.7" stroke="#262626" stroke-width="1"/>
<text x="996.3" y="320.5" font-size="18">-20</text>
<path d="M984.2,357.3 H988.7" stroke="#262626" stroke-width="1"/>
<text x="996.3" y="364.2" font-size="18">-40</text>
<path d="M984.2,400.9 H988.7" stroke="#262626" stroke-width="1"/>
<text x="996.3" y="407.8" font-size="18">-60</text>
<path d="M984.2,444.6 H988.7" stroke="#262626" stroke-width="1"/>
<text x="996.3" y="451.5" font-size="18">-80</text>
<text x="996.3" y="495.1" font-size="18">-100</text>
</g>
</g>
<g transform="translate(0,867)">
<g clip-path="url(#rob)">
<rect x="60" y="40" width="880" height="460" fill="#80ff80" filter="url(#tex)"/>
<ellipse cx="200" cy="233.5" rx="66" ry="31.5" fill="url(#p150_1)" transform="rotate(4 200 233.5)"/>
<ellipse cx="152" cy="229" rx="57" ry="15" fill="url(#p150_1)" transform="rotate(-3 152 229)"/>
<ellipse cx="250" cy="248" rx="72" ry="15" fill="url(#p150_1)" transform="rotate(8 250 248)"/>
<ellipse cx="215" cy="226" rx="33" ry="13.5" fill="url(#p58_1)"/>
<ellipse cx="100" cy="220" rx="27" ry="12" fill="url(#p58_1)"/>
<ellipse cx="88" cy="256" rx="33" ry="16.5" fill="url(#p50_1)"/>
<ellipse cx="125" cy="262" rx="67.5" ry="13.5" fill="url(#p25_1)"/>
<ellipse cx="85" cy="289" rx="45" ry="16.5" fill="url(#p150_1)" transform="rotate(8 85 289)"/>
<ellipse cx="105" cy="286" rx="60" ry="18" fill="url(#p58_1)" transform="rotate(5 105 286)"/>
<ellipse cx="132" cy="176" rx="90" ry="18" fill="url(#p25_1)" transform="rotate(-38 132 176)"/>
<ellipse cx="150" cy="186" rx="90" ry="39" fill="url(#p20_1)" transform="rotate(-15 150 186)"/>
<ellipse cx="300" cy="255" rx="33" ry="10.5" fill="url(#p75_1)"/>
<ellipse cx="345" cy="255" rx="33" ry="12" fill="url(#p42_1)"/>
<ellipse cx="460" cy="254.5" rx="135" ry="14.2" fill="url(#p58_1)"/>
<ellipse cx="463" cy="255" rx="12" ry="7.5" fill="url(#p42_1)"/>
<ellipse cx="480" cy="255" rx="12" ry="7.5" fill="url(#p36_1)"/>
<ellipse cx="510" cy="256" rx="13.5" ry="9" fill="url(#p36_1)"/>
<ellipse cx="528" cy="256" rx="13.5" ry="9" fill="url(#p36_1)"/>
<ellipse cx="565" cy="250" rx="67.5" ry="15" fill="url(#p25_1)"/>
<ellipse cx="586" cy="247" rx="9" ry="7.5" fill="url(#p42_1)"/>
<ellipse cx="520" cy="254.5" rx="36" ry="12" fill="url(#p58_1)"/>
<ellipse cx="309" cy="186" rx="18" ry="12" fill="url(#p30_1)"/>
<ellipse cx="356" cy="188" rx="39" ry="9" fill="url(#p25_1)"/>
<ellipse cx="320" cy="120" rx="142.5" ry="48" fill="url(#p16_1)"/>
<ellipse cx="410" cy="105" rx="18" ry="10.5" fill="url(#p30_1)"/>
<ellipse cx="170" cy="100" rx="75" ry="18" fill="url(#p16_1)"/>
<ellipse cx="677" cy="253" rx="57" ry="20.2" fill="url(#p150_1)"/>
<ellipse cx="719" cy="229" rx="17.4" ry="32.5" fill="url(#p150_1)" transform="rotate(-10 719 229)"/>
<ellipse cx="716" cy="201" rx="12" ry="12" fill="url(#p75_1)"/>
<ellipse cx="735" cy="214" rx="45" ry="15" fill="url(#p66_1)" transform="rotate(25 735 214)"/>
<ellipse cx="760" cy="232" rx="51" ry="45" fill="url(#p75_1)"/>
<ellipse cx="790" cy="213" rx="60" ry="30" fill="url(#p58_1)" transform="rotate(-10 790 213)"/>
<ellipse cx="753" cy="253" rx="7.5" ry="7.5" fill="url(#p100_1)"/>
<ellipse cx="835.5" cy="242.5" rx="102" ry="43.5" fill="url(#p150_1)"/>
<ellipse cx="889" cy="277.5" rx="73.5" ry="33" fill="url(#p150_1)" transform="rotate(10 889 277.5)"/>
<ellipse cx="855" cy="212" rx="102" ry="60" fill="url(#p42_1)"/>
<ellipse cx="828" cy="204" rx="21" ry="10.5" fill="url(#p75_1)"/>
<ellipse cx="880" cy="176" rx="45" ry="13.5" fill="url(#p50_1)"/>
<ellipse cx="850" cy="190" rx="135" ry="82.5" fill="url(#p25_1)"/>
<ellipse cx="680" cy="106" rx="195" ry="36" fill="url(#p16_1)"/>
<ellipse cx="660" cy="408" rx="285" ry="51" fill="url(#p25_1)"/>
<ellipse cx="620" cy="404" rx="72" ry="19.5" fill="url(#p16_1)"/>
<ellipse cx="601" cy="440" rx="16.5" ry="4.5" fill="url(#p36_1)"/>
<ellipse cx="824.7" cy="384.8" rx="19.5" ry="9" fill="url(#p100_1)" transform="rotate(-25 824.7 384.8)"/>
<ellipse cx="811" cy="409" rx="57" ry="24" fill="url(#p36_1)"/>
<ellipse cx="849" cy="393" rx="6" ry="10.5" fill="url(#p58_1)"/>
<ellipse cx="872.5" cy="395.5" rx="7.5" ry="7.5" fill="url(#p42_1)"/>
<ellipse cx="600" cy="440" rx="21" ry="7.5" fill="url(#p30_1)"/>
<ellipse cx="150" cy="339" rx="57" ry="12" fill="url(#p30_1)" transform="rotate(25 150 339)"/>
<ellipse cx="215" cy="378" rx="90" ry="21" fill="url(#p25_1)" transform="rotate(15 215 378)"/>
<ellipse cx="290" cy="395" rx="90" ry="27" fill="url(#p25_1)" transform="rotate(15 290 395)"/>
<ellipse cx="344.5" cy="404" rx="10.5" ry="15" fill="url(#p30_1)" transform="rotate(-25 344.5 404)"/>
<ellipse cx="180" cy="420" rx="90" ry="27" fill="url(#p16_1)" transform="rotate(10 180 420)"/>
<ellipse cx="433" cy="390" rx="60" ry="18" fill="url(#p25_1)"/>
<ellipse cx="414" cy="388.4" rx="9" ry="6" fill="url(#p30_1)"/>
<ellipse cx="420" cy="415" rx="90" ry="27" fill="url(#p20_1)"/>
<ellipse cx="244" cy="219" rx="27" ry="17.2" fill="url(#n58_1)"/>
<ellipse cx="248" cy="223.5" rx="13.5" ry="5.2" fill="url(#n58_1)"/>
<ellipse cx="248" cy="190" rx="13.5" ry="18" fill="url(#n42_1)"/>
<ellipse cx="272" cy="172" rx="9" ry="9" fill="url(#n30_1)"/>
<ellipse cx="121" cy="243.5" rx="36" ry="6.8" fill="url(#n36_1)"/>
<ellipse cx="112" cy="242.7" rx="15" ry="3.8" fill="url(#n42_1)"/>
<ellipse cx="162" cy="295" rx="25.5" ry="7.5" fill="url(#n36_1)"/>
<ellipse cx="163" cy="295" rx="39" ry="12" fill="url(#n20_1)"/>
<ellipse cx="250" cy="315" rx="90" ry="39" fill="url(#n12_1)" transform="rotate(25 250 315)"/>
<ellipse cx="318" cy="224" rx="72" ry="34.5" fill="url(#n58_1)" transform="rotate(5 318 224)"/>
<ellipse cx="392" cy="230" rx="105" ry="25.5" fill="url(#n58_1)" transform="rotate(7 392 230)"/>
<ellipse cx="412" cy="237" rx="69" ry="14.2" fill="url(#n75_1)" transform="rotate(4 412 237)"/>
<ellipse cx="410" cy="238" rx="24" ry="6.8" fill="url(#n100_1)" transform="rotate(3 410 238)"/>
<ellipse cx="360" cy="214" rx="90" ry="21" fill="url(#n25_1)" transform="rotate(12 360 214)"/>
<ellipse cx="311.6" cy="237.4" rx="10.5" ry="9" fill="url(#n75_1)"/>
<ellipse cx="286" cy="218" rx="15" ry="18" fill="url(#n50_1)"/>
<ellipse cx="473" cy="234" rx="16.5" ry="10.5" fill="url(#n58_1)" transform="rotate(-25 473 234)"/>
<ellipse cx="497" cy="277" rx="40.5" ry="16.5" fill="url(#n75_1)" transform="rotate(10 497 277)"/>
<ellipse cx="337" cy="176" rx="7.5" ry="9" fill="url(#n36_1)"/>
<ellipse cx="364" cy="172" rx="22.5" ry="7.5" fill="url(#n36_1)" transform="rotate(-12 364 172)"/>
<ellipse cx="363.6" cy="257.7" rx="7.5" ry="6" fill="url(#n42_1)"/>
<ellipse cx="206" cy="316" rx="48" ry="15" fill="url(#n25_1)" transform="rotate(34 206 316)"/>
<ellipse cx="249" cy="338" rx="39" ry="13.5" fill="url(#n25_1)" transform="rotate(20 249 338)"/>
<ellipse cx="292" cy="352.5" rx="39" ry="12" fill="url(#n25_1)" transform="rotate(17 292 352.5)"/>
<ellipse cx="259.2" cy="344.7" rx="9" ry="6" fill="url(#n36_1)"/>
<ellipse cx="306.5" cy="351.8" rx="7.5" ry="6" fill="url(#n30_1)"/>
<ellipse cx="322.3" cy="361.9" rx="7.5" ry="7.5" fill="url(#n30_1)"/>
<ellipse cx="94" cy="348" rx="15" ry="25.5" fill="url(#n36_1)" transform="rotate(-15 94 348)"/>
<ellipse cx="336" cy="362" rx="7.5" ry="18" fill="url(#n58_1)"/>
<ellipse cx="332" cy="360" rx="18" ry="25.5" fill="url(#n30_1)"/>
<ellipse cx="348" cy="322" rx="15" ry="25.5" fill="url(#n30_1)"/>
<ellipse cx="454.5" cy="341.8" rx="67.5" ry="36" fill="url(#n25_1)"/>
<ellipse cx="490" cy="364.5" rx="6" ry="13.5" fill="url(#n36_1)"/>
<ellipse cx="519.5" cy="372.5" rx="10.5" ry="10.5" fill="url(#n42_1)"/>
<ellipse cx="540" cy="141" rx="69" ry="12.8" fill="url(#n42_1)"/>
<ellipse cx="580" cy="145" rx="172.5" ry="42" fill="url(#n20_1)"/>
<ellipse cx="602" cy="158" rx="10.5" ry="10.5" fill="url(#n30_1)"/>
<ellipse cx="658" cy="223" rx="22.5" ry="16.5" fill="url(#n100_1)"/>
<ellipse cx="662" cy="224" rx="33" ry="22.5" fill="url(#n30_1)"/>
<ellipse cx="697" cy="226" rx="10.5" ry="13.5" fill="url(#n50_1)"/>
<ellipse cx="700.8" cy="197.6" rx="7.5" ry="5.2" fill="url(#n75_1)"/>
<ellipse cx="686.7" cy="194.5" rx="16.5" ry="6" fill="url(#n42_1)"/>
<ellipse cx="690" cy="195" rx="42" ry="21" fill="url(#n25_1)"/>
<ellipse cx="735" cy="176" rx="45" ry="27" fill="url(#n25_1)"/>
<ellipse cx="735" cy="182" rx="7.5" ry="7.5" fill="url(#n42_1)"/>
<ellipse cx="711" cy="291.5" rx="84" ry="27" fill="url(#n150_1)"/>
<ellipse cx="680" cy="291" rx="84" ry="25.5" fill="url(#n42_1)"/>
<ellipse cx="758" cy="283" rx="18" ry="13.5" fill="url(#n75_1)"/>
<ellipse cx="783" cy="289" rx="25.5" ry="11.2" fill="url(#n50_1)"/>
<ellipse cx="852" cy="293.5" rx="9" ry="10.5" fill="url(#n100_1)" transform="rotate(20 852 293.5)"/>
<ellipse cx="891" cy="305" rx="45" ry="9" fill="url(#n58_1)" transform="rotate(3 891 305)"/>
<ellipse cx="549.5" cy="372.5" rx="25.5" ry="9.8" fill="url(#n50_1)"/>
<ellipse cx="540" cy="370" rx="51" ry="16.5" fill="url(#n25_1)"/>
<ellipse cx="685" cy="358" rx="138" ry="39" fill="url(#n30_1)"/>
<ellipse cx="654" cy="356" rx="18" ry="10.5" fill="url(#n36_1)"/>
<ellipse cx="720" cy="372" rx="21" ry="9" fill="url(#n30_1)"/>
<ellipse cx="740" cy="352" rx="30" ry="15" fill="url(#n30_1)"/>
<ellipse cx="761.6" cy="364.7" rx="13.5" ry="12" fill="url(#n42_1)"/>
<ellipse cx="872" cy="357.5" rx="48" ry="16.5" fill="url(#n42_1)" transform="rotate(-15 872 357.5)"/>
<ellipse cx="854" cy="362" rx="9" ry="6" fill="url(#n42_1)"/>
<ellipse cx="880" cy="352" rx="75" ry="39" fill="url(#n25_1)" transform="rotate(-15 880 352)"/>
<ellipse cx="790" cy="367" rx="33" ry="12" fill="url(#n25_1)"/>
<ellipse cx="134" cy="388" rx="15" ry="9" fill="url(#n20_1)"/>
<ellipse cx="200" cy="233.5" rx="66" ry="31.5" fill="url(#p150_2)" transform="rotate(4 200 233.5)"/>
<ellipse cx="152" cy="229" rx="57" ry="15" fill="url(#p150_2)" transform="rotate(-3 152 229)"/>
<ellipse cx="250" cy="248" rx="72" ry="15" fill="url(#p150_2)" transform="rotate(8 250 248)"/>
<ellipse cx="215" cy="226" rx="33" ry="13.5" fill="url(#p58_2)"/>
<ellipse cx="100" cy="220" rx="27" ry="12" fill="url(#p58_2)"/>
<ellipse cx="88" cy="256" rx="33" ry="16.5" fill="url(#p50_2)"/>
<ellipse cx="85" cy="289" rx="45" ry="16.5" fill="url(#p150_2)" transform="rotate(8 85 289)"/>
<ellipse cx="105" cy="286" rx="60" ry="18" fill="url(#p58_2)" transform="rotate(5 105 286)"/>
<ellipse cx="300" cy="255" rx="33" ry="10.5" fill="url(#p75_2)"/>
<ellipse cx="345" cy="255" rx="33" ry="12" fill="url(#p42_2)"/>
<ellipse cx="460" cy="254.5" rx="135" ry="14.2" fill="url(#p58_2)"/>
<ellipse cx="463" cy="255" rx="12" ry="7.5" fill="url(#p42_2)"/>
<ellipse cx="480" cy="255" rx="12" ry="7.5" fill="url(#p36_2)"/>
<ellipse cx="510" cy="256" rx="13.5" ry="9" fill="url(#p36_2)"/>
<ellipse cx="528" cy="256" rx="13.5" ry="9" fill="url(#p36_2)"/>
<ellipse cx="586" cy="247" rx="9" ry="7.5" fill="url(#p42_2)"/>
<ellipse cx="520" cy="254.5" rx="36" ry="12" fill="url(#p58_2)"/>
<ellipse cx="309" cy="186" rx="18" ry="12" fill="url(#p30_2)"/>
<ellipse cx="410" cy="105" rx="18" ry="10.5" fill="url(#p30_2)"/>
<ellipse cx="677" cy="253" rx="57" ry="20.2" fill="url(#p150_2)"/>
<ellipse cx="719" cy="229" rx="17.4" ry="32.5" fill="url(#p150_2)" transform="rotate(-10 719 229)"/>
<ellipse cx="716" cy="201" rx="12" ry="12" fill="url(#p75_2)"/>
<ellipse cx="735" cy="214" rx="45" ry="15" fill="url(#p66_2)" transform="rotate(25 735 214)"/>
<ellipse cx="760" cy="232" rx="51" ry="45" fill="url(#p75_2)"/>
<ellipse cx="790" cy="213" rx="60" ry="30" fill="url(#p58_2)" transform="rotate(-10 790 213)"/>
<ellipse cx="753" cy="253" rx="7.5" ry="7.5" fill="url(#p100_2)"/>
<ellipse cx="835.5" cy="242.5" rx="102" ry="43.5" fill="url(#p150_2)"/>
<ellipse cx="889" cy="277.5" rx="73.5" ry="33" fill="url(#p150_2)" transform="rotate(10 889 277.5)"/>
<ellipse cx="855" cy="212" rx="102" ry="60" fill="url(#p42_2)"/>
<ellipse cx="828" cy="204" rx="21" ry="10.5" fill="url(#p75_2)"/>
<ellipse cx="880" cy="176" rx="45" ry="13.5" fill="url(#p50_2)"/>
<ellipse cx="601" cy="440" rx="16.5" ry="4.5" fill="url(#p36_2)"/>
<ellipse cx="824.7" cy="384.8" rx="19.5" ry="9" fill="url(#p100_2)" transform="rotate(-25 824.7 384.8)"/>
<ellipse cx="811" cy="409" rx="57" ry="24" fill="url(#p36_2)"/>
<ellipse cx="849" cy="393" rx="6" ry="10.5" fill="url(#p58_2)"/>
<ellipse cx="872.5" cy="395.5" rx="7.5" ry="7.5" fill="url(#p42_2)"/>
<ellipse cx="600" cy="440" rx="21" ry="7.5" fill="url(#p30_2)"/>
<ellipse cx="150" cy="339" rx="57" ry="12" fill="url(#p30_2)" transform="rotate(25 150 339)"/>
<ellipse cx="344.5" cy="404" rx="10.5" ry="15" fill="url(#p30_2)" transform="rotate(-25 344.5 404)"/>
<ellipse cx="414" cy="388.4" rx="9" ry="6" fill="url(#p30_2)"/>
<ellipse cx="244" cy="219" rx="27" ry="17.2" fill="url(#n58_2)"/>
<ellipse cx="248" cy="223.5" rx="13.5" ry="5.2" fill="url(#n58_2)"/>
<ellipse cx="248" cy="190" rx="13.5" ry="18" fill="url(#n42_2)"/>
<ellipse cx="272" cy="172" rx="9" ry="9" fill="url(#n30_2)"/>
<ellipse cx="121" cy="243.5" rx="36" ry="6.8" fill="url(#n36_2)"/>
<ellipse cx="112" cy="242.7" rx="15" ry="3.8" fill="url(#n42_2)"/>
<ellipse cx="162" cy="295" rx="25.5" ry="7.5" fill="url(#n36_2)"/>
<ellipse cx="318" cy="224" rx="72" ry="34.5" fill="url(#n58_2)" transform="rotate(5 318 224)"/>
<ellipse cx="392" cy="230" rx="105" ry="25.5" fill="url(#n58_2)" transform="rotate(7 392 230)"/>
<ellipse cx="412" cy="237" rx="69" ry="14.2" fill="url(#n75_2)" transform="rotate(4 412 237)"/>
<ellipse cx="410" cy="238" rx="24" ry="6.8" fill="url(#n100_2)" transform="rotate(3 410 238)"/>
<ellipse cx="311.6" cy="237.4" rx="10.5" ry="9" fill="url(#n75_2)"/>
<ellipse cx="286" cy="218" rx="15" ry="18" fill="url(#n50_2)"/>
<ellipse cx="473" cy="234" rx="16.5" ry="10.5" fill="url(#n58_2)" transform="rotate(-25 473 234)"/>
<ellipse cx="497" cy="277" rx="40.5" ry="16.5" fill="url(#n75_2)" transform="rotate(10 497 277)"/>
<ellipse cx="337" cy="176" rx="7.5" ry="9" fill="url(#n36_2)"/>
<ellipse cx="364" cy="172" rx="22.5" ry="7.5" fill="url(#n36_2)" transform="rotate(-12 364 172)"/>
<ellipse cx="363.6" cy="257.7" rx="7.5" ry="6" fill="url(#n42_2)"/>
<ellipse cx="259.2" cy="344.7" rx="9" ry="6" fill="url(#n36_2)"/>
<ellipse cx="306.5" cy="351.8" rx="7.5" ry="6" fill="url(#n30_2)"/>
<ellipse cx="322.3" cy="361.9" rx="7.5" ry="7.5" fill="url(#n30_2)"/>
<ellipse cx="94" cy="348" rx="15" ry="25.5" fill="url(#n36_2)" transform="rotate(-15 94 348)"/>
<ellipse cx="336" cy="362" rx="7.5" ry="18" fill="url(#n58_2)"/>
<ellipse cx="332" cy="360" rx="18" ry="25.5" fill="url(#n30_2)"/>
<ellipse cx="348" cy="322" rx="15" ry="25.5" fill="url(#n30_2)"/>
<ellipse cx="490" cy="364.5" rx="6" ry="13.5" fill="url(#n36_2)"/>
<ellipse cx="519.5" cy="372.5" rx="10.5" ry="10.5" fill="url(#n42_2)"/>
<ellipse cx="540" cy="141" rx="69" ry="12.8" fill="url(#n42_2)"/>
<ellipse cx="602" cy="158" rx="10.5" ry="10.5" fill="url(#n30_2)"/>
<ellipse cx="658" cy="223" rx="22.5" ry="16.5" fill="url(#n100_2)"/>
<ellipse cx="662" cy="224" rx="33" ry="22.5" fill="url(#n30_2)"/>
<ellipse cx="697" cy="226" rx="10.5" ry="13.5" fill="url(#n50_2)"/>
<ellipse cx="700.8" cy="197.6" rx="7.5" ry="5.2" fill="url(#n75_2)"/>
<ellipse cx="686.7" cy="194.5" rx="16.5" ry="6" fill="url(#n42_2)"/>
<ellipse cx="735" cy="182" rx="7.5" ry="7.5" fill="url(#n42_2)"/>
<ellipse cx="711" cy="291.5" rx="84" ry="27" fill="url(#n150_2)"/>
<ellipse cx="680" cy="291" rx="84" ry="25.5" fill="url(#n42_2)"/>
<ellipse cx="758" cy="283" rx="18" ry="13.5" fill="url(#n75_2)"/>
<ellipse cx="783" cy="289" rx="25.5" ry="11.2" fill="url(#n50_2)"/>
<ellipse cx="852" cy="293.5" rx="9" ry="10.5" fill="url(#n100_2)" transform="rotate(20 852 293.5)"/>
<ellipse cx="891" cy="305" rx="45" ry="9" fill="url(#n58_2)" transform="rotate(3 891 305)"/>
<ellipse cx="549.5" cy="372.5" rx="25.5" ry="9.8" fill="url(#n50_2)"/>
<ellipse cx="685" cy="358" rx="138" ry="39" fill="url(#n30_2)"/>
<ellipse cx="654" cy="356" rx="18" ry="10.5" fill="url(#n36_2)"/>
<ellipse cx="720" cy="372" rx="21" ry="9" fill="url(#n30_2)"/>
<ellipse cx="740" cy="352" rx="30" ry="15" fill="url(#n30_2)"/>
<ellipse cx="761.6" cy="364.7" rx="13.5" ry="12" fill="url(#n42_2)"/>
<ellipse cx="872" cy="357.5" rx="48" ry="16.5" fill="url(#n42_2)" transform="rotate(-15 872 357.5)"/>
<ellipse cx="854" cy="362" rx="9" ry="6" fill="url(#n42_2)"/>
<ellipse cx="200" cy="233.5" rx="66" ry="31.5" fill="url(#p150_3)" transform="rotate(4 200 233.5)"/>
<ellipse cx="152" cy="229" rx="57" ry="15" fill="url(#p150_3)" transform="rotate(-3 152 229)"/>
<ellipse cx="250" cy="248" rx="72" ry="15" fill="url(#p150_3)" transform="rotate(8 250 248)"/>
<ellipse cx="85" cy="289" rx="45" ry="16.5" fill="url(#p150_3)" transform="rotate(8 85 289)"/>
<ellipse cx="677" cy="253" rx="57" ry="20.2" fill="url(#p150_3)"/>
<ellipse cx="719" cy="229" rx="17.4" ry="32.5" fill="url(#p150_3)" transform="rotate(-10 719 229)"/>
<ellipse cx="753" cy="253" rx="7.5" ry="7.5" fill="url(#p100_3)"/>
<ellipse cx="835.5" cy="242.5" rx="102" ry="43.5" fill="url(#p150_3)"/>
<ellipse cx="889" cy="277.5" rx="73.5" ry="33" fill="url(#p150_3)" transform="rotate(10 889 277.5)"/>
<ellipse cx="824.7" cy="384.8" rx="19.5" ry="9" fill="url(#p100_3)" transform="rotate(-25 824.7 384.8)"/>
<ellipse cx="410" cy="238" rx="24" ry="6.8" fill="url(#n100_3)" transform="rotate(3 410 238)"/>
<ellipse cx="658" cy="223" rx="22.5" ry="16.5" fill="url(#n100_3)"/>
<ellipse cx="711" cy="291.5" rx="84" ry="27" fill="url(#n150_3)"/>
<ellipse cx="852" cy="293.5" rx="9" ry="10.5" fill="url(#n100_3)" transform="rotate(20 852 293.5)"/>
<path d="M495.8,487.4 L495.6,482.2 L495.3,474.3 L495,464.3 L494.7,453.4 L494.5,441.9 L494.3,429.8 L494,417.3 L493.9,404.4 L493.7,391.3 L493.5,378 L493.4,364.6 L493.3,351.2 L493.2,337.7 L493.2,324.3 L493.1,310.8 L493.1,297.4 L493.1,283.9 L493.1,270.4 L493.1,257 L493.1,243.5 L493.1,230.1 L493.2,216.6 L493.2,203.2 L493.3,189.7 L493.4,176.3 L493.5,162.9 L493.7,149.6 L493.9,136.5 L494,123.6 L494.3,111.1 L494.5,99 L494.7,87.5 L495,76.6 L495.3,66.6 L495.6,58.7 L495.8,53.5 L499.5,53.5 L499.6,58.7 L499.6,66.6 L499.7,76.6 L499.7,87.5 L499.8,99 L499.8,111.1 L499.8,123.6 L499.9,136.5 L499.9,149.6 L499.9,162.9 L499.9,176.3 L500,189.7 L500,203.2 L500,216.6 L500,230.1 L500,243.5 L500,257 L500,270.4 L500,283.9 L500,297.4 L500,310.8 L500,324.3 L500,337.7 L500,351.2 L499.9,364.6 L499.9,378 L499.9,391.3 L499.9,404.4 L499.8,417.3 L499.8,429.8 L499.8,441.9 L499.7,453.4 L499.7,464.3 L499.6,474.3 L499.6,482.2 L499.5,487.4Z" fill="#f0f0f0"/>
<path d="M116.1,391.3 L881.9,391.3 M71.8,270.4 L926.2,270.4 M116.1,149.6 L881.9,149.6 M328.5,487.4 L315.7,482.2 L299.9,474.3 L283.3,464.3 L268.8,453.4 L255.6,441.9 L243.1,429.8 L231.5,417.3 L220.9,404.4 L211.9,391.3 L203.7,378 L197,364.6 L191.4,351.2 L187.3,337.7 L184.3,324.3 L181.8,310.8 L180.1,297.4 L179,283.9 L178.6,270.4 L179,257 L180.1,243.5 L181.8,230.1 L184.3,216.6 L187.3,203.2 L191.4,189.7 L197,176.3 L203.7,162.9 L211.9,149.6 L220.9,136.5 L231.5,123.6 L243.1,111.1 L255.6,99 L268.8,87.5 L283.3,76.6 L299.9,66.6 L315.7,58.7 L328.5,53.5 M385.3,487.4 L376.8,482.2 L366.3,474.3 L355.2,464.3 L345.5,453.4 L336.7,441.9 L328.4,429.8 L320.6,417.3 L313.6,404.4 L307.6,391.3 L302.1,378 L297.6,364.6 L293.9,351.2 L291.2,337.7 L289.2,324.3 L287.5,310.8 L286.4,297.4 L285.7,283.9 L285.4,270.4 L285.7,257 L286.4,243.5 L287.5,230.1 L289.2,216.6 L291.2,203.2 L293.9,189.7 L297.6,176.3 L302.1,162.9 L307.6,149.6 L313.6,136.5 L320.6,123.6 L328.4,111.1 L336.7,99 L345.5,87.5 L355.2,76.6 L366.3,66.6 L376.8,58.7 L385.3,53.5 M442.2,487.4 L437.9,482.2 L432.6,474.3 L427.1,464.3 L422.3,453.4 L417.9,441.9 L413.7,429.8 L409.8,417.3 L406.3,404.4 L403.3,391.3 L400.6,378 L398.3,364.6 L396.5,351.2 L395.1,337.7 L394.1,324.3 L393.3,310.8 L392.7,297.4 L392.3,283.9 L392.2,270.4 L392.3,257 L392.7,243.5 L393.3,230.1 L394.1,216.6 L395.1,203.2 L396.5,189.7 L398.3,176.3 L400.6,162.9 L403.3,149.6 L406.3,136.5 L409.8,123.6 L413.7,111.1 L417.9,99 L422.3,87.5 L427.1,76.6 L432.6,66.6 L437.9,58.7 L442.2,53.5 M499,487.4 L499,482.2 L499,474.3 L499,464.3 L499,453.4 L499,441.9 L499,429.8 L499,417.3 L499,404.4 L499,391.3 L499,378 L499,364.6 L499,351.2 L499,337.7 L499,324.3 L499,310.8 L499,297.4 L499,283.9 L499,270.4 L499,257 L499,243.5 L499,230.1 L499,216.6 L499,203.2 L499,189.7 L499,176.3 L499,162.9 L499,149.6 L499,136.5 L499,123.6 L499,111.1 L499,99 L499,87.5 L499,76.6 L499,66.6 L499,58.7 L499,53.5 M555.8,487.4 L560.1,482.2 L565.4,474.3 L570.9,464.3 L575.7,453.4 L580.1,441.9 L584.3,429.8 L588.2,417.3 L591.7,404.4 L594.7,391.3 L597.4,378 L599.7,364.6 L601.5,351.2 L602.9,337.7 L603.9,324.3 L604.7,310.8 L605.3,297.4 L605.7,283.9 L605.8,270.4 L605.7,257 L605.3,243.5 L604.7,230.1 L603.9,216.6 L602.9,203.2 L601.5,189.7 L599.7,176.3 L597.4,162.9 L594.7,149.6 L591.7,136.5 L588.2,123.6 L584.3,111.1 L580.1,99 L575.7,87.5 L570.9,76.6 L565.4,66.6 L560.1,58.7 L555.8,53.5 M612.7,487.4 L621.2,482.2 L631.7,474.3 L642.8,464.3 L652.5,453.4 L661.3,441.9 L669.6,429.8 L677.4,417.3 L684.4,404.4 L690.4,391.3 L695.9,378 L700.4,364.6 L704.1,351.2 L706.8,337.7 L708.8,324.3 L710.5,310.8 L711.6,297.4 L712.3,283.9 L712.6,270.4 L712.3,257 L711.6,243.5 L710.5,230.1 L708.8,216.6 L706.8,203.2 L704.1,189.7 L700.4,176.3 L695.9,162.9 L690.4,149.6 L684.4,136.5 L677.4,123.6 L669.6,111.1 L661.3,99 L652.5,87.5 L642.8,76.6 L631.7,66.6 L621.2,58.7 L612.7,53.5 M669.5,487.4 L682.3,482.2 L698.1,474.3 L714.7,464.3 L729.2,453.4 L742.4,441.9 L754.9,429.8 L766.5,417.3 L777.1,404.4 L786.1,391.3 L794.3,378 L801,364.6 L806.6,351.2 L810.7,337.7 L813.7,324.3 L816.2,310.8 L817.9,297.4 L819,283.9 L819.4,270.4 L819,257 L817.9,243.5 L816.2,230.1 L813.7,216.6 L810.7,203.2 L806.6,189.7 L801,176.3 L794.3,162.9 L786.1,149.6 L777.1,136.5 L766.5,123.6 L754.9,111.1 L742.4,99 L729.2,87.5 L714.7,76.6 L698.1,66.6 L682.3,58.7 L669.5,53.5" fill="none" stroke="#c8aecb" stroke-width="1.05" stroke-dasharray="2.1 5.9" opacity="0.8"/>
<path d="M322.9,202 325.9,207 328.9,212 M572.9,145.9 576.9,143.9 580.9,143.4 579.9,145.9 M812,274.5 814.8,272.4 818.3,274.2 816.2,277.3 812.7,277Z" fill="none" stroke="#000" stroke-width="2.51" stroke-linejoin="round" stroke-linecap="round"/>
<path d="M891,310.5 892,314" fill="none" stroke="#000" stroke-width="2.74" stroke-linejoin="round" stroke-linecap="round"/>
<path d="M209.9,91 219.9,88 227.9,85.8 235.9,84.5 243.8,85.5 251.8,86.8 262.8,90 270.8,88.5 277.8,87.5 285.8,87 291.8,86.8 300.8,88 M209.9,91 211.9,95 206.9,96.8 200.9,98.2 196.9,97 193.4,93 189.9,90 M179.7,96.2 181.9,100 185.4,104 190.9,102 196.9,99.2 204.9,99.8 207.1,102 200.9,103.7 192.9,105.6 188.4,108.9 189.9,112.9 195.4,115.1 199.4,118.7 191.9,119.9 181.9,122.7 170.9,125.7 M170.9,124.9 181.9,121.1 191.9,117.9 200.9,114.9 205.9,113.9 209.9,111.1 215.9,108.1 221.9,108.3 227.9,109.7 232.9,111.1 235.9,114.9 237.4,119.9 236.9,125.9 238.8,132.9 240.8,137.9 239.8,143.9 236.9,148.9 232.9,153.9 228.9,158.9 226.9,162.9 226.7,167.9 227.9,172.9 229.9,177.9 233.9,180.9 235.9,186.9 236.9,192 M389.4,71.5 394.9,70 402.9,67.5 411.9,65 421.9,63 434.9,61.2 446.9,60 457.9,60 469.8,61.5 481.8,64.2 476.8,66 471.8,68.5 468.8,73.5 465.9,77.5 460.9,82 455.9,86 450.9,89.5 443.9,91.5 437.9,94 431.9,96.5 425.9,99 422.9,103 418.9,107.9 415.4,111.9 409.9,108.9 405.9,104 403.9,98 403.9,93 406.9,89 408.9,85 408.9,80 405.9,76 400.9,74 393.9,73.5 389.4,71.5Z M455.9,97 461.9,95.5 470.8,95.5 475.3,98 471.8,101 465.9,103 459.9,102 456.4,99.5Z M487.8,113.9 494.3,112.4 495.3,118.9 496.8,123.9 500.3,128.9 502.3,131.1 500.8,133.9 501.8,136.1 495.8,138.1 489.3,139.7 491.8,135.9 489.8,133.9 488.8,129.9 491.8,127.9 490.8,123.9 488.8,119.9 486.8,116.9Z M478.8,126.9 481.8,123.9 485.8,123.4 486.8,126.9 484.8,130.9 480.8,132.9 477.8,132.4Z M532,122.9 521.8,125.9 511.8,129.9 505.8,133.9 500.8,137.9 495.8,139.9 489.3,141.1 491.8,143.9 495.8,145.9 496.8,149.9 495.8,153.9 486.8,152.9 479.8,154.4 479.3,159.9 479.8,165.9 478.8,169.9 480.8,171.4 484.8,171.9 487,174.1 491.8,173.4 494.8,171.4 497.8,166.9 500.8,162.9 503.8,158.9 509.8,155.9 515.8,153.9 519.8,151.9 521.8,154.9 525.8,158.9 532,162.9 M532,181.9 524.8,177.9 521.8,173.1 511.8,171.5 497.8,172.5 487.3,175.1 484.8,178.9 480.8,182.9 477.8,187.9 475.8,192 M387.4,128.9 385.9,132.9 380.9,134.1 373.9,135.1 365.9,136.1 359.9,138.1 354,142.1 350,145.1 M377.9,139.9 381.9,136.9 387.9,137.9 388.9,143.9 385.9,145.9 381.9,143.9 375.9,142.9Z M350,145.1 356,143.9 361.9,145.7 367.9,143.9 371.9,145.9 370.9,148.9 363.9,151.1 358.9,154.1 356,151.4 352,152.1 349,154.1 346,156.9 342,159.1 337,161.1 332,165.1 330.5,169.9 329,174.1 324,179.1 318,184.1 314,188.1 312.8,192 M514.8,68.2 523.8,66 532,65 M514.8,68.5 520.8,73 525.8,74.5 532,73 M270,88.8 276.8,86.8 281.9,85.9 286.9,87.6 292.6,88.8 297.1,91 299.4,93.3 305,93.6 309.5,92.7 315.2,91 320.8,92.1 324.2,93.3 328.7,92.7 332.1,92.1 336.6,91 339.5,88.2 341.2,85.9 342.8,89.9 345.1,94.4 346.8,97.8 342.8,99.5 337.8,100.6 332.1,102.9 326.5,105.1 320.8,108.5 317.4,111.9 317.4,114.7 319.1,118.1 324.2,120.4 329.3,122.6 334.4,123.8 335.5,127.2 333.2,129.4 334.9,133.6 339.5,131.1 341.2,127.2 342.8,122.6 342.8,120.4 347.9,119.8 349.1,115.3 351.3,111.3 353,108 354.7,105.7 358.1,104.6 362.6,105.1 365.4,108.5 366,112.5 368.8,115.9 372.8,114.7 375.6,111.3 377.3,110.2 379,113.6 379.6,118.1 379,121.5 382.9,123.8 386.3,127.2 387.2,130.5 M365.4,80.3 371.6,80.8 377.3,83.1 382.9,86.5 382.9,89.9 386.3,92.1 390.3,95 388.6,97.2 382.9,98.9 381.8,101.2 380.7,104 377.3,106.3 374.5,106.8 371.6,104.6 368.3,102.9 366,100 360.4,100.6 357,100 358.1,98.4 366,97.8 370.5,95.5 371.6,92.7 370.5,89.9 366,87.6 360.4,86.5 354.7,84.2 351.9,82.5 354.7,80.3 360.4,79.7Z M290.9,83.1 296.5,78.6 303.9,76.9 312.9,78.6 318.6,79.7 323.1,80.8 324.2,84.2 323.1,87.6 325.3,89.9 322.5,91.6 316.3,89.3 309.5,89.3 303.9,89.9 299.4,89.3 293.7,85.9Z M303.9,74.6 309.5,72.4 319.7,71.2 324.2,72.9 320.8,75.2 312.9,75.8 305,76.3Z M326.5,83.1 332.1,80.3 336.6,80.8 337.8,85.4 335.5,89.9 331,92.1 326.5,89.9 324.2,86.5Z M323.1,70.1 333.2,69 334.4,71.8 329.3,74.1 324.2,72.9Z M340,67.3 349.1,66.7 353.6,66.2 354.7,70.1 349.1,72.9 342.3,72.4Z M358.1,66.2 366,63.9 377.3,62.8 388.6,61.6 400,61.1 M369.4,71.8 377.3,70.1 385.8,67.3 394.2,65.6 400,64.5 M341.2,85.4 342.8,89.9 345.1,94.4 346.8,97.8 350.2,98.9 351.3,95.5 349.1,92.1 350.2,87.6 347.9,84.2 343.4,83.1Z M343.4,100.6 349.1,98.9 351.9,101.2 350.2,104 345.7,105.7 342.3,104Z M244.5,209 243,203 241.8,197 241.2,191 239.5,185 241,184.5 243.5,187.5 244.5,194 247.2,200 251,206 254,211 253.2,216 257,220 263,224 268.9,227 273.9,228.5 277.9,227 281.9,231 286.9,234.5 292.9,235.9 295.9,239.9 297.9,243.9 302.9,246.9 305.9,249.9 308.9,250.9 310.9,248.9 313.9,245.9 315.9,248.9 315.9,253.9 314.9,259.9 311.9,263.9 308.9,268.9 307.4,273.9 308.9,277.9 305.9,281.9 306.4,285.9 309.9,290.9 313.9,297.9 317.9,304.9 320.9,309.9 327.9,314.9 332.9,318.9 334.9,322 M323.9,180 315.9,184 313.4,188 313.9,194 314.9,200 312.9,203.5 310.4,200 309.4,194 307.9,190 303.9,188.5 296.9,188 293.9,190.8 287.9,190 281.9,190.5 276.9,194 273.9,199 271.9,205 271.4,211 272.4,216 275.9,220 279.9,221 284.9,219.5 287.4,216 288.9,213 295.9,212 296.9,214 294.9,219 292.9,224 290.9,228 293.9,228.5 299.9,229 303.4,232 301.9,235.9 300.9,241.9 302.4,244.9 305.9,245.9 310.9,244.9 314.9,244.9 317.9,247.9 318.9,243.9 323.9,239.9 329.9,237.4 333.9,238.9 336.9,240.9 343.9,241.9 349.9,241.4 354.9,242.4 353.9,245.9 357.9,248.9 362.9,253.9 368.9,254.4 374.9,256.9 378.8,262.9 379.8,267.9 378.8,271.9 385.8,271.9 392.8,275.9 399.8,277.9 405.8,278.9 410.8,283.9 415.8,284.9 417.3,289.9 415.8,294.9 411.8,299.9 407.8,305.9 406.8,312.9 406.3,322 M406.4,322 403.9,327 399.9,331.5 394.9,332.5 389.9,335 386.4,340 387.4,345 383.9,351 379.9,356.9 376.9,361.9 372.9,363.9 367.9,362.9 371.9,366.9 372.9,371.9 368.9,374.4 361.9,375.4 363.4,379.9 359.9,384.9 358.9,389.9 355.9,393.9 358.9,396.9 361.9,398.9 358.9,403.9 356.9,407.9 361.9,411.9 369.9,416.4 363.9,418.9 357.9,417.9 351.9,414.9 346.9,409.9 343,403.9 340.5,397.9 339.5,391.9 339,384.9 337.5,377.9 336,369.9 337.5,363.9 337,355.9 336,348 336,340 335.5,330 335,322 M486,173.5 494,175 499.9,172 507.9,170.8 515.9,170 521.9,170 523.4,174 520.9,178 524.9,181 531.9,183.5 536.9,187 542.9,189 544.9,184 548.9,182 555.9,184 562.9,186.5 569.9,187 574.9,186 577.9,184.5 579.4,178 578.9,171.8 M571.9,188 574.9,194 578.9,202 582.9,210 585.9,216.9 590.9,223.9 595.9,229.9 599.9,235.9 603.9,242.4 609.8,240.9 615.8,238.9 619.8,237.9 618.8,243.9 615.8,249.9 611.8,256.9 607.8,261.9 602.9,266.9 597.9,272.9 593.9,277.9 590.9,284.9 591.9,291.9 594.4,297.9 594.9,302 M577.9,185 577.9,192 581.9,200 586.9,208 590.9,215.9 595.9,221.9 599.9,228.9 601.4,234.9 607.8,233.9 615.8,229.9 624.8,224.9 630.8,219.9 634.8,215.9 637.8,211 633.8,207 629.8,203 626.8,200 628.3,198.5 623.8,205 618.8,205.5 615.8,201 612.8,196 609.8,192 608.3,189.5 611.8,188.5 614.8,192 618.8,197 624.8,200 628.8,199 634.8,201 643.8,202 652.8,201.5 657.8,207 662.8,211 667.8,212 670,219.9 M486,173.5 483,178 479,182 476.5,187 475,191 469,194.5 465,201 461.5,207 459,213 460.5,218.9 459.5,224.9 458,230.9 459.5,236.9 464,241.9 467.5,247.9 473,252.9 479,257.9 481,258.9 487,256.4 494,257.4 499.9,254.9 504.9,252.9 509.9,253.4 511.9,257.9 515.9,258.9 519.9,258.4 522.4,261.9 520.9,267.9 519.9,272.9 522.9,277.9 526.9,283.9 529.9,290.9 531.4,297.9 531.9,302 M478,160 478.5,167 482,170.5 486,172 494,170.5 499.9,164 503.9,160 M573.9,270.9 578.9,269.4 580.9,271.9 578.9,276.9 574.9,277.4Z M609.8,160 605.9,165 608.8,170 613.8,172.5 618.8,170 616.8,165 613.8,160 M532,302 529,306 526.5,312 525.5,318 529,324 532,330 533,337 534.5,344 538,349.9 540,355.9 539.5,359.9 543,363.9 550,362.4 558.9,360.9 563.9,357.9 568.9,352.9 572.9,347.9 574.9,343 573.9,339.5 578.9,337.5 581.9,334 581.4,329 579.9,325 584.9,320 588.9,316.5 593.9,313 595.4,309 594.9,302 M614.9,302.5 617.9,310 615.9,317 612.9,324 609.9,332 607.4,338 602.9,340 599.9,336 598.9,330 600.9,325 601.9,319 602.9,314 607.9,312 611.9,308Z M521,92 524,90 532,87 540,85 546.9,85 553.9,87 561.9,89 568.9,91.5 572.4,94.5 569.9,98 563.9,97 558.9,94.5 555.9,94.5 561.9,99 565.9,102 568.9,99 572.9,96 576.9,92 579.9,90 583.9,89 585.9,91 591.9,89.5 597.9,87 601.9,88 604.9,90 608.9,88.5 611.4,85 613.4,80 616.9,81 618.9,86 619.4,91 622.9,90 623.4,85 626.9,83 629.9,86 627.9,91 624.9,95 628.9,94 631.9,89 633.9,83 637.9,78 643.9,75 649.9,73.5 654.9,73 649.9,71 641.9,68.5 633.9,66 636.9,64.5 645.9,66 653.9,68.5 659.8,72 669.8,73 677.8,76 673.8,80 681.8,79 689.8,80 699.8,79.5 709.8,81 715.8,85 720,86 M584.9,83 586.9,77 592.9,74 599.9,72.5 606.9,73 605.9,75 597.9,76 592.9,79 590.9,83 594.9,85.5 588.9,86Z M514.5,68 523,66 539,66 537,71 530,72 525,74 520,71.5Z M521,92 523,96 519,100 514,103 510,106 507.5,109 508.5,113.9 511.5,115.9 515,117.4 517.5,114.4 520,113.4 521.5,116.9 522,120.9 524.5,124.9 529,123.9 533,119.9 534,114.9 531,111.9 533,107 537,103 539,99 542,97 545,98.5 542,101.5 539,104.5 539.5,108.5 541.5,111.9 545.9,111 551.9,110 558.9,108 559.9,110 553.9,111.9 545.9,113.9 544.5,117.4 541,119.9 540,123.9 534,125.4 528,126.4 523,126.9 520,124.9 519,119.9 516,115.9 514.5,119.9 515.5,124.9 517,127.4 510,128.4 504,131.9 500,135.9 496,138.9 490,140.9 M522,154.9 520,153.9 525,157.9 530,161.9 535,164.9 540,167.9 545.9,171.9 548.9,171.9 549.9,168.9 545.9,165.9 542,160.9 537,155.9 530,150.9 524,147.9 526,146.9 533,151.9 539,156.9 544,162.9 546.9,166.9 548.9,170.9 549.9,174.9 553.9,171.9 551.9,167.9 554.9,164.9 558.9,163.9 561.9,165.9 559.9,161.9 563.9,160.9 567.9,161.9 568.9,165.9 569.9,170.9 572.9,174.9 577.9,172.9 578.9,171.9 M558.9,157.9 559.9,151.9 562.9,145.9 565.9,144.9 569.9,147.9 572.9,145.9 574.9,143.9 580.9,143.9 577.9,148.9 581.9,150.9 585.9,154.9 589.9,156.9 587.9,159.9 581.9,160.4 574.9,159.9 567.9,160.9 563.9,160.9Z M598.9,146.9 604.9,143.4 610.9,144.9 612.9,148.9 609.9,150.9 606.9,151.9 608.9,156.9 613.9,159.9 616.9,163.9 618.9,169.9 615.9,171.9 610.9,170.9 606.9,166.9 606.9,161.9 603.9,156.9 600.9,152.9Z M622.4,149.4 623.6,146.6 626.4,145.4 629.2,146.6 630.4,149.4 629.2,152.2 626.4,153.4 623.6,152.2Z M700,79.5 710,80.5 715,84 720,85.8 724,83.5 730,82 733,84 736,81 742,81.5 750,84 757.9,85 764.9,85 771.9,88 779.9,88.5 787.9,88 792.9,90 795.9,87 799.9,86 M828.9,105 823.9,107 819.9,110.5 814.9,110 809.9,111.5 812.9,116.9 816.9,120.9 819.9,125.9 820.9,131.9 818.9,136.9 815.9,131.9 809.9,126.9 804.9,121.9 802.9,116.9 804.9,111.9 804.9,107 801.9,104.7 799.9,109 793.9,109 791.9,107 793.9,112.9 787.9,113.9 779.9,111.9 769.9,112.9 768.9,117.9 766.9,124.9 771.9,124.4 775.9,126.9 782.9,124.9 785.9,131.9 789.9,138.9 790.9,143.9 788.9,150.9 782.9,154.9 779.9,159.9 777.9,164.9 782.9,168.9 786.9,173.9 787.9,176.9 782.9,178.9 780.9,173.9 778.9,169.9 775.9,165.9 771.9,163.9 767.9,164.9 763.9,160.9 758.9,164.9 756.9,166.9 761.9,169.9 769.9,169.2 765.9,173.9 767.9,178.9 771.9,184.9 775.9,189.9 776.9,195.9 775.9,198 M799.9,153.9 804.9,151.9 812.9,149.9 811.9,154.9 805.9,156.9 800.9,156.9Z M802.9,157.9 808.9,161.9 810.9,167.9 812.9,174.9 808.9,177.9 803.9,179.9 799.9,182.9 795.9,185.9 791.9,181.9 793.9,175.9 799.9,173.9 803.9,169.9 804.9,163.9 801.9,159.9Z M640,203.5 646,202.5 653,202 657,207 660,210 663,213 666,212 667.5,210 668.5,215 670,222 673,230 676,236.9 679,243.9 682,248.9 684,248.9 686,244.9 688,239.9 687,234 687,229 692,224 697.9,218 701.9,213 705.9,212 710.4,209.2 712.9,212 715.9,218 718.9,223 721.9,227 725.9,225 728.9,227 729.9,232 731.9,237.9 730.9,243.9 734.9,251.9 739.9,258.9 744.9,266.9 746.1,265.9 743.9,257.9 740.9,251.9 737.9,247.9 734.9,243.9 733.9,237.9 735.9,234.5 739.9,235.9 743.9,240.9 747.4,245.9 750.9,243.9 754.9,239.9 756.9,234 753.9,228 749.9,223 746.9,219 745.9,216 749.9,212 754.9,213 759.9,211 765.9,209 770.9,206 774.9,201 777.4,195 777.9,190 774.9,185 771.9,180 M752.4,218.5 753.6,216.3 755.9,216 757.4,218 756.4,220.5 753.9,221Z M688,247.9 692,246.9 693.5,250.9 691,254.9 688,252.9Z M724.9,254.9 729.9,257.9 734.9,263.9 739.9,269.9 744.9,274.9 749.9,279.9 750.9,284.9 750.9,288.4 747.9,283.9 742.9,278.9 737.9,272.9 732.9,266.9 727.9,260.9Z M750.9,288.4 759.9,289.9 769.9,290.9 779.9,292.9 787.9,294.4 779.9,294.9 769.9,293.4 759.9,292.4Z M757.9,265.9 762.9,262.9 768.9,257.9 774.9,251.9 777.1,251.4 779.9,253.9 781.9,257.9 778.9,261.9 779.9,266.9 777.9,271.9 773.9,277.9 769.9,280.9 764.9,278.9 760.9,276.9 758.9,271.9Z M781.1,219.7 784.6,221.2 786,224.7 784.6,228.9 786,231.7 789.5,232.4 792.3,235.2 795.1,238 795.8,241.5 793.7,240.1 790.9,238 788.1,236.6 786,238 783.9,235.2 781.8,231.7 780,228.2 780,223.3Z M788.1,238 791.6,240.1 795.1,242.9 797.9,246.4 799.3,250.6 797.2,254.2 793.7,254.9 790.9,252.1 788.1,250.6 787.4,248.5 790.2,247.1 788.8,244.3 787.4,241.5Z M808.5,270.3 813.4,271 818.3,272.4 821.1,273.7 826.7,274.2 832.3,275.9 837.2,278 842.9,281.5 846.4,285.1 847.8,291.4 850.6,295.6 853.4,298.4 848.5,295.6 845,292.1 841.5,289.3 837.9,290.7 834.4,294.2 830.2,292.8 825.3,292.1 826.7,287.9 825.3,283.7 819.7,280.8 816.2,278 812.7,277 812,274.5 809.2,272.4Z M781.9,322 785.9,315.9 791.9,310.9 797.9,307.9 801.9,309.9 805.9,304.9 809.8,300.9 815.8,301.9 821.8,303.4 819.8,308.9 822.8,312.9 827.8,317.9 831.8,313.9 833.8,306.9 835.3,299.9 837.8,306.9 839.8,313.9 841.8,322 M763,329 769,326 775.9,323.5 781.9,321.5 784.9,317 788.9,314 793.9,310 798.9,308 801.9,311 804.9,307 805.9,301.5 811.9,301 815.9,303 821.9,303.5 820.9,307 817.9,311 821.9,315 826.9,319 830.9,316 832.9,310 834.4,304 835.4,299.5 837.4,305 839.9,311 841.9,319 845.9,324 848.9,331 851.9,338 851.4,345.9 848.9,350.9 844.9,355.9 839.9,359.9 834.9,364.9 830.9,369.9 825.9,371.9 820.9,374.4 817.9,371.9 814.9,374.4 810.9,371.9 808.9,367.9 809.9,363.9 808.9,358.9 805.9,361.9 804.9,366.9 802.9,361.9 800.9,356.9 796.9,354.9 791.9,354.4 784.9,355.9 778.9,358.9 774,360.9 768,361.4 763,364.4 759,363.9 757,360.9 760,357.9 761.5,351.9 761,345.9 760,341 761.5,335Z M812.9,380.4 817.9,379.4 821.9,379.9 820.9,383.9 816.9,386.9 812.9,388.4 811.4,384.9Z M886.4,362.4 887.8,365.9 889.8,370.9 892.8,371.9 888.8,374.9 884.9,376.9 879.9,375.9 883.9,372.9 886.4,368.9 885.9,363.9Z M879.9,376.9 873.9,380.9 865.9,384.9 857.9,388.9 850.9,393.9 850.9,396.9 855.9,395.9 861.9,392.9 869.9,388.9 876.9,383.9 882.9,379.9Z M252.2,470.5 264.3,466.9 274.1,463.2 285,462.6 293.5,464.5 298.4,466.3 297.2,460.2 305.7,460.2 311.8,463.2 317.8,462 325.1,463.2 332.4,460.8 334.9,457.2 342.2,459.6 351.9,459.6 361.6,459 370.1,458.4 373.8,453.5 377.4,448.7 381.1,443.8 386,438.9 390.8,435.3 396.9,437.7 390.8,441.4 386,446.2 387.2,449.9 392,451.1 396.9,454.7 400.6,459.6 399.3,465.7 395.7,468.1 404.2,468.1 416.4,469.9 429.7,471.2 441.9,470.5 452.9,466.3 465,460.8 477.2,457.2 489.3,454.7 496.6,454.1 499.1,456 507.6,453.5 520,452.3 M274.1,473 286.2,474.8 276.5,476.6 283.8,479.7 301.4,482.7 269.2,480.3 255.8,479.7 M373.8,453.5 379.9,457.2 387.2,457.2 388.4,459.6 379.9,460.8 372.6,459.6Z M490,456 494.9,454.1 498.5,456.6 505.8,453.5 516.8,452.9 526.5,453.5 537.4,454.5 547.2,452.9 554.5,451.7 557.5,449.9 565.4,452.9 570.3,449.3 577.6,447.4 586.1,447.4 591,443.8 597,443.2 601.9,446.8 611.6,447.4 620.8,447.7 620.1,451.1 618.3,454.1 623.8,452.3 629.9,451.7 636,448.7 645.7,446.2 657.9,445.2 670,445.2 682.2,443.2 690.7,445.6 700.4,443.2 708.9,445.6 718.7,445.2 724.8,444.4 727.2,446.2 730.8,443.8 739.3,443.8 749.1,445 756.4,449.3 764.9,450.5 770,450.1 M756.2,448.2 772.2,452.2 786.2,456.2 774.2,460.2 764.2,464.2 756.2,468.2 746.2,470.2 738.2,473.2 730.2,477.2 732.2,480.2 746.2,479.2 750.2,476.2 M127.5,210.5 130.5,212.8 133.5,214.6" fill="none" stroke="#000" stroke-width="2.96" stroke-linejoin="round" stroke-linecap="round"/>
<path d="M144.1,131.1 146.9,130.5 M136.4,131.7 139.9,132.5 M520.8,70 525.8,71 M460,194.7 464,195.5 M466.5,192.7 468.5,193.5 M92,387.5 92.6,388.3 M400,61.1 418,60.6 435,61" fill="none" stroke="#000" stroke-width="3.42" stroke-linejoin="round" stroke-linecap="round"/>
<path d="M157.9,129.1 165.9,126.7 M812.9,149.9 816.9,146.4 M882.4,325.5 886.4,329.5" fill="none" stroke="#000" stroke-width="3.65" stroke-linejoin="round" stroke-linecap="round"/>
<path d="M286.3,114.4 293.3,112.4 M298,119.4 301.8,117.9 M360.4,69 368.8,67.3 377.3,66.2 385.8,65.6 M233.5,180 234.5,186 235.5,193 237.5,199 240.5,204 244.5,209 M564.4,65.5 572.9,65.5 M577.4,66 583.9,65.2 593.9,65.2 M725.7,262.7 726.3,263.3 M729.7,267.7 730.3,268.3 M733.7,273.7 734.3,274.3 M914.3,317 918.3,315.4" fill="none" stroke="#000" stroke-width="3.88" stroke-linejoin="round" stroke-linecap="round"/>
<path d="M280.3,109.1 296.8,104.8 M319,158.1 327,154.1 M329.5,152.9 336,151.9 M353.6,66.2 353.6,83.1 M319.1,198.7 320.7,199.1 M567.9,279.9 569.9,287.9 571.9,293.9 M579.9,296.4 580.9,302 M573.9,91 583.9,88.5 M655.9,149.4 654.9,145.9 659.8,145.1 665.8,144.9 M779.4,202.5 780.9,205 779.9,210 778.1,209 777.9,204Z M790.9,241.5 793,247.1 M784.6,272.4 790.9,272.4 M801.4,279.4 808.5,279.1 M865.3,285.1 869.6,287.9 M871.7,289.6 875.2,292.1 M877.3,293.8 881.5,298.4 M120.4,323.2 121,324" fill="none" stroke="#000" stroke-width="4.10" stroke-linejoin="round" stroke-linecap="round"/>
<path d="M423.7,414.9 427.7,416.3 M776.2,247.1 781.8,240.8 M801.4,264.7 803.5,267.5 802.8,272.4 M846.4,285.1 850.6,285.8 855.5,285.1 859.7,282.9 861.1,280.1 858.3,278" fill="none" stroke="#000" stroke-width="4.33" stroke-linejoin="round" stroke-linecap="round"/>
<path d="M182.4,109.9 185.9,111.4 M237.4,118.9 239.8,123.9 M461.9,62 479.8,65 M454.9,86.5 463.9,81 M484.6,85.2 485.2,85.8 M486,105.5 486.6,106 M496,110.1 496.6,110.7 M436.1,166.7 436.7,167.3 M442.1,168.5 442.9,169.1 M305,144.7 311,141.4 317,139.1 322,142.7 M322,142.9 323.5,149.9 323.2,154.9 318.8,158.4 M343.4,101.2 350.2,102.9 M318.1,204.2 319.9,205 M354.2,226.3 354.8,226.9 M355.2,230.3 355.8,230.9 M412.1,430.1 412.9,431.1 M442.2,168.8 442.8,169.2 M570.9,291 572.4,294 M554.9,108.5 559.9,109 M731,76 740,76.7 M794.6,194.1 795.2,194.7 M793.6,197.1 794.2,197.7 M785.3,275.9 789.5,279.4 790.2,284.4 M794.9,275 795.3,275.4" fill="none" stroke="#000" stroke-width="4.56" stroke-linejoin="round" stroke-linecap="round"/>
<path d="M315.9,221.6 320.9,222 M342.1,221.1 345.4,221.5 M579.4,296.5 580.9,303 581.9,308.5 M627.5,327.2 628.3,327.8 M633,324.7 633.8,325.3 M550.9,175.4 557.9,175.9 M783.5,297.1 784.5,297.5 M788.1,234.5 793,240.1 794.4,244.3 M789.5,249.9 793,252.8 M781.8,268.2 788.1,266.8 795.1,265.7 M798.1,279.6 798.6,280.1 M809.6,290.1 810.1,290.5 M816.7,287 817.1,287.4 M847.2,275.4 847.6,275.8" fill="none" stroke="#000" stroke-width="4.79" stroke-linejoin="round" stroke-linecap="round"/>
<path d="M375.4,408.9 381.4,408.5 M783.2,268.2 783.2,275.2 781.8,284.4" fill="none" stroke="#000" stroke-width="5.02" stroke-linejoin="round" stroke-linecap="round"/>
<path d="M232.4,126.9 234.4,130.9 M300.6,127.9 301.4,134.9 M505,163.6 505.8,164.2 M517.8,157.4 518.8,164.9 M317,140.4 313,149.9 309.2,158.4 M357,99.5 365.4,98.9 M301.6,86.8 307.3,86.8 M340.6,74.6 351.9,72.9 363.2,71.8 371.6,74.6 374.5,79.7 M343.4,79.7 354.7,78.6 366,79.7 372.8,80.8 M329.9,239.9 329.9,245.9 M383.3,272.9 384.8,273.9 M324.9,220.2 329.9,219 335.9,219.8 338.9,221.2 M282.1,271.7 282.9,272.5 M625.5,236.6 626.1,237.2 M633.9,65.5 655.9,71 M623.9,93 629.9,92 M528,67 537,69 M716,74.7 719.8,76 M563.4,104.5 566.9,108 M515.5,115.9 520,123.9 M792.9,178.9 797.4,176.9 795.9,182.4Z M827.4,122.7 829.4,123.7 M847.3,128.7 848.1,129.7 M717.7,234.8 716.9,238.9 M788.9,294.9 795.9,293.4 800.9,291.9 M791.9,298.1 795.9,296.5 M886.4,362.9 888.3,369.9 M379.9,447.4 389.6,436.5 396.9,437.1 M755.8,468.4 758.2,469.3" fill="none" stroke="#000" stroke-width="5.13" stroke-linejoin="round" stroke-linecap="round"/>
<path d="M135.5,216.2 136.8,218" fill="none" stroke="#000" stroke-width="5.24" stroke-linejoin="round" stroke-linecap="round"/>
<path d="M407.9,85 410.4,89 M379,95.5 380.7,97.8 M373.3,101.7 375,104 M363.2,91 371.1,94.4 M346.2,75.8 368.8,77.5 M377.8,272.4 379.8,273.4 M303.4,211.2 309.9,209.2 315.9,211.2 321.9,214.5 327.9,217.2 M340.5,381.9 342,389.9 M357.9,379.9 360.4,384.9 M353.9,410.9 359.9,414.9 M641.9,402.1 644.1,402.7 M710.8,132.9 715.3,128.4 716.8,122.9 M517,156.9 519,164.9 M527,168.4 533,170.9 M504.8,163.7 505.4,164.3 M572.5,175.1 573.5,175.9 M550.5,174.4 552.9,175.9 M716,75 725,76 730,79.5 M795.9,140.9 799.9,146.9 803.9,155.9 M820.4,100 823.9,101 M827.9,104.5 830.9,105.2 M710,133.9 716,129.9 718,125.9 715.5,121.4 M804.9,363.9 807.9,361.9" fill="none" stroke="#000" stroke-width="5.70" stroke-linejoin="round" stroke-linecap="round"/>
<path d="M240.3,135.4 243.8,141.9 M531.4,233.4 533.4,235.9 M332.4,459.6 339.7,460.8 M371.4,454.7 377.4,457.2" fill="none" stroke="#000" stroke-width="6.27" stroke-linejoin="round" stroke-linecap="round"/>
<path d="M276.8,97.2 288.8,95.2 M253.4,469.9 272.8,470.5" fill="none" stroke="#000" stroke-width="6.84" stroke-linejoin="round" stroke-linecap="round"/>
<path d="M783.9,125.9 789.9,133.9 795.9,140.9" fill="none" stroke="#000" stroke-width="7.98" stroke-linejoin="round" stroke-linecap="round"/>
</g>
<path d="M271.6,487.4 L263.7,485.2 L254.6,482.2 L244.4,478.5 L233.6,474.3 L222.3,469.5 L211.4,464.3 L201.4,459 L192,453.4 L183.1,447.8 L174.5,441.9 L166,435.9 L157.8,429.8 L149.9,423.6 L142.3,417.3 L135,410.9 L128.2,404.4 L122,397.9 L116.1,391.3 L110.5,384.7 L105.3,378 L100.6,371.3 L96.3,364.6 L92.4,357.9 L88.9,351.2 L85.9,344.4 L83.3,337.7 L81.2,331 L79.4,324.3 L77.7,317.5 L76.1,310.8 L74.8,304.1 L73.8,297.4 L73,290.6 L72.4,283.9 L72,277.2 L71.8,270.4 L72,263.7 L72.4,257 L73,250.3 L73.8,243.5 L74.8,236.8 L76.1,230.1 L77.7,223.4 L79.4,216.6 L81.2,209.9 L83.3,203.2 L85.9,196.5 L88.9,189.7 L92.4,183 L96.3,176.3 L100.6,169.6 L105.3,162.9 L110.5,156.2 L116.1,149.6 L122,143 L128.2,136.5 L135,130 L142.3,123.6 L149.9,117.3 L157.8,111.1 L166,105 L174.5,99 L183.1,93.1 L192,87.5 L201.4,81.9 L211.4,76.6 L222.3,71.4 L233.6,66.6 L244.4,62.4 L254.6,58.7 L263.7,55.7 L271.6,53.5 L726.4,53.5 L734.3,55.7 L743.4,58.7 L753.6,62.4 L764.4,66.6 L775.7,71.4 L786.6,76.6 L796.6,81.9 L806,87.5 L814.9,93.1 L823.5,99 L832,105 L840.2,111.1 L848.1,117.3 L855.7,123.6 L863,130 L869.8,136.5 L876,143 L881.9,149.6 L887.5,156.2 L892.7,162.9 L897.4,169.6 L901.7,176.3 L905.6,183 L909.1,189.7 L912.1,196.5 L914.7,203.2 L916.8,209.9 L918.6,216.6 L920.3,223.4 L921.9,230.1 L923.2,236.8 L924.2,243.5 L925,250.3 L925.6,257 L926,263.7 L926.2,270.4 L926,277.2 L925.6,283.9 L925,290.6 L924.2,297.4 L923.2,304.1 L921.9,310.8 L920.3,317.5 L918.6,324.3 L916.8,331 L914.7,337.7 L912.1,344.4 L909.1,351.2 L905.6,357.9 L901.7,364.6 L897.4,371.3 L892.7,378 L887.5,384.7 L881.9,391.3 L876,397.9 L869.8,404.4 L863,410.9 L855.7,417.3 L848.1,423.6 L840.2,429.8 L832,435.9 L823.5,441.9 L814.9,447.8 L806,453.4 L796.6,459 L786.6,464.3 L775.7,469.5 L764.4,474.3 L753.6,478.5 L743.4,482.2 L734.3,485.2 L726.4,487.4Z" fill="none" stroke="#242424" stroke-width="4.1" stroke-linejoin="round"/>
<path d="M271.6,487.4 L263.7,485.2 L254.6,482.2 L244.4,478.5 L233.6,474.3 L222.3,469.5 L211.4,464.3 L201.4,459 L192,453.4 L183.1,447.8 L174.5,441.9 L166,435.9 L157.8,429.8 L149.9,423.6 L142.3,417.3 L135,410.9 L128.2,404.4 L122,397.9 L116.1,391.3 L110.5,384.7 L105.3,378 L100.6,371.3 L96.3,364.6 L92.4,357.9 L88.9,351.2 L85.9,344.4 L83.3,337.7 L81.2,331 L79.4,324.3 L77.7,317.5 L76.1,310.8 L74.8,304.1 L73.8,297.4 L73,290.6 L72.4,283.9 L72,277.2 L71.8,270.4 L72,263.7 L72.4,257 L73,250.3 L73.8,243.5 L74.8,236.8 L76.1,230.1 L77.7,223.4 L79.4,216.6 L81.2,209.9 L83.3,203.2 L85.9,196.5 L88.9,189.7 L92.4,183 L96.3,176.3 L100.6,169.6 L105.3,162.9 L110.5,156.2 L116.1,149.6 L122,143 L128.2,136.5 L135,130 L142.3,123.6 L149.9,117.3 L157.8,111.1 L166,105 L174.5,99 L183.1,93.1 L192,87.5 L201.4,81.9 L211.4,76.6 L222.3,71.4 L233.6,66.6 L244.4,62.4 L254.6,58.7 L263.7,55.7 L271.6,53.5 L726.4,53.5 L734.3,55.7 L743.4,58.7 L753.6,62.4 L764.4,66.6 L775.7,71.4 L786.6,76.6 L796.6,81.9 L806,87.5 L814.9,93.1 L823.5,99 L832,105 L840.2,111.1 L848.1,117.3 L855.7,123.6 L863,130 L869.8,136.5 L876,143 L881.9,149.6 L887.5,156.2 L892.7,162.9 L897.4,169.6 L901.7,176.3 L905.6,183 L909.1,189.7 L912.1,196.5 L914.7,203.2 L916.8,209.9 L918.6,216.6 L920.3,223.4 L921.9,230.1 L923.2,236.8 L924.2,243.5 L925,250.3 L925.6,257 L926,263.7 L926.2,270.4 L926,277.2 L925.6,283.9 L925,290.6 L924.2,297.4 L923.2,304.1 L921.9,310.8 L920.3,317.5 L918.6,324.3 L916.8,331 L914.7,337.7 L912.1,344.4 L909.1,351.2 L905.6,357.9 L901.7,364.6 L897.4,371.3 L892.7,378 L887.5,384.7 L881.9,391.3 L876,397.9 L869.8,404.4 L863,410.9 L855.7,417.3 L848.1,423.6 L840.2,429.8 L832,435.9 L823.5,441.9 L814.9,447.8 L806,453.4 L796.6,459 L786.6,464.3 L775.7,469.5 L764.4,474.3 L753.6,478.5 L743.4,482.2 L734.3,485.2 L726.4,487.4Z" fill="none" stroke="#c4c4c4" stroke-width="1.1" stroke-dasharray="1.8 3.9"/>
<text class="t" x="164.9" y="44.5" textLength="667" lengthAdjust="spacing">JJA 2080-2099, Diff, MPI-ESM-LR, rcp85, median - MPI-ESM-LR</text>
<g class="l">
<text x="210.8" y="62.2">90<tspan dy="-11" dx="0.4" font-size="14">°</tspan><tspan x="245.9" y="62.2">N</tspan></text>
<text x="55.6" y="158.6">45<tspan dy="-11" dx="0.4" font-size="14">°</tspan><tspan x="90.7" y="158.6">N</tspan></text>
<text x="41.6" y="278.2">0<tspan dy="-11" dx="0.4" font-size="14">°</tspan></text>
<text x="57" y="400">45<tspan dy="-11" dx="0.4" font-size="14">°</tspan><tspan x="92.1" y="400">S</tspan></text>
<text x="212.9" y="496.2">90<tspan dy="-11" dx="0.4" font-size="14">°</tspan><tspan x="248" y="496.2">S</tspan></text>
<text x="242.2" y="534">180<tspan dy="-11" dx="0.4" font-size="14">°</tspan><tspan x="288.5" y="534">W</tspan></text>
<text x="298.7" y="534">135<tspan dy="-11" dx="0.4" font-size="14">°</tspan><tspan x="345" y="534">W</tspan></text>
<text x="364.3" y="534">90<tspan dy="-11" dx="0.4" font-size="14">°</tspan><tspan x="399.4" y="534">W</tspan></text>
<text x="421.1" y="534">45<tspan dy="-11" dx="0.4" font-size="14">°</tspan><tspan x="456.2" y="534">W</tspan></text>
<text x="498.1" y="534">0<tspan dy="-11" dx="0.4" font-size="14">°</tspan></text>
<text x="537.6" y="534">45<tspan dy="-11" dx="0.4" font-size="14">°</tspan><tspan x="572.7" y="534">E</tspan></text>
<text x="593.9" y="534">90<tspan dy="-11" dx="0.4" font-size="14">°</tspan><tspan x="629" y="534">E</tspan></text>
<text x="643.5" y="534">135<tspan dy="-11" dx="0.4" font-size="14">°</tspan><tspan x="689.8" y="534">E</tspan></text>
<text x="700.1" y="534">180<tspan dy="-11" dx="0.4" font-size="14">°</tspan><tspan x="746.4" y="534">E</tspan></text>
<rect x="948.5" y="51.8" width="40.2" height="436.4" fill="url(#jet)" stroke="#262626" stroke-width="1"/>
<text x="996.3" y="58.7" font-size="18">100</text>
<path d="M984.2,95.4 H988.7" stroke="#262626" stroke-width="1"/>
<text x="996.3" y="102.3" font-size="18">80</text>
<path d="M984.2,139.1 H988.7" stroke="#262626" stroke-width="1"/>
<text x="996.3" y="146" font-size="18">60</text>
<path d="M984.2,182.7 H988.7" stroke="#262626" stroke-width="1"/>
<text x="996.3" y="189.6" font-size="18">40</text>
<path d="M984.2,226.4 H988.7" stroke="#262626" stroke-width="1"/>
<text x="996.3" y="233.3" font-size="18">20</text>
<path d="M984.2,270 H988.7" stroke="#262626" stroke-width="1"/>
<text x="996.3" y="276.9" font-size="18">0</text>
<path d="M984.2,313.6 H988.7" stroke="#262626" stroke-width="1"/>
<text x="996.3" y="320.5" font-size="18">-20</text>
<path d="M984.2,357.3 H988.7" stroke="#262626" stroke-width="1"/>
<text x="996.3" y="364.2" font-size="18">-40</text>
<path d="M984.2,400.9 H988.7" stroke="#262626" stroke-width="1"/>
<text x="996.3" y="407.8" font-size="18">-60</text>
<path d="M984.2,444.6 H988.7" stroke="#262626" stroke-width="1"/>
<text x="996.3" y="451.5" font-size="18">-80</text>
<text x="996.3" y="495.1" font-size="18">-100</text>
</g>
</g>
</svg></body></html>
